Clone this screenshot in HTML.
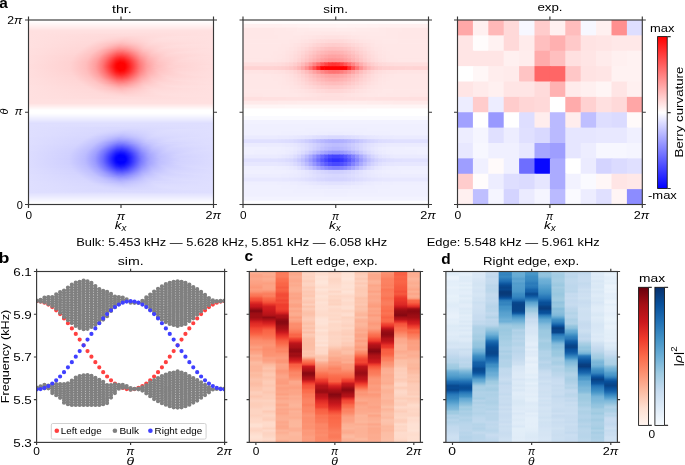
<!DOCTYPE html>
<html><head><meta charset="utf-8"><style>
html,body{margin:0;padding:0;background:#fff;overflow:hidden}
svg{display:block;will-change:transform}
text{font-family:"Liberation Sans",sans-serif;fill:#000}
</style></head><body>
<svg width="685" height="465" viewBox="0 0 685 465">
<defs>
<clipPath id="ca1"><rect x="28.50" y="20.00" width="185.00" height="184.50"/></clipPath>
<clipPath id="ca2"><rect x="243.00" y="20.00" width="185.50" height="184.50"/></clipPath>
<linearGradient id="g1" gradientUnits="userSpaceOnUse" x1="28.50" x2="213.50" y1="0" y2="0"><stop offset="0.0027" stop-color="#ffe0e0"/><stop offset="0.6676" stop-color="#ffe0e0"/><stop offset="0.9973" stop-color="#ffe0e0"/></linearGradient>
<linearGradient id="g2" gradientUnits="userSpaceOnUse" x1="28.50" x2="213.50" y1="0" y2="0"><stop offset="0.0027" stop-color="#ffe0e0"/><stop offset="0.6081" stop-color="#ffdfdf"/><stop offset="0.9973" stop-color="#ffe0e0"/></linearGradient>
<linearGradient id="g3" gradientUnits="userSpaceOnUse" x1="28.50" x2="213.50" y1="0" y2="0"><stop offset="0.0027" stop-color="#ffe0e0"/><stop offset="0.5811" stop-color="#ffdddd"/><stop offset="0.9973" stop-color="#ffe0e0"/></linearGradient>
<linearGradient id="g4" gradientUnits="userSpaceOnUse" x1="28.50" x2="213.50" y1="0" y2="0"><stop offset="0.0027" stop-color="#ffe0e0"/><stop offset="0.4568" stop-color="#ffdbdb"/><stop offset="0.9973" stop-color="#ffe0e0"/></linearGradient>
<linearGradient id="g5" gradientUnits="userSpaceOnUse" x1="28.50" x2="213.50" y1="0" y2="0"><stop offset="0.0027" stop-color="#ffe0e0"/><stop offset="0.4351" stop-color="#ffdbdb"/><stop offset="0.5703" stop-color="#ffdbdb"/><stop offset="0.9973" stop-color="#ffe0e0"/></linearGradient>
<linearGradient id="g6" gradientUnits="userSpaceOnUse" x1="28.50" x2="213.50" y1="0" y2="0"><stop offset="0.0027" stop-color="#ffe0e0"/><stop offset="0.4189" stop-color="#ffdada"/><stop offset="0.5432" stop-color="#ffd7d7"/><stop offset="0.8081" stop-color="#ffe0e0"/><stop offset="0.9973" stop-color="#ffe0e0"/></linearGradient>
<linearGradient id="g7" gradientUnits="userSpaceOnUse" x1="28.50" x2="213.50" y1="0" y2="0"><stop offset="0.0027" stop-color="#ffe0e0"/><stop offset="0.4027" stop-color="#ffdada"/><stop offset="0.5270" stop-color="#ffd4d4"/><stop offset="0.7486" stop-color="#ffdfdf"/><stop offset="0.9973" stop-color="#ffe0e0"/></linearGradient>
<linearGradient id="g8" gradientUnits="userSpaceOnUse" x1="28.50" x2="213.50" y1="0" y2="0"><stop offset="0.0027" stop-color="#ffe0e0"/><stop offset="0.3919" stop-color="#ffdada"/><stop offset="0.5216" stop-color="#ffd1d1"/><stop offset="0.7162" stop-color="#ffdfdf"/><stop offset="0.9973" stop-color="#ffe0e0"/></linearGradient>
<linearGradient id="g9" gradientUnits="userSpaceOnUse" x1="28.50" x2="213.50" y1="0" y2="0"><stop offset="0.0027" stop-color="#ffe0e0"/><stop offset="0.3757" stop-color="#ffdada"/><stop offset="0.5162" stop-color="#ffcece"/><stop offset="0.7000" stop-color="#ffdede"/><stop offset="0.9973" stop-color="#ffe0e0"/></linearGradient>
<linearGradient id="g10" gradientUnits="userSpaceOnUse" x1="28.50" x2="213.50" y1="0" y2="0"><stop offset="0.0027" stop-color="#ffe0e0"/><stop offset="0.3649" stop-color="#ffdada"/><stop offset="0.5108" stop-color="#ffc9c9"/><stop offset="0.6892" stop-color="#ffdddd"/><stop offset="0.9973" stop-color="#ffe0e0"/></linearGradient>
<linearGradient id="g11" gradientUnits="userSpaceOnUse" x1="28.50" x2="213.50" y1="0" y2="0"><stop offset="0.0027" stop-color="#ffe0e0"/><stop offset="0.3541" stop-color="#ffd9d9"/><stop offset="0.5054" stop-color="#ffc5c5"/><stop offset="0.6784" stop-color="#ffdcdc"/><stop offset="0.9973" stop-color="#ffe0e0"/></linearGradient>
<linearGradient id="g12" gradientUnits="userSpaceOnUse" x1="28.50" x2="213.50" y1="0" y2="0"><stop offset="0.0027" stop-color="#ffe0e0"/><stop offset="0.3432" stop-color="#ffd9d9"/><stop offset="0.5054" stop-color="#ffc0c0"/><stop offset="0.6676" stop-color="#ffdada"/><stop offset="0.9973" stop-color="#ffe0e0"/></linearGradient>
<linearGradient id="g13" gradientUnits="userSpaceOnUse" x1="28.50" x2="213.50" y1="0" y2="0"><stop offset="0.0027" stop-color="#ffe0e0"/><stop offset="0.3324" stop-color="#ffd9d9"/><stop offset="0.4405" stop-color="#ffc5c5"/><stop offset="0.5054" stop-color="#ffbaba"/><stop offset="0.6622" stop-color="#ffd8d8"/><stop offset="0.9865" stop-color="#ffe0e0"/><stop offset="0.9973" stop-color="#ffe0e0"/></linearGradient>
<linearGradient id="g14" gradientUnits="userSpaceOnUse" x1="28.50" x2="213.50" y1="0" y2="0"><stop offset="0.0027" stop-color="#ffe0e0"/><stop offset="0.3270" stop-color="#ffd8d8"/><stop offset="0.4243" stop-color="#ffc5c5"/><stop offset="0.4946" stop-color="#ffb3b3"/><stop offset="0.5541" stop-color="#ffbebe"/><stop offset="0.6514" stop-color="#ffd6d6"/><stop offset="0.8730" stop-color="#ffdfdf"/><stop offset="0.9973" stop-color="#ffe0e0"/></linearGradient>
<linearGradient id="g15" gradientUnits="userSpaceOnUse" x1="28.50" x2="213.50" y1="0" y2="0"><stop offset="0.0027" stop-color="#ffe0e0"/><stop offset="0.3162" stop-color="#ffd8d8"/><stop offset="0.4135" stop-color="#ffc5c5"/><stop offset="0.4946" stop-color="#ffacac"/><stop offset="0.5432" stop-color="#ffb5b5"/><stop offset="0.6405" stop-color="#ffd2d2"/><stop offset="0.8027" stop-color="#ffdede"/><stop offset="0.9973" stop-color="#ffe0e0"/></linearGradient>
<linearGradient id="g16" gradientUnits="userSpaceOnUse" x1="28.50" x2="213.50" y1="0" y2="0"><stop offset="0.0027" stop-color="#ffe0e0"/><stop offset="0.3054" stop-color="#ffd8d8"/><stop offset="0.3973" stop-color="#ffc6c6"/><stop offset="0.4892" stop-color="#ffa5a5"/><stop offset="0.5324" stop-color="#ffaaaa"/><stop offset="0.6351" stop-color="#ffcfcf"/><stop offset="0.7703" stop-color="#ffdcdc"/><stop offset="0.9973" stop-color="#ffe0e0"/></linearGradient>
<linearGradient id="g17" gradientUnits="userSpaceOnUse" x1="28.50" x2="213.50" y1="0" y2="0"><stop offset="0.0027" stop-color="#ffe0e0"/><stop offset="0.3000" stop-color="#ffd7d7"/><stop offset="0.3919" stop-color="#ffc4c4"/><stop offset="0.4892" stop-color="#ff9c9c"/><stop offset="0.5270" stop-color="#ffa1a1"/><stop offset="0.6297" stop-color="#ffcbcb"/><stop offset="0.7432" stop-color="#ffdbdb"/><stop offset="0.9973" stop-color="#ffe0e0"/></linearGradient>
<linearGradient id="g18" gradientUnits="userSpaceOnUse" x1="28.50" x2="213.50" y1="0" y2="0"><stop offset="0.0027" stop-color="#ffdfdf"/><stop offset="0.2892" stop-color="#ffd7d7"/><stop offset="0.3811" stop-color="#ffc5c5"/><stop offset="0.4892" stop-color="#ff9393"/><stop offset="0.5270" stop-color="#ff9898"/><stop offset="0.6243" stop-color="#ffc7c7"/><stop offset="0.7216" stop-color="#ffd8d8"/><stop offset="0.9973" stop-color="#ffdfdf"/></linearGradient>
<linearGradient id="g19" gradientUnits="userSpaceOnUse" x1="28.50" x2="213.50" y1="0" y2="0"><stop offset="0.0027" stop-color="#ffdfdf"/><stop offset="0.2838" stop-color="#ffd7d7"/><stop offset="0.3757" stop-color="#ffc3c3"/><stop offset="0.4514" stop-color="#ff9a9a"/><stop offset="0.4946" stop-color="#ff8888"/><stop offset="0.5324" stop-color="#ff9191"/><stop offset="0.6189" stop-color="#ffc1c1"/><stop offset="0.7054" stop-color="#ffd5d5"/><stop offset="0.9486" stop-color="#ffdfdf"/><stop offset="0.9973" stop-color="#ffdfdf"/></linearGradient>
<linearGradient id="g20" gradientUnits="userSpaceOnUse" x1="28.50" x2="213.50" y1="0" y2="0"><stop offset="0.0027" stop-color="#ffdfdf"/><stop offset="0.2784" stop-color="#ffd6d6"/><stop offset="0.3649" stop-color="#ffc4c4"/><stop offset="0.4297" stop-color="#ffa1a1"/><stop offset="0.4838" stop-color="#ff8080"/><stop offset="0.5162" stop-color="#ff8080"/><stop offset="0.6243" stop-color="#ffc0c0"/><stop offset="0.7054" stop-color="#ffd4d4"/><stop offset="0.9216" stop-color="#ffdede"/><stop offset="0.9973" stop-color="#ffdfdf"/></linearGradient>
<linearGradient id="g21" gradientUnits="userSpaceOnUse" x1="28.50" x2="213.50" y1="0" y2="0"><stop offset="0.0027" stop-color="#ffdfdf"/><stop offset="0.2676" stop-color="#ffd6d6"/><stop offset="0.3595" stop-color="#ffc3c3"/><stop offset="0.4189" stop-color="#ffa2a2"/><stop offset="0.4784" stop-color="#ff7878"/><stop offset="0.5108" stop-color="#ff7474"/><stop offset="0.5541" stop-color="#ff8d8d"/><stop offset="0.6189" stop-color="#ffbaba"/><stop offset="0.6946" stop-color="#ffd1d1"/><stop offset="0.8622" stop-color="#ffdddd"/><stop offset="0.9973" stop-color="#ffdfdf"/></linearGradient>
<linearGradient id="g22" gradientUnits="userSpaceOnUse" x1="28.50" x2="213.50" y1="0" y2="0"><stop offset="0.0027" stop-color="#ffdfdf"/><stop offset="0.2622" stop-color="#ffd6d6"/><stop offset="0.3486" stop-color="#ffc4c4"/><stop offset="0.4081" stop-color="#ffa4a4"/><stop offset="0.4784" stop-color="#ff6d6d"/><stop offset="0.5054" stop-color="#ff6767"/><stop offset="0.5378" stop-color="#ff7777"/><stop offset="0.6135" stop-color="#ffb2b2"/><stop offset="0.6784" stop-color="#ffcccc"/><stop offset="0.8081" stop-color="#ffdbdb"/><stop offset="0.9973" stop-color="#ffdfdf"/></linearGradient>
<linearGradient id="g23" gradientUnits="userSpaceOnUse" x1="28.50" x2="213.50" y1="0" y2="0"><stop offset="0.0027" stop-color="#ffdfdf"/><stop offset="0.2568" stop-color="#ffd5d5"/><stop offset="0.3432" stop-color="#ffc3c3"/><stop offset="0.3973" stop-color="#ffa7a7"/><stop offset="0.4784" stop-color="#ff6161"/><stop offset="0.5054" stop-color="#ff5b5b"/><stop offset="0.5378" stop-color="#ff6d6d"/><stop offset="0.6081" stop-color="#ffaaaa"/><stop offset="0.6676" stop-color="#ffc7c7"/><stop offset="0.7703" stop-color="#ffd8d8"/><stop offset="0.9973" stop-color="#ffdfdf"/></linearGradient>
<linearGradient id="g24" gradientUnits="userSpaceOnUse" x1="28.50" x2="213.50" y1="0" y2="0"><stop offset="0.0027" stop-color="#ffdfdf"/><stop offset="0.2514" stop-color="#ffd5d5"/><stop offset="0.3378" stop-color="#ffc2c2"/><stop offset="0.3919" stop-color="#ffa6a6"/><stop offset="0.4784" stop-color="#ff5656"/><stop offset="0.5054" stop-color="#ff5050"/><stop offset="0.5324" stop-color="#ff5e5e"/><stop offset="0.6081" stop-color="#ffa6a6"/><stop offset="0.6622" stop-color="#ffc2c2"/><stop offset="0.7541" stop-color="#ffd5d5"/><stop offset="0.9973" stop-color="#ffdfdf"/></linearGradient>
<linearGradient id="g25" gradientUnits="userSpaceOnUse" x1="28.50" x2="213.50" y1="0" y2="0"><stop offset="0.0027" stop-color="#ffdede"/><stop offset="0.2459" stop-color="#ffd4d4"/><stop offset="0.3324" stop-color="#ffc2c2"/><stop offset="0.3865" stop-color="#ffa5a5"/><stop offset="0.4405" stop-color="#ff7070"/><stop offset="0.4784" stop-color="#ff4b4b"/><stop offset="0.5054" stop-color="#ff4444"/><stop offset="0.5324" stop-color="#ff5353"/><stop offset="0.6081" stop-color="#ffa1a1"/><stop offset="0.6622" stop-color="#ffc0c0"/><stop offset="0.7486" stop-color="#ffd4d4"/><stop offset="0.9919" stop-color="#ffdede"/><stop offset="0.9973" stop-color="#ffdede"/></linearGradient>
<linearGradient id="g26" gradientUnits="userSpaceOnUse" x1="28.50" x2="213.50" y1="0" y2="0"><stop offset="0.0027" stop-color="#ffdede"/><stop offset="0.2405" stop-color="#ffd4d4"/><stop offset="0.3270" stop-color="#ffc2c2"/><stop offset="0.3811" stop-color="#ffa5a5"/><stop offset="0.4297" stop-color="#ff7575"/><stop offset="0.4784" stop-color="#ff4040"/><stop offset="0.5000" stop-color="#ff3737"/><stop offset="0.5270" stop-color="#ff4444"/><stop offset="0.6081" stop-color="#ff9c9c"/><stop offset="0.6622" stop-color="#ffbdbd"/><stop offset="0.7432" stop-color="#ffd2d2"/><stop offset="0.9541" stop-color="#ffdede"/><stop offset="0.9973" stop-color="#ffdede"/></linearGradient>
<linearGradient id="g27" gradientUnits="userSpaceOnUse" x1="28.50" x2="213.50" y1="0" y2="0"><stop offset="0.0027" stop-color="#ffdede"/><stop offset="0.2405" stop-color="#ffd3d3"/><stop offset="0.3270" stop-color="#ffc0c0"/><stop offset="0.3811" stop-color="#ffa1a1"/><stop offset="0.4297" stop-color="#ff6d6d"/><stop offset="0.4730" stop-color="#ff3939"/><stop offset="0.4946" stop-color="#ff2d2d"/><stop offset="0.5162" stop-color="#ff3131"/><stop offset="0.5486" stop-color="#ff5151"/><stop offset="0.6027" stop-color="#ff9292"/><stop offset="0.6514" stop-color="#ffb6b6"/><stop offset="0.7216" stop-color="#ffcdcd"/><stop offset="0.8730" stop-color="#ffdbdb"/><stop offset="0.9973" stop-color="#ffdede"/></linearGradient>
<linearGradient id="g28" gradientUnits="userSpaceOnUse" x1="28.50" x2="213.50" y1="0" y2="0"><stop offset="0.0027" stop-color="#ffdede"/><stop offset="0.2351" stop-color="#ffd3d3"/><stop offset="0.3216" stop-color="#ffc0c0"/><stop offset="0.3757" stop-color="#ffa1a1"/><stop offset="0.4189" stop-color="#ff7575"/><stop offset="0.4730" stop-color="#ff2f2f"/><stop offset="0.4946" stop-color="#ff2222"/><stop offset="0.5162" stop-color="#ff2727"/><stop offset="0.5486" stop-color="#ff4949"/><stop offset="0.6027" stop-color="#ff8e8e"/><stop offset="0.6514" stop-color="#ffb3b3"/><stop offset="0.7216" stop-color="#ffcccc"/><stop offset="0.8676" stop-color="#ffdbdb"/><stop offset="0.9973" stop-color="#ffdede"/></linearGradient>
<linearGradient id="g29" gradientUnits="userSpaceOnUse" x1="28.50" x2="213.50" y1="0" y2="0"><stop offset="0.0027" stop-color="#ffdede"/><stop offset="0.2351" stop-color="#ffd3d3"/><stop offset="0.3216" stop-color="#ffbebe"/><stop offset="0.3757" stop-color="#ff9e9e"/><stop offset="0.4189" stop-color="#ff6f6f"/><stop offset="0.4730" stop-color="#ff2626"/><stop offset="0.4946" stop-color="#ff1818"/><stop offset="0.5162" stop-color="#ff1d1d"/><stop offset="0.5432" stop-color="#ff3939"/><stop offset="0.6027" stop-color="#ff8989"/><stop offset="0.6459" stop-color="#ffaeae"/><stop offset="0.7108" stop-color="#ffc9c9"/><stop offset="0.8351" stop-color="#ffd9d9"/><stop offset="0.9973" stop-color="#ffdede"/></linearGradient>
<linearGradient id="g30" gradientUnits="userSpaceOnUse" x1="28.50" x2="213.50" y1="0" y2="0"><stop offset="0.0027" stop-color="#ffdede"/><stop offset="0.2297" stop-color="#ffd3d3"/><stop offset="0.3162" stop-color="#ffbfbf"/><stop offset="0.3703" stop-color="#ffa0a0"/><stop offset="0.4135" stop-color="#ff7171"/><stop offset="0.4730" stop-color="#ff1d1d"/><stop offset="0.4946" stop-color="#ff0f0f"/><stop offset="0.5162" stop-color="#ff1414"/><stop offset="0.5432" stop-color="#ff3232"/><stop offset="0.6027" stop-color="#ff8585"/><stop offset="0.6459" stop-color="#ffabab"/><stop offset="0.7054" stop-color="#ffc6c6"/><stop offset="0.8189" stop-color="#ffd7d7"/><stop offset="0.9973" stop-color="#ffdede"/></linearGradient>
<linearGradient id="g31" gradientUnits="userSpaceOnUse" x1="28.50" x2="213.50" y1="0" y2="0"><stop offset="0.0027" stop-color="#ffdede"/><stop offset="0.2297" stop-color="#ffd2d2"/><stop offset="0.3162" stop-color="#ffbdbd"/><stop offset="0.3703" stop-color="#ff9d9d"/><stop offset="0.4135" stop-color="#ff6d6d"/><stop offset="0.4730" stop-color="#ff1616"/><stop offset="0.4946" stop-color="#ff0707"/><stop offset="0.5162" stop-color="#ff0c0c"/><stop offset="0.5432" stop-color="#ff2b2b"/><stop offset="0.6027" stop-color="#ff8282"/><stop offset="0.6459" stop-color="#ffa9a9"/><stop offset="0.7054" stop-color="#ffc5c5"/><stop offset="0.8135" stop-color="#ffd7d7"/><stop offset="0.9973" stop-color="#ffdede"/></linearGradient>
<linearGradient id="g32" gradientUnits="userSpaceOnUse" x1="28.50" x2="213.50" y1="0" y2="0"><stop offset="0.0027" stop-color="#ffdede"/><stop offset="0.2243" stop-color="#ffd2d2"/><stop offset="0.3108" stop-color="#ffbebe"/><stop offset="0.3649" stop-color="#ffa0a0"/><stop offset="0.4027" stop-color="#ff7878"/><stop offset="0.4730" stop-color="#ff1010"/><stop offset="0.4946" stop-color="#ff0000"/><stop offset="0.5162" stop-color="#ff0606"/><stop offset="0.5432" stop-color="#ff2626"/><stop offset="0.5973" stop-color="#ff7878"/><stop offset="0.6405" stop-color="#ffa4a4"/><stop offset="0.6946" stop-color="#ffc0c0"/><stop offset="0.7919" stop-color="#ffd4d4"/><stop offset="0.9973" stop-color="#ffdede"/></linearGradient>
<linearGradient id="g33" gradientUnits="userSpaceOnUse" x1="28.50" x2="213.50" y1="0" y2="0"><stop offset="0.0027" stop-color="#ffdede"/><stop offset="0.2243" stop-color="#ffd2d2"/><stop offset="0.3108" stop-color="#ffbebe"/><stop offset="0.3649" stop-color="#ff9e9e"/><stop offset="0.4027" stop-color="#ff7676"/><stop offset="0.4730" stop-color="#ff0b0b"/><stop offset="0.4838" stop-color="#ff0000"/><stop offset="0.5162" stop-color="#ff0000"/><stop offset="0.5432" stop-color="#ff2121"/><stop offset="0.5973" stop-color="#ff7676"/><stop offset="0.6405" stop-color="#ffa2a2"/><stop offset="0.6946" stop-color="#ffc0c0"/><stop offset="0.7865" stop-color="#ffd3d3"/><stop offset="0.9973" stop-color="#ffdede"/></linearGradient>
<linearGradient id="g34" gradientUnits="userSpaceOnUse" x1="28.50" x2="213.50" y1="0" y2="0"><stop offset="0.0027" stop-color="#ffdddd"/><stop offset="0.2243" stop-color="#ffd2d2"/><stop offset="0.3108" stop-color="#ffbdbd"/><stop offset="0.3649" stop-color="#ff9d9d"/><stop offset="0.4027" stop-color="#ff7474"/><stop offset="0.4730" stop-color="#ff0707"/><stop offset="0.4838" stop-color="#ff0000"/><stop offset="0.5216" stop-color="#ff0101"/><stop offset="0.5541" stop-color="#ff3030"/><stop offset="0.6027" stop-color="#ff7b7b"/><stop offset="0.6459" stop-color="#ffa5a5"/><stop offset="0.7000" stop-color="#ffc1c1"/><stop offset="0.7973" stop-color="#ffd4d4"/><stop offset="0.9973" stop-color="#ffdddd"/></linearGradient>
<linearGradient id="g35" gradientUnits="userSpaceOnUse" x1="28.50" x2="213.50" y1="0" y2="0"><stop offset="0.0027" stop-color="#ffdddd"/><stop offset="0.2243" stop-color="#ffd2d2"/><stop offset="0.3108" stop-color="#ffbdbd"/><stop offset="0.3595" stop-color="#ffa1a1"/><stop offset="0.3973" stop-color="#ff7a7a"/><stop offset="0.4459" stop-color="#ff2e2e"/><stop offset="0.4730" stop-color="#ff0505"/><stop offset="0.4838" stop-color="#ff0000"/><stop offset="0.5216" stop-color="#ff0000"/><stop offset="0.5486" stop-color="#ff2525"/><stop offset="0.5973" stop-color="#ff7373"/><stop offset="0.6351" stop-color="#ff9c9c"/><stop offset="0.6838" stop-color="#ffbaba"/><stop offset="0.7649" stop-color="#ffd0d0"/><stop offset="0.9649" stop-color="#ffdddd"/><stop offset="0.9973" stop-color="#ffdddd"/></linearGradient>
<linearGradient id="g36" gradientUnits="userSpaceOnUse" x1="28.50" x2="213.50" y1="0" y2="0"><stop offset="0.0027" stop-color="#ffdddd"/><stop offset="0.2243" stop-color="#ffd2d2"/><stop offset="0.3108" stop-color="#ffbdbd"/><stop offset="0.3595" stop-color="#ffa0a0"/><stop offset="0.3973" stop-color="#ff7a7a"/><stop offset="0.4459" stop-color="#ff2d2d"/><stop offset="0.4730" stop-color="#ff0505"/><stop offset="0.4838" stop-color="#ff0000"/><stop offset="0.5216" stop-color="#ff0000"/><stop offset="0.5432" stop-color="#ff1c1c"/><stop offset="0.5973" stop-color="#ff7272"/><stop offset="0.6351" stop-color="#ff9c9c"/><stop offset="0.6838" stop-color="#ffbaba"/><stop offset="0.7649" stop-color="#ffd0d0"/><stop offset="0.9595" stop-color="#ffdddd"/><stop offset="0.9973" stop-color="#ffdddd"/></linearGradient>
<linearGradient id="g37" gradientUnits="userSpaceOnUse" x1="28.50" x2="213.50" y1="0" y2="0"><stop offset="0.0027" stop-color="#ffdddd"/><stop offset="0.2243" stop-color="#ffd2d2"/><stop offset="0.3108" stop-color="#ffbdbd"/><stop offset="0.3595" stop-color="#ffa1a1"/><stop offset="0.3973" stop-color="#ff7a7a"/><stop offset="0.4459" stop-color="#ff2e2e"/><stop offset="0.4730" stop-color="#ff0505"/><stop offset="0.4838" stop-color="#ff0000"/><stop offset="0.5216" stop-color="#ff0000"/><stop offset="0.5486" stop-color="#ff2525"/><stop offset="0.5973" stop-color="#ff7373"/><stop offset="0.6351" stop-color="#ff9c9c"/><stop offset="0.6838" stop-color="#ffbbbb"/><stop offset="0.7649" stop-color="#ffd0d0"/><stop offset="0.9649" stop-color="#ffdddd"/><stop offset="0.9973" stop-color="#ffdddd"/></linearGradient>
<linearGradient id="g38" gradientUnits="userSpaceOnUse" x1="28.50" x2="213.50" y1="0" y2="0"><stop offset="0.0027" stop-color="#ffdddd"/><stop offset="0.2243" stop-color="#ffd2d2"/><stop offset="0.3108" stop-color="#ffbdbd"/><stop offset="0.3649" stop-color="#ff9d9d"/><stop offset="0.4027" stop-color="#ff7474"/><stop offset="0.4730" stop-color="#ff0808"/><stop offset="0.4838" stop-color="#ff0000"/><stop offset="0.5216" stop-color="#ff0202"/><stop offset="0.5541" stop-color="#ff3030"/><stop offset="0.6027" stop-color="#ff7b7b"/><stop offset="0.6459" stop-color="#ffa6a6"/><stop offset="0.7054" stop-color="#ffc3c3"/><stop offset="0.8081" stop-color="#ffd5d5"/><stop offset="0.9973" stop-color="#ffdddd"/></linearGradient>
<linearGradient id="g39" gradientUnits="userSpaceOnUse" x1="28.50" x2="213.50" y1="0" y2="0"><stop offset="0.0027" stop-color="#ffdede"/><stop offset="0.2243" stop-color="#ffd2d2"/><stop offset="0.3108" stop-color="#ffbebe"/><stop offset="0.3649" stop-color="#ff9e9e"/><stop offset="0.4027" stop-color="#ff7676"/><stop offset="0.4730" stop-color="#ff0c0c"/><stop offset="0.4892" stop-color="#ff0000"/><stop offset="0.5162" stop-color="#ff0101"/><stop offset="0.5432" stop-color="#ff2222"/><stop offset="0.5973" stop-color="#ff7676"/><stop offset="0.6405" stop-color="#ffa3a3"/><stop offset="0.6946" stop-color="#ffc0c0"/><stop offset="0.7865" stop-color="#ffd3d3"/><stop offset="0.9973" stop-color="#ffdede"/></linearGradient>
<linearGradient id="g40" gradientUnits="userSpaceOnUse" x1="28.50" x2="213.50" y1="0" y2="0"><stop offset="0.0027" stop-color="#ffdede"/><stop offset="0.2243" stop-color="#ffd2d2"/><stop offset="0.3108" stop-color="#ffbfbf"/><stop offset="0.3649" stop-color="#ffa0a0"/><stop offset="0.4081" stop-color="#ff7272"/><stop offset="0.4730" stop-color="#ff1111"/><stop offset="0.4946" stop-color="#ff0101"/><stop offset="0.5162" stop-color="#ff0707"/><stop offset="0.5432" stop-color="#ff2727"/><stop offset="0.5973" stop-color="#ff7979"/><stop offset="0.6405" stop-color="#ffa4a4"/><stop offset="0.6946" stop-color="#ffc1c1"/><stop offset="0.7919" stop-color="#ffd4d4"/><stop offset="0.9973" stop-color="#ffdede"/></linearGradient>
<linearGradient id="g41" gradientUnits="userSpaceOnUse" x1="28.50" x2="213.50" y1="0" y2="0"><stop offset="0.0027" stop-color="#ffdede"/><stop offset="0.2297" stop-color="#ffd2d2"/><stop offset="0.3162" stop-color="#ffbebe"/><stop offset="0.3703" stop-color="#ff9e9e"/><stop offset="0.4135" stop-color="#ff6e6e"/><stop offset="0.4730" stop-color="#ff1717"/><stop offset="0.4946" stop-color="#ff0808"/><stop offset="0.5162" stop-color="#ff0e0e"/><stop offset="0.5432" stop-color="#ff2c2c"/><stop offset="0.6027" stop-color="#ff8282"/><stop offset="0.6459" stop-color="#ffaaaa"/><stop offset="0.7054" stop-color="#ffc5c5"/><stop offset="0.8135" stop-color="#ffd7d7"/><stop offset="0.9973" stop-color="#ffdede"/></linearGradient>
<linearGradient id="g42" gradientUnits="userSpaceOnUse" x1="28.50" x2="213.50" y1="0" y2="0"><stop offset="0.0027" stop-color="#ffdede"/><stop offset="0.2297" stop-color="#ffd3d3"/><stop offset="0.3162" stop-color="#ffbfbf"/><stop offset="0.3703" stop-color="#ffa0a0"/><stop offset="0.4135" stop-color="#ff7272"/><stop offset="0.4730" stop-color="#ff1f1f"/><stop offset="0.4946" stop-color="#ff1111"/><stop offset="0.5162" stop-color="#ff1616"/><stop offset="0.5432" stop-color="#ff3333"/><stop offset="0.6027" stop-color="#ff8686"/><stop offset="0.6459" stop-color="#ffacac"/><stop offset="0.7054" stop-color="#ffc6c6"/><stop offset="0.8189" stop-color="#ffd8d8"/><stop offset="0.9973" stop-color="#ffdede"/></linearGradient>
<linearGradient id="g43" gradientUnits="userSpaceOnUse" x1="28.50" x2="213.50" y1="0" y2="0"><stop offset="0.0027" stop-color="#ffdede"/><stop offset="0.2351" stop-color="#ffd3d3"/><stop offset="0.3216" stop-color="#ffbebe"/><stop offset="0.3757" stop-color="#ff9f9f"/><stop offset="0.4189" stop-color="#ff7070"/><stop offset="0.4730" stop-color="#ff2828"/><stop offset="0.4946" stop-color="#ff1a1a"/><stop offset="0.5162" stop-color="#ff1f1f"/><stop offset="0.5432" stop-color="#ff3b3b"/><stop offset="0.6027" stop-color="#ff8a8a"/><stop offset="0.6459" stop-color="#ffaeae"/><stop offset="0.7108" stop-color="#ffc9c9"/><stop offset="0.8351" stop-color="#ffd9d9"/><stop offset="0.9973" stop-color="#ffdede"/></linearGradient>
<linearGradient id="g44" gradientUnits="userSpaceOnUse" x1="28.50" x2="213.50" y1="0" y2="0"><stop offset="0.0027" stop-color="#ffdede"/><stop offset="0.2351" stop-color="#ffd3d3"/><stop offset="0.3216" stop-color="#ffc0c0"/><stop offset="0.3757" stop-color="#ffa2a2"/><stop offset="0.4189" stop-color="#ff7676"/><stop offset="0.4730" stop-color="#ff3131"/><stop offset="0.4946" stop-color="#ff2424"/><stop offset="0.5162" stop-color="#ff2929"/><stop offset="0.5486" stop-color="#ff4b4b"/><stop offset="0.6027" stop-color="#ff8e8e"/><stop offset="0.6514" stop-color="#ffb4b4"/><stop offset="0.7216" stop-color="#ffcccc"/><stop offset="0.8676" stop-color="#ffdbdb"/><stop offset="0.9973" stop-color="#ffdede"/></linearGradient>
<linearGradient id="g45" gradientUnits="userSpaceOnUse" x1="28.50" x2="213.50" y1="0" y2="0"><stop offset="0.0027" stop-color="#ffdede"/><stop offset="0.2405" stop-color="#ffd4d4"/><stop offset="0.3270" stop-color="#ffc0c0"/><stop offset="0.3811" stop-color="#ffa1a1"/><stop offset="0.4297" stop-color="#ff6f6f"/><stop offset="0.4730" stop-color="#ff3b3b"/><stop offset="0.5000" stop-color="#ff2e2e"/><stop offset="0.5270" stop-color="#ff3b3b"/><stop offset="0.6081" stop-color="#ff9898"/><stop offset="0.6568" stop-color="#ffb9b9"/><stop offset="0.7324" stop-color="#ffd0d0"/><stop offset="0.9054" stop-color="#ffdcdc"/><stop offset="0.9973" stop-color="#ffdede"/></linearGradient>
<linearGradient id="g46" gradientUnits="userSpaceOnUse" x1="28.50" x2="213.50" y1="0" y2="0"><stop offset="0.0027" stop-color="#ffdede"/><stop offset="0.2459" stop-color="#ffd4d4"/><stop offset="0.3324" stop-color="#ffc0c0"/><stop offset="0.3865" stop-color="#ffa1a1"/><stop offset="0.4351" stop-color="#ff7070"/><stop offset="0.4784" stop-color="#ff4242"/><stop offset="0.5054" stop-color="#ff3a3a"/><stop offset="0.5324" stop-color="#ff4b4b"/><stop offset="0.6081" stop-color="#ff9d9d"/><stop offset="0.6622" stop-color="#ffbebe"/><stop offset="0.7486" stop-color="#ffd3d3"/><stop offset="0.9757" stop-color="#ffdede"/><stop offset="0.9973" stop-color="#ffdede"/></linearGradient>
<linearGradient id="g47" gradientUnits="userSpaceOnUse" x1="28.50" x2="213.50" y1="0" y2="0"><stop offset="0.0027" stop-color="#ffdede"/><stop offset="0.2459" stop-color="#ffd5d5"/><stop offset="0.3324" stop-color="#ffc2c2"/><stop offset="0.3865" stop-color="#ffa6a6"/><stop offset="0.4405" stop-color="#ff7272"/><stop offset="0.4784" stop-color="#ff4d4d"/><stop offset="0.5054" stop-color="#ff4646"/><stop offset="0.5324" stop-color="#ff5555"/><stop offset="0.6081" stop-color="#ffa2a2"/><stop offset="0.6622" stop-color="#ffc0c0"/><stop offset="0.7486" stop-color="#ffd4d4"/><stop offset="0.9919" stop-color="#ffdede"/><stop offset="0.9973" stop-color="#ffdede"/></linearGradient>
<linearGradient id="g48" gradientUnits="userSpaceOnUse" x1="28.50" x2="213.50" y1="0" y2="0"><stop offset="0.0027" stop-color="#ffdfdf"/><stop offset="0.2514" stop-color="#ffd5d5"/><stop offset="0.3378" stop-color="#ffc3c3"/><stop offset="0.3919" stop-color="#ffa7a7"/><stop offset="0.4784" stop-color="#ff5858"/><stop offset="0.5054" stop-color="#ff5252"/><stop offset="0.5324" stop-color="#ff6060"/><stop offset="0.6081" stop-color="#ffa7a7"/><stop offset="0.6676" stop-color="#ffc5c5"/><stop offset="0.7649" stop-color="#ffd7d7"/><stop offset="0.9973" stop-color="#ffdfdf"/></linearGradient>
<linearGradient id="g49" gradientUnits="userSpaceOnUse" x1="28.50" x2="213.50" y1="0" y2="0"><stop offset="0.0027" stop-color="#ffdfdf"/><stop offset="0.2568" stop-color="#ffd5d5"/><stop offset="0.3432" stop-color="#ffc3c3"/><stop offset="0.3973" stop-color="#ffa8a8"/><stop offset="0.4784" stop-color="#ff6464"/><stop offset="0.5054" stop-color="#ff5e5e"/><stop offset="0.5378" stop-color="#ff6f6f"/><stop offset="0.6081" stop-color="#ffabab"/><stop offset="0.6676" stop-color="#ffc7c7"/><stop offset="0.7757" stop-color="#ffd8d8"/><stop offset="0.9973" stop-color="#ffdfdf"/></linearGradient>
<linearGradient id="g50" gradientUnits="userSpaceOnUse" x1="28.50" x2="213.50" y1="0" y2="0"><stop offset="0.0027" stop-color="#ffdfdf"/><stop offset="0.2622" stop-color="#ffd6d6"/><stop offset="0.3541" stop-color="#ffc2c2"/><stop offset="0.4135" stop-color="#ffa1a1"/><stop offset="0.4784" stop-color="#ff6f6f"/><stop offset="0.5054" stop-color="#ff6a6a"/><stop offset="0.5378" stop-color="#ff7979"/><stop offset="0.6135" stop-color="#ffb3b3"/><stop offset="0.6784" stop-color="#ffcccc"/><stop offset="0.8081" stop-color="#ffdbdb"/><stop offset="0.9973" stop-color="#ffdfdf"/></linearGradient>
<linearGradient id="g51" gradientUnits="userSpaceOnUse" x1="28.50" x2="213.50" y1="0" y2="0"><stop offset="0.0027" stop-color="#ffdfdf"/><stop offset="0.2730" stop-color="#ffd6d6"/><stop offset="0.3595" stop-color="#ffc3c3"/><stop offset="0.4189" stop-color="#ffa4a4"/><stop offset="0.4784" stop-color="#ff7a7a"/><stop offset="0.5108" stop-color="#ff7676"/><stop offset="0.5541" stop-color="#ff8f8f"/><stop offset="0.6189" stop-color="#ffbaba"/><stop offset="0.6946" stop-color="#ffd1d1"/><stop offset="0.8676" stop-color="#ffdddd"/><stop offset="0.9973" stop-color="#ffdfdf"/></linearGradient>
<linearGradient id="g52" gradientUnits="userSpaceOnUse" x1="28.50" x2="213.50" y1="0" y2="0"><stop offset="0.0027" stop-color="#ffdfdf"/><stop offset="0.2784" stop-color="#ffd6d6"/><stop offset="0.3649" stop-color="#ffc5c5"/><stop offset="0.4297" stop-color="#ffa3a3"/><stop offset="0.4838" stop-color="#ff8282"/><stop offset="0.5162" stop-color="#ff8282"/><stop offset="0.6243" stop-color="#ffc0c0"/><stop offset="0.7108" stop-color="#ffd5d5"/><stop offset="0.9486" stop-color="#ffdfdf"/><stop offset="0.9973" stop-color="#ffdfdf"/></linearGradient>
<linearGradient id="g53" gradientUnits="userSpaceOnUse" x1="28.50" x2="213.50" y1="0" y2="0"><stop offset="0.0027" stop-color="#ffdfdf"/><stop offset="0.2838" stop-color="#ffd7d7"/><stop offset="0.3757" stop-color="#ffc4c4"/><stop offset="0.4568" stop-color="#ff9999"/><stop offset="0.4946" stop-color="#ff8a8a"/><stop offset="0.5324" stop-color="#ff9393"/><stop offset="0.6189" stop-color="#ffc2c2"/><stop offset="0.7054" stop-color="#ffd6d6"/><stop offset="0.9595" stop-color="#ffdfdf"/><stop offset="0.9973" stop-color="#ffdfdf"/></linearGradient>
<linearGradient id="g54" gradientUnits="userSpaceOnUse" x1="28.50" x2="213.50" y1="0" y2="0"><stop offset="0.0027" stop-color="#ffdfdf"/><stop offset="0.2946" stop-color="#ffd7d7"/><stop offset="0.3865" stop-color="#ffc4c4"/><stop offset="0.4892" stop-color="#ff9595"/><stop offset="0.5270" stop-color="#ff9a9a"/><stop offset="0.6243" stop-color="#ffc7c7"/><stop offset="0.7216" stop-color="#ffd8d8"/><stop offset="0.9973" stop-color="#ffdfdf"/></linearGradient>
<linearGradient id="g55" gradientUnits="userSpaceOnUse" x1="28.50" x2="213.50" y1="0" y2="0"><stop offset="0.0027" stop-color="#ffe0e0"/><stop offset="0.3000" stop-color="#ffd7d7"/><stop offset="0.3919" stop-color="#ffc5c5"/><stop offset="0.4892" stop-color="#ff9e9e"/><stop offset="0.5270" stop-color="#ffa2a2"/><stop offset="0.6297" stop-color="#ffcccc"/><stop offset="0.7486" stop-color="#ffdbdb"/><stop offset="0.9973" stop-color="#ffe0e0"/></linearGradient>
<linearGradient id="g56" gradientUnits="userSpaceOnUse" x1="28.50" x2="213.50" y1="0" y2="0"><stop offset="0.0027" stop-color="#ffe0e0"/><stop offset="0.3108" stop-color="#ffd8d8"/><stop offset="0.4027" stop-color="#ffc5c5"/><stop offset="0.4892" stop-color="#ffa7a7"/><stop offset="0.5324" stop-color="#ffacac"/><stop offset="0.6351" stop-color="#ffd0d0"/><stop offset="0.7757" stop-color="#ffdddd"/><stop offset="0.9973" stop-color="#ffe0e0"/></linearGradient>
<linearGradient id="g57" gradientUnits="userSpaceOnUse" x1="28.50" x2="213.50" y1="0" y2="0"><stop offset="0.0027" stop-color="#ffe0e0"/><stop offset="0.3162" stop-color="#ffd8d8"/><stop offset="0.4135" stop-color="#ffc6c6"/><stop offset="0.4946" stop-color="#ffaeae"/><stop offset="0.5486" stop-color="#ffb8b8"/><stop offset="0.6459" stop-color="#ffd4d4"/><stop offset="0.8297" stop-color="#ffdede"/><stop offset="0.9973" stop-color="#ffe0e0"/></linearGradient>
<linearGradient id="g58" gradientUnits="userSpaceOnUse" x1="28.50" x2="213.50" y1="0" y2="0"><stop offset="0.0027" stop-color="#ffe0e0"/><stop offset="0.3270" stop-color="#ffd8d8"/><stop offset="0.4297" stop-color="#ffc4c4"/><stop offset="0.5000" stop-color="#ffb5b5"/><stop offset="0.5703" stop-color="#ffc4c4"/><stop offset="0.6730" stop-color="#ffd8d8"/><stop offset="0.9973" stop-color="#ffe0e0"/></linearGradient>
<linearGradient id="g59" gradientUnits="userSpaceOnUse" x1="28.50" x2="213.50" y1="0" y2="0"><stop offset="0.0027" stop-color="#ffe0e0"/><stop offset="0.3378" stop-color="#ffd9d9"/><stop offset="0.4459" stop-color="#ffc4c4"/><stop offset="0.5054" stop-color="#ffbbbb"/><stop offset="0.6622" stop-color="#ffd9d9"/><stop offset="0.9973" stop-color="#ffe0e0"/></linearGradient>
<linearGradient id="g60" gradientUnits="userSpaceOnUse" x1="28.50" x2="213.50" y1="0" y2="0"><stop offset="0.0027" stop-color="#ffe0e0"/><stop offset="0.3486" stop-color="#ffd9d9"/><stop offset="0.5054" stop-color="#ffc1c1"/><stop offset="0.6730" stop-color="#ffdbdb"/><stop offset="0.9973" stop-color="#ffe0e0"/></linearGradient>
<linearGradient id="g61" gradientUnits="userSpaceOnUse" x1="28.50" x2="213.50" y1="0" y2="0"><stop offset="0.0027" stop-color="#ffe0e0"/><stop offset="0.3595" stop-color="#ffd9d9"/><stop offset="0.5054" stop-color="#ffc6c6"/><stop offset="0.6838" stop-color="#ffdcdc"/><stop offset="0.9973" stop-color="#ffe0e0"/></linearGradient>
<linearGradient id="g62" gradientUnits="userSpaceOnUse" x1="28.50" x2="213.50" y1="0" y2="0"><stop offset="0.0027" stop-color="#ffe0e0"/><stop offset="0.3703" stop-color="#ffd9d9"/><stop offset="0.5108" stop-color="#ffcaca"/><stop offset="0.6892" stop-color="#ffdddd"/><stop offset="0.9973" stop-color="#ffe0e0"/></linearGradient>
<linearGradient id="g63" gradientUnits="userSpaceOnUse" x1="28.50" x2="213.50" y1="0" y2="0"><stop offset="0.0027" stop-color="#ffe0e0"/><stop offset="0.3811" stop-color="#ffdada"/><stop offset="0.5162" stop-color="#ffcece"/><stop offset="0.7054" stop-color="#ffdede"/><stop offset="0.9973" stop-color="#ffe0e0"/></linearGradient>
<linearGradient id="g64" gradientUnits="userSpaceOnUse" x1="28.50" x2="213.50" y1="0" y2="0"><stop offset="0.0027" stop-color="#ffe0e0"/><stop offset="0.3919" stop-color="#ffdada"/><stop offset="0.5216" stop-color="#ffd2d2"/><stop offset="0.7216" stop-color="#ffdfdf"/><stop offset="0.9973" stop-color="#ffe0e0"/></linearGradient>
<linearGradient id="g65" gradientUnits="userSpaceOnUse" x1="28.50" x2="213.50" y1="0" y2="0"><stop offset="0.0027" stop-color="#ffe0e0"/><stop offset="0.4081" stop-color="#ffdada"/><stop offset="0.5324" stop-color="#ffd5d5"/><stop offset="0.7595" stop-color="#ffdfdf"/><stop offset="0.9973" stop-color="#ffe0e0"/></linearGradient>
<linearGradient id="g66" gradientUnits="userSpaceOnUse" x1="28.50" x2="213.50" y1="0" y2="0"><stop offset="0.0027" stop-color="#ffe0e0"/><stop offset="0.4189" stop-color="#ffdbdb"/><stop offset="0.5432" stop-color="#ffd8d8"/><stop offset="0.8243" stop-color="#ffe0e0"/><stop offset="0.9973" stop-color="#ffe0e0"/></linearGradient>
<linearGradient id="g67" gradientUnits="userSpaceOnUse" x1="28.50" x2="213.50" y1="0" y2="0"><stop offset="0.0027" stop-color="#ffe0e0"/><stop offset="0.4405" stop-color="#ffdada"/><stop offset="0.5811" stop-color="#ffdcdc"/><stop offset="0.9973" stop-color="#ffe0e0"/></linearGradient>
<linearGradient id="g68" gradientUnits="userSpaceOnUse" x1="28.50" x2="213.50" y1="0" y2="0"><stop offset="0.0027" stop-color="#ffe0e0"/><stop offset="0.4622" stop-color="#ffdbdb"/><stop offset="0.9973" stop-color="#ffe0e0"/></linearGradient>
<linearGradient id="g69" gradientUnits="userSpaceOnUse" x1="28.50" x2="213.50" y1="0" y2="0"><stop offset="0.0027" stop-color="#ffe0e0"/><stop offset="0.5865" stop-color="#ffdede"/><stop offset="0.9973" stop-color="#ffe0e0"/></linearGradient>
<linearGradient id="g70" gradientUnits="userSpaceOnUse" x1="28.50" x2="213.50" y1="0" y2="0"><stop offset="0.0027" stop-color="#ffe0e0"/><stop offset="0.6135" stop-color="#ffdfdf"/><stop offset="0.9973" stop-color="#ffe0e0"/></linearGradient>
<linearGradient id="g71" gradientUnits="userSpaceOnUse" x1="28.50" x2="213.50" y1="0" y2="0"><stop offset="0.0027" stop-color="#ffe0e0"/><stop offset="0.6946" stop-color="#ffe0e0"/><stop offset="0.9973" stop-color="#ffe0e0"/></linearGradient>
<linearGradient id="g72" gradientUnits="userSpaceOnUse" x1="28.50" x2="213.50" y1="0" y2="0"><stop offset="0.0027" stop-color="#dfdfff"/><stop offset="0.6622" stop-color="#dedeff"/><stop offset="0.9973" stop-color="#dfdfff"/></linearGradient>
<linearGradient id="g73" gradientUnits="userSpaceOnUse" x1="28.50" x2="213.50" y1="0" y2="0"><stop offset="0.0027" stop-color="#dfdfff"/><stop offset="0.6081" stop-color="#ddddff"/><stop offset="0.9973" stop-color="#dfdfff"/></linearGradient>
<linearGradient id="g74" gradientUnits="userSpaceOnUse" x1="28.50" x2="213.50" y1="0" y2="0"><stop offset="0.0027" stop-color="#dfdfff"/><stop offset="0.5811" stop-color="#dcdcff"/><stop offset="0.9973" stop-color="#dfdfff"/></linearGradient>
<linearGradient id="g75" gradientUnits="userSpaceOnUse" x1="28.50" x2="213.50" y1="0" y2="0"><stop offset="0.0027" stop-color="#dfdfff"/><stop offset="0.4568" stop-color="#d9d9ff"/><stop offset="0.9973" stop-color="#dfdfff"/></linearGradient>
<linearGradient id="g76" gradientUnits="userSpaceOnUse" x1="28.50" x2="213.50" y1="0" y2="0"><stop offset="0.0027" stop-color="#dfdfff"/><stop offset="0.4351" stop-color="#d9d9ff"/><stop offset="0.5703" stop-color="#d9d9ff"/><stop offset="0.9973" stop-color="#dfdfff"/></linearGradient>
<linearGradient id="g77" gradientUnits="userSpaceOnUse" x1="28.50" x2="213.50" y1="0" y2="0"><stop offset="0.0027" stop-color="#dfdfff"/><stop offset="0.4135" stop-color="#d9d9ff"/><stop offset="0.5432" stop-color="#d6d6ff"/><stop offset="0.8135" stop-color="#dfdfff"/><stop offset="0.9973" stop-color="#dfdfff"/></linearGradient>
<linearGradient id="g78" gradientUnits="userSpaceOnUse" x1="28.50" x2="213.50" y1="0" y2="0"><stop offset="0.0027" stop-color="#dfdfff"/><stop offset="0.3973" stop-color="#d9d9ff"/><stop offset="0.5270" stop-color="#d3d3ff"/><stop offset="0.7541" stop-color="#dedeff"/><stop offset="0.9973" stop-color="#dfdfff"/></linearGradient>
<linearGradient id="g79" gradientUnits="userSpaceOnUse" x1="28.50" x2="213.50" y1="0" y2="0"><stop offset="0.0027" stop-color="#dfdfff"/><stop offset="0.3865" stop-color="#d9d9ff"/><stop offset="0.5216" stop-color="#cfcfff"/><stop offset="0.7270" stop-color="#ddddff"/><stop offset="0.9973" stop-color="#dfdfff"/></linearGradient>
<linearGradient id="g80" gradientUnits="userSpaceOnUse" x1="28.50" x2="213.50" y1="0" y2="0"><stop offset="0.0027" stop-color="#dfdfff"/><stop offset="0.3757" stop-color="#d8d8ff"/><stop offset="0.5162" stop-color="#ccccff"/><stop offset="0.7054" stop-color="#dcdcff"/><stop offset="0.9973" stop-color="#dfdfff"/></linearGradient>
<linearGradient id="g81" gradientUnits="userSpaceOnUse" x1="28.50" x2="213.50" y1="0" y2="0"><stop offset="0.0027" stop-color="#dfdfff"/><stop offset="0.3595" stop-color="#d8d8ff"/><stop offset="0.5108" stop-color="#c8c8ff"/><stop offset="0.6946" stop-color="#dbdbff"/><stop offset="0.9973" stop-color="#dfdfff"/></linearGradient>
<linearGradient id="g82" gradientUnits="userSpaceOnUse" x1="28.50" x2="213.50" y1="0" y2="0"><stop offset="0.0027" stop-color="#dfdfff"/><stop offset="0.3486" stop-color="#d8d8ff"/><stop offset="0.5054" stop-color="#c3c3ff"/><stop offset="0.6892" stop-color="#dadaff"/><stop offset="0.9973" stop-color="#dfdfff"/></linearGradient>
<linearGradient id="g83" gradientUnits="userSpaceOnUse" x1="28.50" x2="213.50" y1="0" y2="0"><stop offset="0.0027" stop-color="#dfdfff"/><stop offset="0.3378" stop-color="#d8d8ff"/><stop offset="0.5054" stop-color="#bebeff"/><stop offset="0.6784" stop-color="#d9d9ff"/><stop offset="0.9973" stop-color="#dfdfff"/></linearGradient>
<linearGradient id="g84" gradientUnits="userSpaceOnUse" x1="28.50" x2="213.50" y1="0" y2="0"><stop offset="0.0027" stop-color="#dfdfff"/><stop offset="0.3270" stop-color="#d7d7ff"/><stop offset="0.4351" stop-color="#c4c4ff"/><stop offset="0.5054" stop-color="#b8b8ff"/><stop offset="0.6676" stop-color="#d7d7ff"/><stop offset="0.9865" stop-color="#dfdfff"/><stop offset="0.9973" stop-color="#dfdfff"/></linearGradient>
<linearGradient id="g85" gradientUnits="userSpaceOnUse" x1="28.50" x2="213.50" y1="0" y2="0"><stop offset="0.0027" stop-color="#dedeff"/><stop offset="0.3216" stop-color="#d7d7ff"/><stop offset="0.4243" stop-color="#c3c3ff"/><stop offset="0.4946" stop-color="#b1b1ff"/><stop offset="0.5541" stop-color="#bcbcff"/><stop offset="0.6568" stop-color="#d4d4ff"/><stop offset="0.8838" stop-color="#dedeff"/><stop offset="0.9973" stop-color="#dedeff"/></linearGradient>
<linearGradient id="g86" gradientUnits="userSpaceOnUse" x1="28.50" x2="213.50" y1="0" y2="0"><stop offset="0.0027" stop-color="#dedeff"/><stop offset="0.3108" stop-color="#d6d6ff"/><stop offset="0.4081" stop-color="#c4c4ff"/><stop offset="0.4892" stop-color="#ababff"/><stop offset="0.5378" stop-color="#b1b1ff"/><stop offset="0.6459" stop-color="#d1d1ff"/><stop offset="0.8135" stop-color="#dcdcff"/><stop offset="0.9973" stop-color="#dedeff"/></linearGradient>
<linearGradient id="g87" gradientUnits="userSpaceOnUse" x1="28.50" x2="213.50" y1="0" y2="0"><stop offset="0.0027" stop-color="#dedeff"/><stop offset="0.3000" stop-color="#d6d6ff"/><stop offset="0.3973" stop-color="#c3c3ff"/><stop offset="0.4892" stop-color="#a3a3ff"/><stop offset="0.5324" stop-color="#a8a8ff"/><stop offset="0.6405" stop-color="#cdcdff"/><stop offset="0.7811" stop-color="#dbdbff"/><stop offset="0.9973" stop-color="#dedeff"/></linearGradient>
<linearGradient id="g88" gradientUnits="userSpaceOnUse" x1="28.50" x2="213.50" y1="0" y2="0"><stop offset="0.0027" stop-color="#dedeff"/><stop offset="0.2946" stop-color="#d5d5ff"/><stop offset="0.3865" stop-color="#c3c3ff"/><stop offset="0.4892" stop-color="#9a9aff"/><stop offset="0.5324" stop-color="#a0a0ff"/><stop offset="0.6351" stop-color="#c9c9ff"/><stop offset="0.7541" stop-color="#d9d9ff"/><stop offset="0.9973" stop-color="#dedeff"/></linearGradient>
<linearGradient id="g89" gradientUnits="userSpaceOnUse" x1="28.50" x2="213.50" y1="0" y2="0"><stop offset="0.0027" stop-color="#dedeff"/><stop offset="0.2838" stop-color="#d5d5ff"/><stop offset="0.3757" stop-color="#c3c3ff"/><stop offset="0.4838" stop-color="#9292ff"/><stop offset="0.5216" stop-color="#9393ff"/><stop offset="0.6351" stop-color="#c7c7ff"/><stop offset="0.7432" stop-color="#d8d8ff"/><stop offset="0.9973" stop-color="#dedeff"/></linearGradient>
<linearGradient id="g90" gradientUnits="userSpaceOnUse" x1="28.50" x2="213.50" y1="0" y2="0"><stop offset="0.0027" stop-color="#dedeff"/><stop offset="0.2784" stop-color="#d5d5ff"/><stop offset="0.3703" stop-color="#c2c2ff"/><stop offset="0.4514" stop-color="#9797ff"/><stop offset="0.4946" stop-color="#8686ff"/><stop offset="0.5324" stop-color="#8e8eff"/><stop offset="0.6243" stop-color="#c0c0ff"/><stop offset="0.7108" stop-color="#d3d3ff"/><stop offset="0.9486" stop-color="#ddddff"/><stop offset="0.9973" stop-color="#dedeff"/></linearGradient>
<linearGradient id="g91" gradientUnits="userSpaceOnUse" x1="28.50" x2="213.50" y1="0" y2="0"><stop offset="0.0027" stop-color="#dedeff"/><stop offset="0.2676" stop-color="#d5d5ff"/><stop offset="0.3595" stop-color="#c2c2ff"/><stop offset="0.4243" stop-color="#a1a1ff"/><stop offset="0.4838" stop-color="#7e7eff"/><stop offset="0.5162" stop-color="#7e7eff"/><stop offset="0.5811" stop-color="#a4a4ff"/><stop offset="0.6459" stop-color="#c4c4ff"/><stop offset="0.7486" stop-color="#d6d6ff"/><stop offset="0.9973" stop-color="#dedeff"/></linearGradient>
<linearGradient id="g92" gradientUnits="userSpaceOnUse" x1="28.50" x2="213.50" y1="0" y2="0"><stop offset="0.0027" stop-color="#dedeff"/><stop offset="0.2622" stop-color="#d4d4ff"/><stop offset="0.3541" stop-color="#c1c1ff"/><stop offset="0.4135" stop-color="#a2a2ff"/><stop offset="0.4784" stop-color="#7575ff"/><stop offset="0.5108" stop-color="#7171ff"/><stop offset="0.5541" stop-color="#8989ff"/><stop offset="0.6243" stop-color="#b8b8ff"/><stop offset="0.7000" stop-color="#cfcfff"/><stop offset="0.8676" stop-color="#dbdbff"/><stop offset="0.9973" stop-color="#dedeff"/></linearGradient>
<linearGradient id="g93" gradientUnits="userSpaceOnUse" x1="28.50" x2="213.50" y1="0" y2="0"><stop offset="0.0027" stop-color="#ddddff"/><stop offset="0.2568" stop-color="#d4d4ff"/><stop offset="0.3486" stop-color="#c0c0ff"/><stop offset="0.4081" stop-color="#9f9fff"/><stop offset="0.4784" stop-color="#6a6aff"/><stop offset="0.5054" stop-color="#6565ff"/><stop offset="0.5378" stop-color="#7474ff"/><stop offset="0.6189" stop-color="#b1b1ff"/><stop offset="0.6892" stop-color="#cbcbff"/><stop offset="0.8243" stop-color="#d9d9ff"/><stop offset="0.9973" stop-color="#ddddff"/></linearGradient>
<linearGradient id="g94" gradientUnits="userSpaceOnUse" x1="28.50" x2="213.50" y1="0" y2="0"><stop offset="0.0027" stop-color="#ddddff"/><stop offset="0.2514" stop-color="#d3d3ff"/><stop offset="0.3432" stop-color="#bfbfff"/><stop offset="0.4027" stop-color="#9d9dff"/><stop offset="0.4784" stop-color="#5e5eff"/><stop offset="0.5054" stop-color="#5959ff"/><stop offset="0.5378" stop-color="#6969ff"/><stop offset="0.6135" stop-color="#a9a9ff"/><stop offset="0.6784" stop-color="#c6c6ff"/><stop offset="0.7919" stop-color="#d7d7ff"/><stop offset="0.9973" stop-color="#ddddff"/></linearGradient>
<linearGradient id="g95" gradientUnits="userSpaceOnUse" x1="28.50" x2="213.50" y1="0" y2="0"><stop offset="0.0027" stop-color="#ddddff"/><stop offset="0.2459" stop-color="#d3d3ff"/><stop offset="0.3378" stop-color="#bebeff"/><stop offset="0.3919" stop-color="#a0a0ff"/><stop offset="0.4784" stop-color="#5353ff"/><stop offset="0.5054" stop-color="#4d4dff"/><stop offset="0.5378" stop-color="#5f5fff"/><stop offset="0.6135" stop-color="#a4a4ff"/><stop offset="0.6730" stop-color="#c2c2ff"/><stop offset="0.7703" stop-color="#d4d4ff"/><stop offset="0.9973" stop-color="#ddddff"/></linearGradient>
<linearGradient id="g96" gradientUnits="userSpaceOnUse" x1="28.50" x2="213.50" y1="0" y2="0"><stop offset="0.0027" stop-color="#ddddff"/><stop offset="0.2405" stop-color="#d2d2ff"/><stop offset="0.3324" stop-color="#bebeff"/><stop offset="0.3865" stop-color="#9f9fff"/><stop offset="0.4784" stop-color="#4848ff"/><stop offset="0.5054" stop-color="#4141ff"/><stop offset="0.5324" stop-color="#5050ff"/><stop offset="0.6135" stop-color="#9f9fff"/><stop offset="0.6676" stop-color="#bebeff"/><stop offset="0.7595" stop-color="#d2d2ff"/><stop offset="0.9973" stop-color="#ddddff"/></linearGradient>
<linearGradient id="g97" gradientUnits="userSpaceOnUse" x1="28.50" x2="213.50" y1="0" y2="0"><stop offset="0.0027" stop-color="#ddddff"/><stop offset="0.2351" stop-color="#d2d2ff"/><stop offset="0.3270" stop-color="#bdbdff"/><stop offset="0.3811" stop-color="#9f9fff"/><stop offset="0.4351" stop-color="#6969ff"/><stop offset="0.4784" stop-color="#3c3cff"/><stop offset="0.5054" stop-color="#3636ff"/><stop offset="0.5324" stop-color="#4545ff"/><stop offset="0.6135" stop-color="#9b9bff"/><stop offset="0.6676" stop-color="#bbbbff"/><stop offset="0.7541" stop-color="#d1d1ff"/><stop offset="0.9703" stop-color="#dcdcff"/><stop offset="0.9973" stop-color="#ddddff"/></linearGradient>
<linearGradient id="g98" gradientUnits="userSpaceOnUse" x1="28.50" x2="213.50" y1="0" y2="0"><stop offset="0.0027" stop-color="#ddddff"/><stop offset="0.2351" stop-color="#d1d1ff"/><stop offset="0.3216" stop-color="#bdbdff"/><stop offset="0.3757" stop-color="#9f9fff"/><stop offset="0.4243" stop-color="#6e6eff"/><stop offset="0.4730" stop-color="#3636ff"/><stop offset="0.5000" stop-color="#2a2aff"/><stop offset="0.5270" stop-color="#3636ff"/><stop offset="0.6135" stop-color="#9696ff"/><stop offset="0.6676" stop-color="#b9b9ff"/><stop offset="0.7486" stop-color="#cfcfff"/><stop offset="0.9432" stop-color="#dcdcff"/><stop offset="0.9973" stop-color="#ddddff"/></linearGradient>
<linearGradient id="g99" gradientUnits="userSpaceOnUse" x1="28.50" x2="213.50" y1="0" y2="0"><stop offset="0.0027" stop-color="#dcdcff"/><stop offset="0.2297" stop-color="#d1d1ff"/><stop offset="0.3162" stop-color="#bdbdff"/><stop offset="0.3703" stop-color="#9f9fff"/><stop offset="0.4189" stop-color="#6e6eff"/><stop offset="0.4730" stop-color="#2c2cff"/><stop offset="0.5000" stop-color="#1f1fff"/><stop offset="0.5270" stop-color="#2c2cff"/><stop offset="0.6135" stop-color="#9292ff"/><stop offset="0.6622" stop-color="#b4b4ff"/><stop offset="0.7378" stop-color="#ccccff"/><stop offset="0.9000" stop-color="#dadaff"/><stop offset="0.9973" stop-color="#dcdcff"/></linearGradient>
<linearGradient id="g100" gradientUnits="userSpaceOnUse" x1="28.50" x2="213.50" y1="0" y2="0"><stop offset="0.0027" stop-color="#dcdcff"/><stop offset="0.2243" stop-color="#d1d1ff"/><stop offset="0.3108" stop-color="#bebeff"/><stop offset="0.3649" stop-color="#a0a0ff"/><stop offset="0.4081" stop-color="#7676ff"/><stop offset="0.4730" stop-color="#2323ff"/><stop offset="0.4946" stop-color="#1616ff"/><stop offset="0.5162" stop-color="#1a1aff"/><stop offset="0.5486" stop-color="#3c3cff"/><stop offset="0.6081" stop-color="#8888ff"/><stop offset="0.6568" stop-color="#afafff"/><stop offset="0.7270" stop-color="#c9c9ff"/><stop offset="0.8676" stop-color="#d8d8ff"/><stop offset="0.9973" stop-color="#dcdcff"/></linearGradient>
<linearGradient id="g101" gradientUnits="userSpaceOnUse" x1="28.50" x2="213.50" y1="0" y2="0"><stop offset="0.0027" stop-color="#dcdcff"/><stop offset="0.2243" stop-color="#d0d0ff"/><stop offset="0.3108" stop-color="#bcbcff"/><stop offset="0.3649" stop-color="#9e9eff"/><stop offset="0.4081" stop-color="#7171ff"/><stop offset="0.4730" stop-color="#1a1aff"/><stop offset="0.4946" stop-color="#0d0dff"/><stop offset="0.5162" stop-color="#1111ff"/><stop offset="0.5432" stop-color="#2d2dff"/><stop offset="0.6081" stop-color="#8484ff"/><stop offset="0.6568" stop-color="#acacff"/><stop offset="0.7216" stop-color="#c6c6ff"/><stop offset="0.8459" stop-color="#d7d7ff"/><stop offset="0.9973" stop-color="#dcdcff"/></linearGradient>
<linearGradient id="g102" gradientUnits="userSpaceOnUse" x1="28.50" x2="213.50" y1="0" y2="0"><stop offset="0.0027" stop-color="#dcdcff"/><stop offset="0.2189" stop-color="#d1d1ff"/><stop offset="0.3054" stop-color="#bdbdff"/><stop offset="0.3595" stop-color="#9f9fff"/><stop offset="0.4027" stop-color="#7474ff"/><stop offset="0.4730" stop-color="#1313ff"/><stop offset="0.4946" stop-color="#0505ff"/><stop offset="0.5162" stop-color="#0a0aff"/><stop offset="0.5432" stop-color="#2727ff"/><stop offset="0.6027" stop-color="#7b7bff"/><stop offset="0.6459" stop-color="#a3a3ff"/><stop offset="0.7054" stop-color="#c1c1ff"/><stop offset="0.8081" stop-color="#d4d4ff"/><stop offset="0.9973" stop-color="#dcdcff"/></linearGradient>
<linearGradient id="g103" gradientUnits="userSpaceOnUse" x1="28.50" x2="213.50" y1="0" y2="0"><stop offset="0.0027" stop-color="#dcdcff"/><stop offset="0.2189" stop-color="#d0d0ff"/><stop offset="0.3054" stop-color="#bcbcff"/><stop offset="0.3595" stop-color="#9e9eff"/><stop offset="0.4027" stop-color="#7171ff"/><stop offset="0.4730" stop-color="#0d0dff"/><stop offset="0.4892" stop-color="#0000ff"/><stop offset="0.5162" stop-color="#0303ff"/><stop offset="0.5432" stop-color="#2121ff"/><stop offset="0.6027" stop-color="#7878ff"/><stop offset="0.6459" stop-color="#a2a2ff"/><stop offset="0.7054" stop-color="#c0c0ff"/><stop offset="0.8081" stop-color="#d3d3ff"/><stop offset="0.9973" stop-color="#dcdcff"/></linearGradient>
<linearGradient id="g104" gradientUnits="userSpaceOnUse" x1="28.50" x2="213.50" y1="0" y2="0"><stop offset="0.0027" stop-color="#dcdcff"/><stop offset="0.2189" stop-color="#d0d0ff"/><stop offset="0.3054" stop-color="#bbbbff"/><stop offset="0.3595" stop-color="#9c9cff"/><stop offset="0.4027" stop-color="#6e6eff"/><stop offset="0.4730" stop-color="#0808ff"/><stop offset="0.4892" stop-color="#0000ff"/><stop offset="0.5216" stop-color="#0202ff"/><stop offset="0.5541" stop-color="#2d2dff"/><stop offset="0.6027" stop-color="#7575ff"/><stop offset="0.6459" stop-color="#a0a0ff"/><stop offset="0.7000" stop-color="#bdbdff"/><stop offset="0.7919" stop-color="#d1d1ff"/><stop offset="0.9973" stop-color="#dcdcff"/></linearGradient>
<linearGradient id="g105" gradientUnits="userSpaceOnUse" x1="28.50" x2="213.50" y1="0" y2="0"><stop offset="0.0027" stop-color="#dcdcff"/><stop offset="0.2189" stop-color="#d0d0ff"/><stop offset="0.3054" stop-color="#bbbbff"/><stop offset="0.3595" stop-color="#9b9bff"/><stop offset="0.4027" stop-color="#6d6dff"/><stop offset="0.4730" stop-color="#0404ff"/><stop offset="0.4892" stop-color="#0000ff"/><stop offset="0.5216" stop-color="#0000ff"/><stop offset="0.5486" stop-color="#2222ff"/><stop offset="0.6027" stop-color="#7474ff"/><stop offset="0.6459" stop-color="#9f9fff"/><stop offset="0.7000" stop-color="#bdbdff"/><stop offset="0.7919" stop-color="#d1d1ff"/><stop offset="0.9973" stop-color="#dcdcff"/></linearGradient>
<linearGradient id="g106" gradientUnits="userSpaceOnUse" x1="28.50" x2="213.50" y1="0" y2="0"><stop offset="0.0027" stop-color="#dcdcff"/><stop offset="0.2189" stop-color="#cfcfff"/><stop offset="0.3054" stop-color="#babaff"/><stop offset="0.3595" stop-color="#9a9aff"/><stop offset="0.4027" stop-color="#6c6cff"/><stop offset="0.4730" stop-color="#0202ff"/><stop offset="0.5270" stop-color="#0202ff"/><stop offset="0.5703" stop-color="#4343ff"/><stop offset="0.6135" stop-color="#8080ff"/><stop offset="0.6568" stop-color="#a6a6ff"/><stop offset="0.7162" stop-color="#c2c2ff"/><stop offset="0.8243" stop-color="#d4d4ff"/><stop offset="0.9973" stop-color="#dcdcff"/></linearGradient>
<linearGradient id="g107" gradientUnits="userSpaceOnUse" x1="28.50" x2="213.50" y1="0" y2="0"><stop offset="0.0027" stop-color="#dcdcff"/><stop offset="0.2189" stop-color="#cfcfff"/><stop offset="0.3054" stop-color="#babaff"/><stop offset="0.3595" stop-color="#9a9aff"/><stop offset="0.4027" stop-color="#6b6bff"/><stop offset="0.4730" stop-color="#0202ff"/><stop offset="0.5270" stop-color="#0202ff"/><stop offset="0.5703" stop-color="#4343ff"/><stop offset="0.6135" stop-color="#8080ff"/><stop offset="0.6568" stop-color="#a6a6ff"/><stop offset="0.7162" stop-color="#c2c2ff"/><stop offset="0.8243" stop-color="#d4d4ff"/><stop offset="0.9973" stop-color="#dcdcff"/></linearGradient>
<linearGradient id="g108" gradientUnits="userSpaceOnUse" x1="28.50" x2="213.50" y1="0" y2="0"><stop offset="0.0027" stop-color="#dcdcff"/><stop offset="0.2189" stop-color="#d0d0ff"/><stop offset="0.3054" stop-color="#babaff"/><stop offset="0.3595" stop-color="#9a9aff"/><stop offset="0.4027" stop-color="#6c6cff"/><stop offset="0.4730" stop-color="#0303ff"/><stop offset="0.5270" stop-color="#0303ff"/><stop offset="0.5703" stop-color="#4343ff"/><stop offset="0.6135" stop-color="#8080ff"/><stop offset="0.6568" stop-color="#a7a7ff"/><stop offset="0.7162" stop-color="#c2c2ff"/><stop offset="0.8243" stop-color="#d4d4ff"/><stop offset="0.9973" stop-color="#dcdcff"/></linearGradient>
<linearGradient id="g109" gradientUnits="userSpaceOnUse" x1="28.50" x2="213.50" y1="0" y2="0"><stop offset="0.0027" stop-color="#dcdcff"/><stop offset="0.2189" stop-color="#d0d0ff"/><stop offset="0.3054" stop-color="#bbbbff"/><stop offset="0.3595" stop-color="#9b9bff"/><stop offset="0.4027" stop-color="#6d6dff"/><stop offset="0.4730" stop-color="#0606ff"/><stop offset="0.4838" stop-color="#0000ff"/><stop offset="0.5216" stop-color="#0000ff"/><stop offset="0.5541" stop-color="#2b2bff"/><stop offset="0.6027" stop-color="#7474ff"/><stop offset="0.6459" stop-color="#a0a0ff"/><stop offset="0.7000" stop-color="#bdbdff"/><stop offset="0.7919" stop-color="#d1d1ff"/><stop offset="0.9973" stop-color="#dcdcff"/></linearGradient>
<linearGradient id="g110" gradientUnits="userSpaceOnUse" x1="28.50" x2="213.50" y1="0" y2="0"><stop offset="0.0027" stop-color="#dcdcff"/><stop offset="0.2189" stop-color="#d0d0ff"/><stop offset="0.3054" stop-color="#bbbbff"/><stop offset="0.3595" stop-color="#9d9dff"/><stop offset="0.4027" stop-color="#6f6fff"/><stop offset="0.4730" stop-color="#0a0aff"/><stop offset="0.4838" stop-color="#0000ff"/><stop offset="0.5162" stop-color="#0000ff"/><stop offset="0.5432" stop-color="#1e1eff"/><stop offset="0.6027" stop-color="#7676ff"/><stop offset="0.6459" stop-color="#a1a1ff"/><stop offset="0.7054" stop-color="#bfbfff"/><stop offset="0.8081" stop-color="#d3d3ff"/><stop offset="0.9973" stop-color="#dcdcff"/></linearGradient>
<linearGradient id="g111" gradientUnits="userSpaceOnUse" x1="28.50" x2="213.50" y1="0" y2="0"><stop offset="0.0027" stop-color="#dcdcff"/><stop offset="0.2189" stop-color="#d0d0ff"/><stop offset="0.3054" stop-color="#bcbcff"/><stop offset="0.3595" stop-color="#9e9eff"/><stop offset="0.4027" stop-color="#7272ff"/><stop offset="0.4730" stop-color="#0f0fff"/><stop offset="0.4946" stop-color="#0101ff"/><stop offset="0.5162" stop-color="#0606ff"/><stop offset="0.5432" stop-color="#2323ff"/><stop offset="0.6027" stop-color="#7979ff"/><stop offset="0.6459" stop-color="#a2a2ff"/><stop offset="0.7054" stop-color="#c0c0ff"/><stop offset="0.8081" stop-color="#d3d3ff"/><stop offset="0.9973" stop-color="#dcdcff"/></linearGradient>
<linearGradient id="g112" gradientUnits="userSpaceOnUse" x1="28.50" x2="213.50" y1="0" y2="0"><stop offset="0.0027" stop-color="#dcdcff"/><stop offset="0.2243" stop-color="#d0d0ff"/><stop offset="0.3108" stop-color="#bbbbff"/><stop offset="0.3649" stop-color="#9c9cff"/><stop offset="0.4081" stop-color="#6f6fff"/><stop offset="0.4730" stop-color="#1616ff"/><stop offset="0.4946" stop-color="#0808ff"/><stop offset="0.5162" stop-color="#0d0dff"/><stop offset="0.5432" stop-color="#2929ff"/><stop offset="0.6027" stop-color="#7c7cff"/><stop offset="0.6459" stop-color="#a4a4ff"/><stop offset="0.7054" stop-color="#c1c1ff"/><stop offset="0.8081" stop-color="#d4d4ff"/><stop offset="0.9973" stop-color="#dcdcff"/></linearGradient>
<linearGradient id="g113" gradientUnits="userSpaceOnUse" x1="28.50" x2="213.50" y1="0" y2="0"><stop offset="0.0027" stop-color="#dcdcff"/><stop offset="0.2243" stop-color="#d1d1ff"/><stop offset="0.3108" stop-color="#bdbdff"/><stop offset="0.3649" stop-color="#9f9fff"/><stop offset="0.4081" stop-color="#7373ff"/><stop offset="0.4730" stop-color="#1d1dff"/><stop offset="0.4946" stop-color="#1010ff"/><stop offset="0.5162" stop-color="#1515ff"/><stop offset="0.5432" stop-color="#3030ff"/><stop offset="0.6081" stop-color="#8686ff"/><stop offset="0.6568" stop-color="#adadff"/><stop offset="0.7216" stop-color="#c7c7ff"/><stop offset="0.8514" stop-color="#d7d7ff"/><stop offset="0.9973" stop-color="#dcdcff"/></linearGradient>
<linearGradient id="g114" gradientUnits="userSpaceOnUse" x1="28.50" x2="213.50" y1="0" y2="0"><stop offset="0.0027" stop-color="#dcdcff"/><stop offset="0.2297" stop-color="#d1d1ff"/><stop offset="0.3162" stop-color="#bcbcff"/><stop offset="0.3703" stop-color="#9d9dff"/><stop offset="0.4135" stop-color="#7171ff"/><stop offset="0.4730" stop-color="#2626ff"/><stop offset="0.4946" stop-color="#1919ff"/><stop offset="0.5162" stop-color="#1e1eff"/><stop offset="0.5486" stop-color="#3f3fff"/><stop offset="0.6081" stop-color="#8a8aff"/><stop offset="0.6568" stop-color="#b0b0ff"/><stop offset="0.7270" stop-color="#c9c9ff"/><stop offset="0.8676" stop-color="#d9d9ff"/><stop offset="0.9973" stop-color="#dcdcff"/></linearGradient>
<linearGradient id="g115" gradientUnits="userSpaceOnUse" x1="28.50" x2="213.50" y1="0" y2="0"><stop offset="0.0027" stop-color="#dcdcff"/><stop offset="0.2297" stop-color="#d1d1ff"/><stop offset="0.3162" stop-color="#bebeff"/><stop offset="0.3703" stop-color="#a1a1ff"/><stop offset="0.4189" stop-color="#7171ff"/><stop offset="0.4730" stop-color="#3030ff"/><stop offset="0.5000" stop-color="#2323ff"/><stop offset="0.5270" stop-color="#3030ff"/><stop offset="0.6135" stop-color="#9393ff"/><stop offset="0.6622" stop-color="#b5b5ff"/><stop offset="0.7378" stop-color="#ccccff"/><stop offset="0.9054" stop-color="#dadaff"/><stop offset="0.9973" stop-color="#dcdcff"/></linearGradient>
<linearGradient id="g116" gradientUnits="userSpaceOnUse" x1="28.50" x2="213.50" y1="0" y2="0"><stop offset="0.0027" stop-color="#ddddff"/><stop offset="0.2351" stop-color="#d2d2ff"/><stop offset="0.3216" stop-color="#bebeff"/><stop offset="0.3757" stop-color="#a1a1ff"/><stop offset="0.4243" stop-color="#7171ff"/><stop offset="0.4730" stop-color="#3a3aff"/><stop offset="0.5000" stop-color="#2e2eff"/><stop offset="0.5270" stop-color="#3a3aff"/><stop offset="0.6135" stop-color="#9898ff"/><stop offset="0.6676" stop-color="#babaff"/><stop offset="0.7486" stop-color="#cfcfff"/><stop offset="0.9432" stop-color="#dcdcff"/><stop offset="0.9973" stop-color="#ddddff"/></linearGradient>
<linearGradient id="g117" gradientUnits="userSpaceOnUse" x1="28.50" x2="213.50" y1="0" y2="0"><stop offset="0.0027" stop-color="#ddddff"/><stop offset="0.2405" stop-color="#d2d2ff"/><stop offset="0.3270" stop-color="#bebeff"/><stop offset="0.3811" stop-color="#a1a1ff"/><stop offset="0.4351" stop-color="#6c6cff"/><stop offset="0.4784" stop-color="#4141ff"/><stop offset="0.5054" stop-color="#3a3aff"/><stop offset="0.5324" stop-color="#4949ff"/><stop offset="0.6135" stop-color="#9c9cff"/><stop offset="0.6676" stop-color="#bcbcff"/><stop offset="0.7541" stop-color="#d1d1ff"/><stop offset="0.9757" stop-color="#dcdcff"/><stop offset="0.9973" stop-color="#ddddff"/></linearGradient>
<linearGradient id="g118" gradientUnits="userSpaceOnUse" x1="28.50" x2="213.50" y1="0" y2="0"><stop offset="0.0027" stop-color="#ddddff"/><stop offset="0.2405" stop-color="#d3d3ff"/><stop offset="0.3324" stop-color="#bfbfff"/><stop offset="0.3865" stop-color="#a1a1ff"/><stop offset="0.4784" stop-color="#4c4cff"/><stop offset="0.5054" stop-color="#4646ff"/><stop offset="0.5324" stop-color="#5454ff"/><stop offset="0.6135" stop-color="#a1a1ff"/><stop offset="0.6730" stop-color="#c1c1ff"/><stop offset="0.7703" stop-color="#d4d4ff"/><stop offset="0.9973" stop-color="#ddddff"/></linearGradient>
<linearGradient id="g119" gradientUnits="userSpaceOnUse" x1="28.50" x2="213.50" y1="0" y2="0"><stop offset="0.0027" stop-color="#ddddff"/><stop offset="0.2459" stop-color="#d3d3ff"/><stop offset="0.3378" stop-color="#bfbfff"/><stop offset="0.3973" stop-color="#9e9eff"/><stop offset="0.4784" stop-color="#5858ff"/><stop offset="0.5054" stop-color="#5252ff"/><stop offset="0.5378" stop-color="#6363ff"/><stop offset="0.6135" stop-color="#a6a6ff"/><stop offset="0.6730" stop-color="#c3c3ff"/><stop offset="0.7757" stop-color="#d5d5ff"/><stop offset="0.9973" stop-color="#ddddff"/></linearGradient>
<linearGradient id="g120" gradientUnits="userSpaceOnUse" x1="28.50" x2="213.50" y1="0" y2="0"><stop offset="0.0027" stop-color="#ddddff"/><stop offset="0.2514" stop-color="#d4d4ff"/><stop offset="0.3432" stop-color="#c0c0ff"/><stop offset="0.4027" stop-color="#a0a0ff"/><stop offset="0.4784" stop-color="#6363ff"/><stop offset="0.5054" stop-color="#5e5eff"/><stop offset="0.5378" stop-color="#6d6dff"/><stop offset="0.6135" stop-color="#ababff"/><stop offset="0.6784" stop-color="#c7c7ff"/><stop offset="0.7919" stop-color="#d7d7ff"/><stop offset="0.9973" stop-color="#ddddff"/></linearGradient>
<linearGradient id="g121" gradientUnits="userSpaceOnUse" x1="28.50" x2="213.50" y1="0" y2="0"><stop offset="0.0027" stop-color="#ddddff"/><stop offset="0.2622" stop-color="#d3d3ff"/><stop offset="0.3486" stop-color="#c1c1ff"/><stop offset="0.4081" stop-color="#a2a2ff"/><stop offset="0.4784" stop-color="#6e6eff"/><stop offset="0.5108" stop-color="#6a6aff"/><stop offset="0.5486" stop-color="#8080ff"/><stop offset="0.6189" stop-color="#b3b3ff"/><stop offset="0.6892" stop-color="#ccccff"/><stop offset="0.8297" stop-color="#dadaff"/><stop offset="0.9973" stop-color="#ddddff"/></linearGradient>
<linearGradient id="g122" gradientUnits="userSpaceOnUse" x1="28.50" x2="213.50" y1="0" y2="0"><stop offset="0.0027" stop-color="#dedeff"/><stop offset="0.2676" stop-color="#d4d4ff"/><stop offset="0.3595" stop-color="#c0c0ff"/><stop offset="0.4243" stop-color="#9d9dff"/><stop offset="0.4784" stop-color="#7979ff"/><stop offset="0.5108" stop-color="#7676ff"/><stop offset="0.5541" stop-color="#8d8dff"/><stop offset="0.6243" stop-color="#b9b9ff"/><stop offset="0.7054" stop-color="#d0d0ff"/><stop offset="0.8946" stop-color="#dcdcff"/><stop offset="0.9973" stop-color="#dedeff"/></linearGradient>
<linearGradient id="g123" gradientUnits="userSpaceOnUse" x1="28.50" x2="213.50" y1="0" y2="0"><stop offset="0.0027" stop-color="#dedeff"/><stop offset="0.2730" stop-color="#d5d5ff"/><stop offset="0.3649" stop-color="#c1c1ff"/><stop offset="0.4351" stop-color="#9c9cff"/><stop offset="0.4838" stop-color="#8282ff"/><stop offset="0.5162" stop-color="#8282ff"/><stop offset="0.6297" stop-color="#bfbfff"/><stop offset="0.7162" stop-color="#d3d3ff"/><stop offset="0.9541" stop-color="#ddddff"/><stop offset="0.9973" stop-color="#dedeff"/></linearGradient>
<linearGradient id="g124" gradientUnits="userSpaceOnUse" x1="28.50" x2="213.50" y1="0" y2="0"><stop offset="0.0027" stop-color="#dedeff"/><stop offset="0.2784" stop-color="#d5d5ff"/><stop offset="0.3703" stop-color="#c3c3ff"/><stop offset="0.4568" stop-color="#9797ff"/><stop offset="0.5000" stop-color="#8a8aff"/><stop offset="0.5432" stop-color="#9797ff"/><stop offset="0.6297" stop-color="#c3c3ff"/><stop offset="0.7270" stop-color="#d6d6ff"/><stop offset="0.9973" stop-color="#dedeff"/></linearGradient>
<linearGradient id="g125" gradientUnits="userSpaceOnUse" x1="28.50" x2="213.50" y1="0" y2="0"><stop offset="0.0027" stop-color="#dedeff"/><stop offset="0.2892" stop-color="#d5d5ff"/><stop offset="0.3811" stop-color="#c3c3ff"/><stop offset="0.4892" stop-color="#9595ff"/><stop offset="0.5270" stop-color="#9999ff"/><stop offset="0.6297" stop-color="#c6c6ff"/><stop offset="0.7324" stop-color="#d7d7ff"/><stop offset="0.9973" stop-color="#dedeff"/></linearGradient>
<linearGradient id="g126" gradientUnits="userSpaceOnUse" x1="28.50" x2="213.50" y1="0" y2="0"><stop offset="0.0027" stop-color="#dedeff"/><stop offset="0.2946" stop-color="#d6d6ff"/><stop offset="0.3919" stop-color="#c3c3ff"/><stop offset="0.4892" stop-color="#9e9eff"/><stop offset="0.5324" stop-color="#a3a3ff"/><stop offset="0.6351" stop-color="#cbcbff"/><stop offset="0.7595" stop-color="#dadaff"/><stop offset="0.9973" stop-color="#dedeff"/></linearGradient>
<linearGradient id="g127" gradientUnits="userSpaceOnUse" x1="28.50" x2="213.50" y1="0" y2="0"><stop offset="0.0027" stop-color="#dedeff"/><stop offset="0.3054" stop-color="#d6d6ff"/><stop offset="0.4027" stop-color="#c3c3ff"/><stop offset="0.4892" stop-color="#a6a6ff"/><stop offset="0.5378" stop-color="#adadff"/><stop offset="0.6405" stop-color="#ceceff"/><stop offset="0.7865" stop-color="#dbdbff"/><stop offset="0.9973" stop-color="#dedeff"/></linearGradient>
<linearGradient id="g128" gradientUnits="userSpaceOnUse" x1="28.50" x2="213.50" y1="0" y2="0"><stop offset="0.0027" stop-color="#dedeff"/><stop offset="0.3108" stop-color="#d7d7ff"/><stop offset="0.4135" stop-color="#c3c3ff"/><stop offset="0.4946" stop-color="#adadff"/><stop offset="0.5486" stop-color="#b7b7ff"/><stop offset="0.6514" stop-color="#d2d2ff"/><stop offset="0.8405" stop-color="#ddddff"/><stop offset="0.9973" stop-color="#dedeff"/></linearGradient>
<linearGradient id="g129" gradientUnits="userSpaceOnUse" x1="28.50" x2="213.50" y1="0" y2="0"><stop offset="0.0027" stop-color="#dfdfff"/><stop offset="0.3216" stop-color="#d7d7ff"/><stop offset="0.4243" stop-color="#c4c4ff"/><stop offset="0.5000" stop-color="#b4b4ff"/><stop offset="0.5757" stop-color="#c4c4ff"/><stop offset="0.6838" stop-color="#d8d8ff"/><stop offset="0.9973" stop-color="#dfdfff"/></linearGradient>
<linearGradient id="g130" gradientUnits="userSpaceOnUse" x1="28.50" x2="213.50" y1="0" y2="0"><stop offset="0.0027" stop-color="#dfdfff"/><stop offset="0.3324" stop-color="#d7d7ff"/><stop offset="0.4514" stop-color="#c1c1ff"/><stop offset="0.5108" stop-color="#bbbbff"/><stop offset="0.6676" stop-color="#d7d7ff"/><stop offset="0.9973" stop-color="#dfdfff"/></linearGradient>
<linearGradient id="g131" gradientUnits="userSpaceOnUse" x1="28.50" x2="213.50" y1="0" y2="0"><stop offset="0.0027" stop-color="#dfdfff"/><stop offset="0.3432" stop-color="#d8d8ff"/><stop offset="0.5054" stop-color="#c0c0ff"/><stop offset="0.6784" stop-color="#d9d9ff"/><stop offset="0.9973" stop-color="#dfdfff"/></linearGradient>
<linearGradient id="g132" gradientUnits="userSpaceOnUse" x1="28.50" x2="213.50" y1="0" y2="0"><stop offset="0.0027" stop-color="#dfdfff"/><stop offset="0.3541" stop-color="#d8d8ff"/><stop offset="0.5054" stop-color="#c5c5ff"/><stop offset="0.6892" stop-color="#dbdbff"/><stop offset="0.9973" stop-color="#dfdfff"/></linearGradient>
<linearGradient id="g133" gradientUnits="userSpaceOnUse" x1="28.50" x2="213.50" y1="0" y2="0"><stop offset="0.0027" stop-color="#dfdfff"/><stop offset="0.3649" stop-color="#d8d8ff"/><stop offset="0.5108" stop-color="#c9c9ff"/><stop offset="0.7000" stop-color="#dcdcff"/><stop offset="0.9973" stop-color="#dfdfff"/></linearGradient>
<linearGradient id="g134" gradientUnits="userSpaceOnUse" x1="28.50" x2="213.50" y1="0" y2="0"><stop offset="0.0027" stop-color="#dfdfff"/><stop offset="0.3757" stop-color="#d9d9ff"/><stop offset="0.5162" stop-color="#cdcdff"/><stop offset="0.7162" stop-color="#ddddff"/><stop offset="0.9973" stop-color="#dfdfff"/></linearGradient>
<linearGradient id="g135" gradientUnits="userSpaceOnUse" x1="28.50" x2="213.50" y1="0" y2="0"><stop offset="0.0027" stop-color="#dfdfff"/><stop offset="0.3919" stop-color="#d9d9ff"/><stop offset="0.5216" stop-color="#d1d1ff"/><stop offset="0.7378" stop-color="#dedeff"/><stop offset="0.9973" stop-color="#dfdfff"/></linearGradient>
<linearGradient id="g136" gradientUnits="userSpaceOnUse" x1="28.50" x2="213.50" y1="0" y2="0"><stop offset="0.0027" stop-color="#dfdfff"/><stop offset="0.4081" stop-color="#d9d9ff"/><stop offset="0.5324" stop-color="#d4d4ff"/><stop offset="0.7703" stop-color="#dedeff"/><stop offset="0.9973" stop-color="#dfdfff"/></linearGradient>
<linearGradient id="g137" gradientUnits="userSpaceOnUse" x1="28.50" x2="213.50" y1="0" y2="0"><stop offset="0.0027" stop-color="#dfdfff"/><stop offset="0.4189" stop-color="#d9d9ff"/><stop offset="0.5486" stop-color="#d7d7ff"/><stop offset="0.8514" stop-color="#dfdfff"/><stop offset="0.9973" stop-color="#dfdfff"/></linearGradient>
<linearGradient id="g138" gradientUnits="userSpaceOnUse" x1="28.50" x2="213.50" y1="0" y2="0"><stop offset="0.0027" stop-color="#dfdfff"/><stop offset="0.4405" stop-color="#d9d9ff"/><stop offset="0.5973" stop-color="#dbdbff"/><stop offset="0.9973" stop-color="#dfdfff"/></linearGradient>
<linearGradient id="g139" gradientUnits="userSpaceOnUse" x1="28.50" x2="213.50" y1="0" y2="0"><stop offset="0.0027" stop-color="#dfdfff"/><stop offset="0.4730" stop-color="#d9d9ff"/><stop offset="0.9973" stop-color="#dfdfff"/></linearGradient>
<linearGradient id="g140" gradientUnits="userSpaceOnUse" x1="28.50" x2="213.50" y1="0" y2="0"><stop offset="0.0027" stop-color="#dfdfff"/><stop offset="0.5919" stop-color="#dcdcff"/><stop offset="0.9973" stop-color="#dfdfff"/></linearGradient>
<linearGradient id="g141" gradientUnits="userSpaceOnUse" x1="28.50" x2="213.50" y1="0" y2="0"><stop offset="0.0027" stop-color="#e2e2ff"/><stop offset="0.6243" stop-color="#e1e1ff"/><stop offset="0.9973" stop-color="#e2e2ff"/></linearGradient>
<linearGradient id="g142" gradientUnits="userSpaceOnUse" x1="28.50" x2="213.50" y1="0" y2="0"><stop offset="0.0027" stop-color="#e5e5ff"/><stop offset="0.7270" stop-color="#e5e5ff"/><stop offset="0.9973" stop-color="#e5e5ff"/></linearGradient>
<linearGradient id="cba" x1="0" x2="0" y1="0" y2="1"><stop offset="0" stop-color="#ff0000"/><stop offset="0.5" stop-color="#ffffff"/><stop offset="1" stop-color="#0000ff"/></linearGradient>
<linearGradient id="g143" x1="0" x2="0" y1="0" y2="1"><stop offset="0.0063" stop-color="#fcb297"/><stop offset="0.0187" stop-color="#fca487"/><stop offset="0.0312" stop-color="#fca386"/><stop offset="0.0437" stop-color="#fca98d"/><stop offset="0.0563" stop-color="#fca385"/><stop offset="0.0688" stop-color="#fca184"/><stop offset="0.0813" stop-color="#fc9c7d"/><stop offset="0.0938" stop-color="#fc9778"/><stop offset="0.1062" stop-color="#fc9e7f"/><stop offset="0.1187" stop-color="#fc9475"/><stop offset="0.1313" stop-color="#fb7d5d"/><stop offset="0.1437" stop-color="#fb7454"/><stop offset="0.1562" stop-color="#f6563d"/><stop offset="0.1688" stop-color="#f34b36"/><stop offset="0.1812" stop-color="#e22f27"/><stop offset="0.1938" stop-color="#cf1c1f"/><stop offset="0.2062" stop-color="#c4161c"/><stop offset="0.2188" stop-color="#a20e15"/><stop offset="0.2313" stop-color="#800610"/><stop offset="0.2437" stop-color="#9b0d14"/><stop offset="0.2562" stop-color="#a00e14"/><stop offset="0.2687" stop-color="#9f0e14"/><stop offset="0.2812" stop-color="#b31218"/><stop offset="0.2938" stop-color="#d21f20"/><stop offset="0.3063" stop-color="#e02d26"/><stop offset="0.3187" stop-color="#e73329"/><stop offset="0.3312" stop-color="#f24533"/><stop offset="0.3438" stop-color="#f45039"/><stop offset="0.3563" stop-color="#f7593f"/><stop offset="0.3688" stop-color="#fa6647"/><stop offset="0.3812" stop-color="#fb7656"/><stop offset="0.3937" stop-color="#fc8262"/><stop offset="0.4062" stop-color="#fc8e6e"/><stop offset="0.4188" stop-color="#fc8f6f"/><stop offset="0.4313" stop-color="#fc9677"/><stop offset="0.4437" stop-color="#fca081"/><stop offset="0.4562" stop-color="#fc9777"/><stop offset="0.4688" stop-color="#fca183"/><stop offset="0.4813" stop-color="#fca689"/><stop offset="0.4938" stop-color="#fcb398"/><stop offset="0.5062" stop-color="#fcaa8d"/><stop offset="0.5188" stop-color="#fcae92"/><stop offset="0.5312" stop-color="#fcbba1"/><stop offset="0.5437" stop-color="#fcb99f"/><stop offset="0.5563" stop-color="#fcb499"/><stop offset="0.5687" stop-color="#fcb69b"/><stop offset="0.5813" stop-color="#fcb499"/><stop offset="0.5938" stop-color="#fcbea4"/><stop offset="0.6062" stop-color="#fcb99e"/><stop offset="0.6188" stop-color="#fcbda3"/><stop offset="0.6312" stop-color="#fcc3ac"/><stop offset="0.6438" stop-color="#fcc1a8"/><stop offset="0.6562" stop-color="#fcbda4"/><stop offset="0.6687" stop-color="#fcbfa7"/><stop offset="0.6813" stop-color="#fdc6af"/><stop offset="0.6937" stop-color="#fdc6af"/><stop offset="0.7063" stop-color="#fdcfbc"/><stop offset="0.7188" stop-color="#fdcdb9"/><stop offset="0.7312" stop-color="#fdc6b0"/><stop offset="0.7438" stop-color="#fdcdb9"/><stop offset="0.7562" stop-color="#fdd2c0"/><stop offset="0.7688" stop-color="#fdceba"/><stop offset="0.7812" stop-color="#fdcdb8"/><stop offset="0.7937" stop-color="#fdcebb"/><stop offset="0.8063" stop-color="#fdd4c2"/><stop offset="0.8187" stop-color="#fdd4c2"/><stop offset="0.8313" stop-color="#fdd4c2"/><stop offset="0.8438" stop-color="#fdd1be"/><stop offset="0.8562" stop-color="#fdd6c4"/><stop offset="0.8688" stop-color="#fed8c8"/><stop offset="0.8812" stop-color="#fed8c7"/><stop offset="0.8938" stop-color="#fee0d1"/><stop offset="0.9062" stop-color="#fee0d2"/><stop offset="0.9187" stop-color="#fed7c7"/><stop offset="0.9313" stop-color="#fdd4c2"/><stop offset="0.9437" stop-color="#fedbcb"/><stop offset="0.9563" stop-color="#fedfd0"/><stop offset="0.9688" stop-color="#fee2d4"/><stop offset="0.9812" stop-color="#fedfd0"/><stop offset="0.9938" stop-color="#fed9c8"/></linearGradient>
<linearGradient id="g144" x1="0" x2="0" y1="0" y2="1"><stop offset="0.0063" stop-color="#fcab8f"/><stop offset="0.0187" stop-color="#fcad91"/><stop offset="0.0312" stop-color="#fca689"/><stop offset="0.0437" stop-color="#fcae92"/><stop offset="0.0563" stop-color="#fca88b"/><stop offset="0.0688" stop-color="#fc9f80"/><stop offset="0.0813" stop-color="#fca385"/><stop offset="0.0938" stop-color="#fca385"/><stop offset="0.1062" stop-color="#fca183"/><stop offset="0.1187" stop-color="#fc8f6f"/><stop offset="0.1313" stop-color="#fb7c5c"/><stop offset="0.1437" stop-color="#fc8161"/><stop offset="0.1562" stop-color="#fb6b4b"/><stop offset="0.1688" stop-color="#f96144"/><stop offset="0.1812" stop-color="#f45039"/><stop offset="0.1938" stop-color="#e73329"/><stop offset="0.2062" stop-color="#d21f20"/><stop offset="0.2188" stop-color="#cf1c1f"/><stop offset="0.2313" stop-color="#c7171c"/><stop offset="0.2437" stop-color="#be151a"/><stop offset="0.2562" stop-color="#b41318"/><stop offset="0.2687" stop-color="#910a12"/><stop offset="0.2812" stop-color="#aa1016"/><stop offset="0.2938" stop-color="#c7171c"/><stop offset="0.3063" stop-color="#d82422"/><stop offset="0.3187" stop-color="#e9362a"/><stop offset="0.3312" stop-color="#f44d38"/><stop offset="0.3438" stop-color="#f96345"/><stop offset="0.3563" stop-color="#fa6748"/><stop offset="0.3688" stop-color="#fb6d4d"/><stop offset="0.3812" stop-color="#fb7454"/><stop offset="0.3937" stop-color="#fb7d5d"/><stop offset="0.4062" stop-color="#fc8b6b"/><stop offset="0.4188" stop-color="#fc8f6f"/><stop offset="0.4313" stop-color="#fc9676"/><stop offset="0.4437" stop-color="#fc9171"/><stop offset="0.4562" stop-color="#fc8e6e"/><stop offset="0.4688" stop-color="#fc9171"/><stop offset="0.4813" stop-color="#fc9373"/><stop offset="0.4938" stop-color="#fc9474"/><stop offset="0.5062" stop-color="#fca184"/><stop offset="0.5188" stop-color="#fc9e80"/><stop offset="0.5312" stop-color="#fca78b"/><stop offset="0.5437" stop-color="#fcb89d"/><stop offset="0.5563" stop-color="#fcbfa6"/><stop offset="0.5687" stop-color="#fdc5ae"/><stop offset="0.5813" stop-color="#fcbda4"/><stop offset="0.5938" stop-color="#fdc6af"/><stop offset="0.6062" stop-color="#fdc9b3"/><stop offset="0.6188" stop-color="#fcc2aa"/><stop offset="0.6312" stop-color="#fdc7b0"/><stop offset="0.6438" stop-color="#fdccb7"/><stop offset="0.6562" stop-color="#fdcbb6"/><stop offset="0.6687" stop-color="#fdc6b0"/><stop offset="0.6813" stop-color="#fdccb8"/><stop offset="0.6937" stop-color="#fdccb7"/><stop offset="0.7063" stop-color="#fdc6b0"/><stop offset="0.7188" stop-color="#fdcbb6"/><stop offset="0.7312" stop-color="#fdcdb9"/><stop offset="0.7438" stop-color="#fdccb7"/><stop offset="0.7562" stop-color="#fdd3c1"/><stop offset="0.7688" stop-color="#fdcfbb"/><stop offset="0.7812" stop-color="#fdcfbc"/><stop offset="0.7937" stop-color="#fdd3c1"/><stop offset="0.8063" stop-color="#fdd5c4"/><stop offset="0.8187" stop-color="#fdcab5"/><stop offset="0.8313" stop-color="#fdd1be"/><stop offset="0.8438" stop-color="#fdd6c4"/><stop offset="0.8562" stop-color="#fdd0bd"/><stop offset="0.8688" stop-color="#fdceba"/><stop offset="0.8812" stop-color="#fedaca"/><stop offset="0.8938" stop-color="#fedbcb"/><stop offset="0.9062" stop-color="#fed9c9"/><stop offset="0.9187" stop-color="#fdd2bf"/><stop offset="0.9313" stop-color="#fedacb"/><stop offset="0.9437" stop-color="#fdd3c1"/><stop offset="0.9563" stop-color="#fdd4c2"/><stop offset="0.9688" stop-color="#fdd7c6"/><stop offset="0.9812" stop-color="#fedccd"/><stop offset="0.9938" stop-color="#fdd1bf"/></linearGradient>
<linearGradient id="g145" x1="0" x2="0" y1="0" y2="1"><stop offset="0.0063" stop-color="#fb7b5b"/><stop offset="0.0187" stop-color="#fb7b5b"/><stop offset="0.0312" stop-color="#fb7b5b"/><stop offset="0.0437" stop-color="#fb6f4f"/><stop offset="0.0563" stop-color="#fb6e4e"/><stop offset="0.0688" stop-color="#fa6647"/><stop offset="0.0813" stop-color="#fa6547"/><stop offset="0.0938" stop-color="#f75c41"/><stop offset="0.1062" stop-color="#f96446"/><stop offset="0.1187" stop-color="#f75c41"/><stop offset="0.1313" stop-color="#f34c37"/><stop offset="0.1437" stop-color="#f34b36"/><stop offset="0.1562" stop-color="#f5523b"/><stop offset="0.1688" stop-color="#f14532"/><stop offset="0.1812" stop-color="#f34c37"/><stop offset="0.1938" stop-color="#ef3d2d"/><stop offset="0.2062" stop-color="#f03d2d"/><stop offset="0.2188" stop-color="#f0402f"/><stop offset="0.2313" stop-color="#e9352a"/><stop offset="0.2437" stop-color="#d62221"/><stop offset="0.2562" stop-color="#b11218"/><stop offset="0.2687" stop-color="#aa1016"/><stop offset="0.2812" stop-color="#930b13"/><stop offset="0.2938" stop-color="#880811"/><stop offset="0.3063" stop-color="#8c0912"/><stop offset="0.3187" stop-color="#9e0d14"/><stop offset="0.3312" stop-color="#a70f15"/><stop offset="0.3438" stop-color="#b61319"/><stop offset="0.3563" stop-color="#cb181d"/><stop offset="0.3688" stop-color="#dd2924"/><stop offset="0.3812" stop-color="#ec382b"/><stop offset="0.3937" stop-color="#f34a35"/><stop offset="0.4062" stop-color="#f85e42"/><stop offset="0.4188" stop-color="#fa6748"/><stop offset="0.4313" stop-color="#fb7353"/><stop offset="0.4437" stop-color="#fb7e5e"/><stop offset="0.4562" stop-color="#fc8767"/><stop offset="0.4688" stop-color="#fc8565"/><stop offset="0.4813" stop-color="#fc9272"/><stop offset="0.4938" stop-color="#fc9677"/><stop offset="0.5062" stop-color="#fc9d7f"/><stop offset="0.5188" stop-color="#fc9576"/><stop offset="0.5312" stop-color="#fc9576"/><stop offset="0.5437" stop-color="#fca487"/><stop offset="0.5563" stop-color="#fca284"/><stop offset="0.5687" stop-color="#fca183"/><stop offset="0.5813" stop-color="#fc9677"/><stop offset="0.5938" stop-color="#fc9a7c"/><stop offset="0.6062" stop-color="#fca285"/><stop offset="0.6188" stop-color="#fca588"/><stop offset="0.6312" stop-color="#fc9e80"/><stop offset="0.6438" stop-color="#fc9c7e"/><stop offset="0.6562" stop-color="#fc9b7d"/><stop offset="0.6687" stop-color="#fca688"/><stop offset="0.6813" stop-color="#fc9d7f"/><stop offset="0.6937" stop-color="#fca183"/><stop offset="0.7063" stop-color="#fca588"/><stop offset="0.7188" stop-color="#fc9e7f"/><stop offset="0.7312" stop-color="#fcab8e"/><stop offset="0.7438" stop-color="#fca386"/><stop offset="0.7562" stop-color="#fcae92"/><stop offset="0.7688" stop-color="#fcad91"/><stop offset="0.7812" stop-color="#fca284"/><stop offset="0.7937" stop-color="#fcae92"/><stop offset="0.8063" stop-color="#fca588"/><stop offset="0.8187" stop-color="#fca88c"/><stop offset="0.8313" stop-color="#fca588"/><stop offset="0.8438" stop-color="#fcad91"/><stop offset="0.8562" stop-color="#fcae92"/><stop offset="0.8688" stop-color="#fcaf94"/><stop offset="0.8812" stop-color="#fca689"/><stop offset="0.8938" stop-color="#fcab8f"/><stop offset="0.9062" stop-color="#fca689"/><stop offset="0.9187" stop-color="#fca88b"/><stop offset="0.9313" stop-color="#fcb49a"/><stop offset="0.9437" stop-color="#fcae92"/><stop offset="0.9563" stop-color="#fcb69b"/><stop offset="0.9688" stop-color="#fcb89d"/><stop offset="0.9812" stop-color="#fcb89d"/><stop offset="0.9938" stop-color="#fcab8f"/></linearGradient>
<linearGradient id="g146" x1="0" x2="0" y1="0" y2="1"><stop offset="0.0063" stop-color="#fca98c"/><stop offset="0.0187" stop-color="#fca88b"/><stop offset="0.0312" stop-color="#fcaf94"/><stop offset="0.0437" stop-color="#fcaa8e"/><stop offset="0.0563" stop-color="#fca78a"/><stop offset="0.0688" stop-color="#fcad91"/><stop offset="0.0813" stop-color="#fcaa8d"/><stop offset="0.0938" stop-color="#fcaf93"/><stop offset="0.1062" stop-color="#fcb195"/><stop offset="0.1187" stop-color="#fcad91"/><stop offset="0.1313" stop-color="#fca385"/><stop offset="0.1437" stop-color="#fca78b"/><stop offset="0.1562" stop-color="#fca183"/><stop offset="0.1688" stop-color="#fca88c"/><stop offset="0.1812" stop-color="#fcab8e"/><stop offset="0.1938" stop-color="#fca284"/><stop offset="0.2062" stop-color="#fca183"/><stop offset="0.2188" stop-color="#fcae92"/><stop offset="0.2313" stop-color="#fca385"/><stop offset="0.2437" stop-color="#fcac8f"/><stop offset="0.2562" stop-color="#fcab8e"/><stop offset="0.2687" stop-color="#fc9d7e"/><stop offset="0.2812" stop-color="#fca588"/><stop offset="0.2938" stop-color="#fc9d7e"/><stop offset="0.3063" stop-color="#fc8b6b"/><stop offset="0.3187" stop-color="#fc8e6e"/><stop offset="0.3312" stop-color="#fc8a6a"/><stop offset="0.3438" stop-color="#fc8161"/><stop offset="0.3563" stop-color="#fb7757"/><stop offset="0.3688" stop-color="#fa6547"/><stop offset="0.3812" stop-color="#fa6647"/><stop offset="0.3937" stop-color="#f14331"/><stop offset="0.4062" stop-color="#e32f27"/><stop offset="0.4188" stop-color="#c0151b"/><stop offset="0.4313" stop-color="#b11218"/><stop offset="0.4437" stop-color="#ab1016"/><stop offset="0.4562" stop-color="#960b13"/><stop offset="0.4688" stop-color="#910a12"/><stop offset="0.4813" stop-color="#a30f15"/><stop offset="0.4938" stop-color="#9e0d14"/><stop offset="0.5062" stop-color="#ba1419"/><stop offset="0.5188" stop-color="#cc191d"/><stop offset="0.5312" stop-color="#e12e26"/><stop offset="0.5437" stop-color="#f85d42"/><stop offset="0.5563" stop-color="#f96346"/><stop offset="0.5687" stop-color="#fb7050"/><stop offset="0.5813" stop-color="#fb7c5c"/><stop offset="0.5938" stop-color="#fc8969"/><stop offset="0.6062" stop-color="#fc8565"/><stop offset="0.6188" stop-color="#fc8d6d"/><stop offset="0.6312" stop-color="#fc9677"/><stop offset="0.6438" stop-color="#fca88b"/><stop offset="0.6562" stop-color="#fca78b"/><stop offset="0.6687" stop-color="#fca284"/><stop offset="0.6813" stop-color="#fc9d7f"/><stop offset="0.6937" stop-color="#fca688"/><stop offset="0.7063" stop-color="#fca487"/><stop offset="0.7188" stop-color="#fca689"/><stop offset="0.7312" stop-color="#fcae92"/><stop offset="0.7438" stop-color="#fcaa8e"/><stop offset="0.7562" stop-color="#fcaf94"/><stop offset="0.7688" stop-color="#fcb196"/><stop offset="0.7812" stop-color="#fcb59a"/><stop offset="0.7937" stop-color="#fcb398"/><stop offset="0.8063" stop-color="#fca98c"/><stop offset="0.8187" stop-color="#fcb297"/><stop offset="0.8313" stop-color="#fcaf94"/><stop offset="0.8438" stop-color="#fcb094"/><stop offset="0.8562" stop-color="#fcac8f"/><stop offset="0.8688" stop-color="#fcb59a"/><stop offset="0.8812" stop-color="#fcb79c"/><stop offset="0.8938" stop-color="#fcb79c"/><stop offset="0.9062" stop-color="#fcb89d"/><stop offset="0.9187" stop-color="#fcaf94"/><stop offset="0.9313" stop-color="#fcaf93"/><stop offset="0.9437" stop-color="#fcb99f"/><stop offset="0.9563" stop-color="#fcb99f"/><stop offset="0.9688" stop-color="#fcb69b"/><stop offset="0.9812" stop-color="#fcb69b"/><stop offset="0.9938" stop-color="#fcb69b"/></linearGradient>
<linearGradient id="g147" x1="0" x2="0" y1="0" y2="1"><stop offset="0.0063" stop-color="#fdd3c1"/><stop offset="0.0187" stop-color="#fdd6c5"/><stop offset="0.0312" stop-color="#fdd2c0"/><stop offset="0.0437" stop-color="#fdd5c3"/><stop offset="0.0563" stop-color="#fdcdb9"/><stop offset="0.0688" stop-color="#fdd4c2"/><stop offset="0.0813" stop-color="#fdd3c1"/><stop offset="0.0938" stop-color="#fdcbb6"/><stop offset="0.1062" stop-color="#fdcfbc"/><stop offset="0.1187" stop-color="#fdc7b1"/><stop offset="0.1313" stop-color="#fdcbb7"/><stop offset="0.1437" stop-color="#fdc6af"/><stop offset="0.1562" stop-color="#fdd0bc"/><stop offset="0.1688" stop-color="#fdcab5"/><stop offset="0.1812" stop-color="#fdc5af"/><stop offset="0.1938" stop-color="#fdcfbc"/><stop offset="0.2062" stop-color="#fcc2aa"/><stop offset="0.2188" stop-color="#fdcdb9"/><stop offset="0.2313" stop-color="#fcc4ad"/><stop offset="0.2437" stop-color="#fcc0a8"/><stop offset="0.2562" stop-color="#fcc2ab"/><stop offset="0.2687" stop-color="#fdc9b4"/><stop offset="0.2812" stop-color="#fdccb8"/><stop offset="0.2938" stop-color="#fdc6af"/><stop offset="0.3063" stop-color="#fcc0a7"/><stop offset="0.3187" stop-color="#fdc9b3"/><stop offset="0.3312" stop-color="#fcbfa7"/><stop offset="0.3438" stop-color="#fdcab5"/><stop offset="0.3563" stop-color="#fcbea6"/><stop offset="0.3688" stop-color="#fdcbb6"/><stop offset="0.3812" stop-color="#fdc7b0"/><stop offset="0.3937" stop-color="#fcbea5"/><stop offset="0.4062" stop-color="#fcbfa6"/><stop offset="0.4188" stop-color="#fcbda4"/><stop offset="0.4313" stop-color="#fcbea4"/><stop offset="0.4437" stop-color="#fcbfa6"/><stop offset="0.4562" stop-color="#fcbfa7"/><stop offset="0.4688" stop-color="#fdc6b0"/><stop offset="0.4813" stop-color="#fcc2ab"/><stop offset="0.4938" stop-color="#fdc6b0"/><stop offset="0.5062" stop-color="#fcaa8e"/><stop offset="0.5188" stop-color="#fc8161"/><stop offset="0.5312" stop-color="#fb6a4a"/><stop offset="0.5437" stop-color="#f44e38"/><stop offset="0.5563" stop-color="#c9181d"/><stop offset="0.5687" stop-color="#b51318"/><stop offset="0.5813" stop-color="#a60f15"/><stop offset="0.5938" stop-color="#890811"/><stop offset="0.6062" stop-color="#910a12"/><stop offset="0.6188" stop-color="#a81016"/><stop offset="0.6312" stop-color="#b71319"/><stop offset="0.6438" stop-color="#d92623"/><stop offset="0.6562" stop-color="#f14231"/><stop offset="0.6687" stop-color="#f6563d"/><stop offset="0.6813" stop-color="#f7593f"/><stop offset="0.6937" stop-color="#fb6b4b"/><stop offset="0.7063" stop-color="#fb6d4d"/><stop offset="0.7188" stop-color="#fb7959"/><stop offset="0.7312" stop-color="#fb7959"/><stop offset="0.7438" stop-color="#fc8060"/><stop offset="0.7562" stop-color="#fc8464"/><stop offset="0.7688" stop-color="#fc8464"/><stop offset="0.7812" stop-color="#fb7d5d"/><stop offset="0.7937" stop-color="#fc8666"/><stop offset="0.8063" stop-color="#fc8868"/><stop offset="0.8187" stop-color="#fc8666"/><stop offset="0.8313" stop-color="#fc8e6e"/><stop offset="0.8438" stop-color="#fc9475"/><stop offset="0.8562" stop-color="#fc8e6e"/><stop offset="0.8688" stop-color="#fc9070"/><stop offset="0.8812" stop-color="#fc8f6f"/><stop offset="0.8938" stop-color="#fc9474"/><stop offset="0.9062" stop-color="#fc9171"/><stop offset="0.9187" stop-color="#fc9272"/><stop offset="0.9313" stop-color="#fc9b7c"/><stop offset="0.9437" stop-color="#fc9879"/><stop offset="0.9563" stop-color="#fc9a7b"/><stop offset="0.9688" stop-color="#fc9f81"/><stop offset="0.9812" stop-color="#fc9d7f"/><stop offset="0.9938" stop-color="#fc9c7e"/></linearGradient>
<linearGradient id="g148" x1="0" x2="0" y1="0" y2="1"><stop offset="0.0063" stop-color="#feded0"/><stop offset="0.0187" stop-color="#fedecf"/><stop offset="0.0312" stop-color="#fee4d8"/><stop offset="0.0437" stop-color="#fee1d3"/><stop offset="0.0563" stop-color="#fee6da"/><stop offset="0.0688" stop-color="#fee6da"/><stop offset="0.0813" stop-color="#fee2d5"/><stop offset="0.0938" stop-color="#fedecf"/><stop offset="0.1062" stop-color="#fee5d9"/><stop offset="0.1187" stop-color="#fedfd1"/><stop offset="0.1313" stop-color="#feddce"/><stop offset="0.1437" stop-color="#fee3d6"/><stop offset="0.1562" stop-color="#fee0d1"/><stop offset="0.1688" stop-color="#feddce"/><stop offset="0.1812" stop-color="#fee2d5"/><stop offset="0.1938" stop-color="#fedfd1"/><stop offset="0.2062" stop-color="#feded0"/><stop offset="0.2188" stop-color="#fee0d2"/><stop offset="0.2313" stop-color="#fedccd"/><stop offset="0.2437" stop-color="#fedbcc"/><stop offset="0.2562" stop-color="#fedaca"/><stop offset="0.2687" stop-color="#fee0d2"/><stop offset="0.2812" stop-color="#fee3d7"/><stop offset="0.2938" stop-color="#fee2d6"/><stop offset="0.3063" stop-color="#fee3d6"/><stop offset="0.3187" stop-color="#fedfd1"/><stop offset="0.3312" stop-color="#fedccd"/><stop offset="0.3438" stop-color="#fee4d7"/><stop offset="0.3563" stop-color="#feddce"/><stop offset="0.3688" stop-color="#fedccd"/><stop offset="0.3812" stop-color="#fee1d3"/><stop offset="0.3937" stop-color="#fedfd1"/><stop offset="0.4062" stop-color="#fee2d5"/><stop offset="0.4188" stop-color="#fedccc"/><stop offset="0.4313" stop-color="#fee3d7"/><stop offset="0.4437" stop-color="#fed8c7"/><stop offset="0.4562" stop-color="#fedaca"/><stop offset="0.4688" stop-color="#fed8c8"/><stop offset="0.4813" stop-color="#fed8c7"/><stop offset="0.4938" stop-color="#fdc9b3"/><stop offset="0.5062" stop-color="#fcc2ab"/><stop offset="0.5188" stop-color="#fdc8b3"/><stop offset="0.5312" stop-color="#fcb297"/><stop offset="0.5437" stop-color="#fca487"/><stop offset="0.5563" stop-color="#fc9a7b"/><stop offset="0.5687" stop-color="#fc8f6f"/><stop offset="0.5813" stop-color="#fc8868"/><stop offset="0.5938" stop-color="#fb7757"/><stop offset="0.6062" stop-color="#fb6b4b"/><stop offset="0.6188" stop-color="#f96144"/><stop offset="0.6312" stop-color="#f14432"/><stop offset="0.6438" stop-color="#e83429"/><stop offset="0.6562" stop-color="#d21f20"/><stop offset="0.6687" stop-color="#b51318"/><stop offset="0.6813" stop-color="#b11218"/><stop offset="0.6937" stop-color="#9f0d14"/><stop offset="0.7063" stop-color="#990c13"/><stop offset="0.7188" stop-color="#b71319"/><stop offset="0.7312" stop-color="#bd151a"/><stop offset="0.7438" stop-color="#cd1a1e"/><stop offset="0.7562" stop-color="#dd2a25"/><stop offset="0.7688" stop-color="#e73329"/><stop offset="0.7812" stop-color="#f03e2e"/><stop offset="0.7937" stop-color="#f14230"/><stop offset="0.8063" stop-color="#f85c41"/><stop offset="0.8187" stop-color="#f96345"/><stop offset="0.8313" stop-color="#fa6748"/><stop offset="0.8438" stop-color="#fb7656"/><stop offset="0.8562" stop-color="#fb7454"/><stop offset="0.8688" stop-color="#fb7b5b"/><stop offset="0.8812" stop-color="#fb7a5a"/><stop offset="0.8938" stop-color="#fc8666"/><stop offset="0.9062" stop-color="#fc8666"/><stop offset="0.9187" stop-color="#fc8464"/><stop offset="0.9313" stop-color="#fc8a6a"/><stop offset="0.9437" stop-color="#fc8767"/><stop offset="0.9563" stop-color="#fc8e6e"/><stop offset="0.9688" stop-color="#fc8969"/><stop offset="0.9812" stop-color="#fc8969"/><stop offset="0.9938" stop-color="#fc8b6b"/></linearGradient>
<linearGradient id="g149" x1="0" x2="0" y1="0" y2="1"><stop offset="0.0063" stop-color="#fdd4c3"/><stop offset="0.0187" stop-color="#fedbcb"/><stop offset="0.0312" stop-color="#fedbcc"/><stop offset="0.0437" stop-color="#fdd6c4"/><stop offset="0.0563" stop-color="#fdd7c6"/><stop offset="0.0688" stop-color="#fed9c9"/><stop offset="0.0813" stop-color="#fedccd"/><stop offset="0.0938" stop-color="#feddce"/><stop offset="0.1062" stop-color="#fee0d2"/><stop offset="0.1187" stop-color="#fdd5c4"/><stop offset="0.1313" stop-color="#fedfd1"/><stop offset="0.1437" stop-color="#fdd6c4"/><stop offset="0.1562" stop-color="#fed9c8"/><stop offset="0.1688" stop-color="#fdd2c0"/><stop offset="0.1812" stop-color="#fdd5c3"/><stop offset="0.1938" stop-color="#fdd2bf"/><stop offset="0.2062" stop-color="#fedecf"/><stop offset="0.2188" stop-color="#fed8c8"/><stop offset="0.2313" stop-color="#fed7c6"/><stop offset="0.2437" stop-color="#fedbcb"/><stop offset="0.2562" stop-color="#fed8c7"/><stop offset="0.2687" stop-color="#fedaca"/><stop offset="0.2812" stop-color="#fed7c6"/><stop offset="0.2938" stop-color="#fedfd0"/><stop offset="0.3063" stop-color="#fed8c7"/><stop offset="0.3187" stop-color="#fed8c7"/><stop offset="0.3312" stop-color="#fedac9"/><stop offset="0.3438" stop-color="#fed8c7"/><stop offset="0.3563" stop-color="#fdd2c0"/><stop offset="0.3688" stop-color="#fdd3c1"/><stop offset="0.3812" stop-color="#fdd6c5"/><stop offset="0.3937" stop-color="#fdd4c2"/><stop offset="0.4062" stop-color="#fdd6c4"/><stop offset="0.4188" stop-color="#fdd4c2"/><stop offset="0.4313" stop-color="#fdd2c0"/><stop offset="0.4437" stop-color="#fdcab4"/><stop offset="0.4562" stop-color="#fcc0a8"/><stop offset="0.4688" stop-color="#fcb79d"/><stop offset="0.4813" stop-color="#fcb398"/><stop offset="0.4938" stop-color="#fcb498"/><stop offset="0.5062" stop-color="#fca689"/><stop offset="0.5188" stop-color="#fca78b"/><stop offset="0.5312" stop-color="#fc9a7c"/><stop offset="0.5437" stop-color="#fc9a7c"/><stop offset="0.5563" stop-color="#fc8e6e"/><stop offset="0.5687" stop-color="#fc8262"/><stop offset="0.5813" stop-color="#fc8666"/><stop offset="0.5938" stop-color="#fc8060"/><stop offset="0.6062" stop-color="#fb7151"/><stop offset="0.6188" stop-color="#fb6b4b"/><stop offset="0.6312" stop-color="#fa6547"/><stop offset="0.6438" stop-color="#f96345"/><stop offset="0.6562" stop-color="#f03f2e"/><stop offset="0.6687" stop-color="#d72422"/><stop offset="0.6813" stop-color="#c4161c"/><stop offset="0.6937" stop-color="#aa1016"/><stop offset="0.7063" stop-color="#9c0d14"/><stop offset="0.7188" stop-color="#860711"/><stop offset="0.7312" stop-color="#8f0a12"/><stop offset="0.7438" stop-color="#a30f15"/><stop offset="0.7562" stop-color="#b61319"/><stop offset="0.7688" stop-color="#c0151b"/><stop offset="0.7812" stop-color="#ce1b1e"/><stop offset="0.7937" stop-color="#d92623"/><stop offset="0.8063" stop-color="#e53228"/><stop offset="0.8187" stop-color="#f24834"/><stop offset="0.8313" stop-color="#f7593f"/><stop offset="0.8438" stop-color="#fb6849"/><stop offset="0.8562" stop-color="#fa6547"/><stop offset="0.8688" stop-color="#fb6a4a"/><stop offset="0.8812" stop-color="#fb6b4b"/><stop offset="0.8938" stop-color="#fb6e4e"/><stop offset="0.9062" stop-color="#fb7050"/><stop offset="0.9187" stop-color="#fb7555"/><stop offset="0.9313" stop-color="#fb7b5b"/><stop offset="0.9437" stop-color="#fc7f5f"/><stop offset="0.9563" stop-color="#fb7a5a"/><stop offset="0.9688" stop-color="#fb7959"/><stop offset="0.9812" stop-color="#fc8060"/><stop offset="0.9938" stop-color="#fc8969"/></linearGradient>
<linearGradient id="g150" x1="0" x2="0" y1="0" y2="1"><stop offset="0.0063" stop-color="#fee1d4"/><stop offset="0.0187" stop-color="#fee4d7"/><stop offset="0.0312" stop-color="#fee3d7"/><stop offset="0.0437" stop-color="#fee6db"/><stop offset="0.0563" stop-color="#fee2d5"/><stop offset="0.0688" stop-color="#fee0d1"/><stop offset="0.0813" stop-color="#fee2d5"/><stop offset="0.0938" stop-color="#fee2d5"/><stop offset="0.1062" stop-color="#fedfd0"/><stop offset="0.1187" stop-color="#fee4d8"/><stop offset="0.1313" stop-color="#fedfd1"/><stop offset="0.1437" stop-color="#fed8c8"/><stop offset="0.1562" stop-color="#fedbcc"/><stop offset="0.1688" stop-color="#fedfd0"/><stop offset="0.1812" stop-color="#fedaca"/><stop offset="0.1938" stop-color="#fedaca"/><stop offset="0.2062" stop-color="#fedfd1"/><stop offset="0.2188" stop-color="#fedfd0"/><stop offset="0.2313" stop-color="#fdd4c2"/><stop offset="0.2437" stop-color="#fedccd"/><stop offset="0.2562" stop-color="#feded0"/><stop offset="0.2687" stop-color="#fdd3c0"/><stop offset="0.2812" stop-color="#fdd6c5"/><stop offset="0.2938" stop-color="#fed8c7"/><stop offset="0.3063" stop-color="#fdd5c4"/><stop offset="0.3187" stop-color="#fdd1be"/><stop offset="0.3312" stop-color="#fed9c8"/><stop offset="0.3438" stop-color="#fdd1be"/><stop offset="0.3563" stop-color="#fdcfbc"/><stop offset="0.3688" stop-color="#fdcdb9"/><stop offset="0.3812" stop-color="#fdd4c2"/><stop offset="0.3937" stop-color="#fdcfbb"/><stop offset="0.4062" stop-color="#fdd2c0"/><stop offset="0.4188" stop-color="#fdcab5"/><stop offset="0.4313" stop-color="#fdccb8"/><stop offset="0.4437" stop-color="#fcc0a8"/><stop offset="0.4562" stop-color="#fcbba2"/><stop offset="0.4688" stop-color="#fcc0a8"/><stop offset="0.4813" stop-color="#fcbea5"/><stop offset="0.4938" stop-color="#fcaf93"/><stop offset="0.5062" stop-color="#fcae93"/><stop offset="0.5188" stop-color="#fca78a"/><stop offset="0.5312" stop-color="#fcae92"/><stop offset="0.5437" stop-color="#fc9a7c"/><stop offset="0.5563" stop-color="#fc997a"/><stop offset="0.5687" stop-color="#fc9677"/><stop offset="0.5813" stop-color="#fc8c6c"/><stop offset="0.5938" stop-color="#fb7e5e"/><stop offset="0.6062" stop-color="#fb7454"/><stop offset="0.6188" stop-color="#fb694a"/><stop offset="0.6312" stop-color="#f34935"/><stop offset="0.6438" stop-color="#ea362a"/><stop offset="0.6562" stop-color="#c5171c"/><stop offset="0.6687" stop-color="#b71319"/><stop offset="0.6813" stop-color="#9d0d14"/><stop offset="0.6937" stop-color="#890811"/><stop offset="0.7063" stop-color="#9b0c14"/><stop offset="0.7188" stop-color="#ad1117"/><stop offset="0.7312" stop-color="#b71319"/><stop offset="0.7438" stop-color="#e02c26"/><stop offset="0.7562" stop-color="#f34a36"/><stop offset="0.7688" stop-color="#f5523b"/><stop offset="0.7812" stop-color="#fb6b4b"/><stop offset="0.7937" stop-color="#fb7151"/><stop offset="0.8063" stop-color="#fc8363"/><stop offset="0.8187" stop-color="#fc8464"/><stop offset="0.8313" stop-color="#fc8d6d"/><stop offset="0.8438" stop-color="#fc9b7d"/><stop offset="0.8562" stop-color="#fca385"/><stop offset="0.8688" stop-color="#fca285"/><stop offset="0.8812" stop-color="#fca588"/><stop offset="0.8938" stop-color="#fcb094"/><stop offset="0.9062" stop-color="#fcb195"/><stop offset="0.9187" stop-color="#fcb59a"/><stop offset="0.9313" stop-color="#fcad91"/><stop offset="0.9437" stop-color="#fcaa8e"/><stop offset="0.9563" stop-color="#fcb79c"/><stop offset="0.9688" stop-color="#fcbba2"/><stop offset="0.9812" stop-color="#fcb297"/><stop offset="0.9938" stop-color="#fcb297"/></linearGradient>
<linearGradient id="g151" x1="0" x2="0" y1="0" y2="1"><stop offset="0.0063" stop-color="#fdc8b3"/><stop offset="0.0187" stop-color="#fdcdb8"/><stop offset="0.0312" stop-color="#fdd0bd"/><stop offset="0.0437" stop-color="#fdc8b2"/><stop offset="0.0563" stop-color="#fdd2bf"/><stop offset="0.0688" stop-color="#fdc8b3"/><stop offset="0.0813" stop-color="#fdd0bd"/><stop offset="0.0938" stop-color="#fdcbb6"/><stop offset="0.1062" stop-color="#fdc9b3"/><stop offset="0.1187" stop-color="#fdcab4"/><stop offset="0.1313" stop-color="#fdccb7"/><stop offset="0.1437" stop-color="#fdcab5"/><stop offset="0.1562" stop-color="#fcc1a8"/><stop offset="0.1688" stop-color="#fdc5ae"/><stop offset="0.1812" stop-color="#fcc3ab"/><stop offset="0.1938" stop-color="#fdc7b1"/><stop offset="0.2062" stop-color="#fcbfa6"/><stop offset="0.2188" stop-color="#fcc4ad"/><stop offset="0.2313" stop-color="#fcbfa6"/><stop offset="0.2437" stop-color="#fcb89d"/><stop offset="0.2562" stop-color="#fcb499"/><stop offset="0.2687" stop-color="#fcc1a9"/><stop offset="0.2812" stop-color="#fcb398"/><stop offset="0.2938" stop-color="#fcb095"/><stop offset="0.3063" stop-color="#fcb79c"/><stop offset="0.3187" stop-color="#fcb499"/><stop offset="0.3312" stop-color="#fcae93"/><stop offset="0.3438" stop-color="#fca78a"/><stop offset="0.3563" stop-color="#fcad91"/><stop offset="0.3688" stop-color="#fca386"/><stop offset="0.3812" stop-color="#fca386"/><stop offset="0.3937" stop-color="#fcab8f"/><stop offset="0.4062" stop-color="#fc9c7e"/><stop offset="0.4188" stop-color="#fca98c"/><stop offset="0.4313" stop-color="#fca587"/><stop offset="0.4437" stop-color="#fc9a7b"/><stop offset="0.4562" stop-color="#fca284"/><stop offset="0.4688" stop-color="#fc8f6f"/><stop offset="0.4813" stop-color="#fc8161"/><stop offset="0.4938" stop-color="#fb6a4a"/><stop offset="0.5062" stop-color="#f5523b"/><stop offset="0.5188" stop-color="#f14331"/><stop offset="0.5312" stop-color="#f24633"/><stop offset="0.5437" stop-color="#e22e27"/><stop offset="0.5563" stop-color="#bb141a"/><stop offset="0.5687" stop-color="#b11217"/><stop offset="0.5813" stop-color="#a40f15"/><stop offset="0.5938" stop-color="#9a0c14"/><stop offset="0.6062" stop-color="#a30e15"/><stop offset="0.6188" stop-color="#b61319"/><stop offset="0.6312" stop-color="#be151a"/><stop offset="0.6438" stop-color="#d32020"/><stop offset="0.6562" stop-color="#ed392b"/><stop offset="0.6687" stop-color="#f5533b"/><stop offset="0.6813" stop-color="#fb6e4e"/><stop offset="0.6937" stop-color="#fc8868"/><stop offset="0.7063" stop-color="#fc9879"/><stop offset="0.7188" stop-color="#fc9475"/><stop offset="0.7312" stop-color="#fc9c7d"/><stop offset="0.7438" stop-color="#fca486"/><stop offset="0.7562" stop-color="#fca98c"/><stop offset="0.7688" stop-color="#fc9c7d"/><stop offset="0.7812" stop-color="#fca386"/><stop offset="0.7937" stop-color="#fca98c"/><stop offset="0.8063" stop-color="#fca78a"/><stop offset="0.8187" stop-color="#fca98d"/><stop offset="0.8313" stop-color="#fcac8f"/><stop offset="0.8438" stop-color="#fcb59a"/><stop offset="0.8562" stop-color="#fcb296"/><stop offset="0.8688" stop-color="#fcb397"/><stop offset="0.8812" stop-color="#fcb79c"/><stop offset="0.8938" stop-color="#fcac90"/><stop offset="0.9062" stop-color="#fcb499"/><stop offset="0.9187" stop-color="#fcb196"/><stop offset="0.9313" stop-color="#fcb195"/><stop offset="0.9437" stop-color="#fcb196"/><stop offset="0.9563" stop-color="#fcb297"/><stop offset="0.9688" stop-color="#fcb297"/><stop offset="0.9812" stop-color="#fcbba1"/><stop offset="0.9938" stop-color="#fcb094"/></linearGradient>
<linearGradient id="g152" x1="0" x2="0" y1="0" y2="1"><stop offset="0.0063" stop-color="#fcb69b"/><stop offset="0.0187" stop-color="#fca98c"/><stop offset="0.0312" stop-color="#fca98c"/><stop offset="0.0437" stop-color="#fca88b"/><stop offset="0.0563" stop-color="#fcb499"/><stop offset="0.0688" stop-color="#fcb297"/><stop offset="0.0813" stop-color="#fca688"/><stop offset="0.0938" stop-color="#fcaa8e"/><stop offset="0.1062" stop-color="#fcab8e"/><stop offset="0.1187" stop-color="#fca082"/><stop offset="0.1313" stop-color="#fcae92"/><stop offset="0.1437" stop-color="#fca588"/><stop offset="0.1562" stop-color="#fca689"/><stop offset="0.1688" stop-color="#fcaa8e"/><stop offset="0.1812" stop-color="#fca588"/><stop offset="0.1938" stop-color="#fc9f81"/><stop offset="0.2062" stop-color="#fc9c7d"/><stop offset="0.2188" stop-color="#fca98c"/><stop offset="0.2313" stop-color="#fca082"/><stop offset="0.2437" stop-color="#fca689"/><stop offset="0.2562" stop-color="#fc9a7b"/><stop offset="0.2687" stop-color="#fca588"/><stop offset="0.2812" stop-color="#fca588"/><stop offset="0.2938" stop-color="#fc9f81"/><stop offset="0.3063" stop-color="#fc9879"/><stop offset="0.3187" stop-color="#fc9f80"/><stop offset="0.3312" stop-color="#fca183"/><stop offset="0.3438" stop-color="#fc9374"/><stop offset="0.3563" stop-color="#fc8363"/><stop offset="0.3688" stop-color="#fb7252"/><stop offset="0.3812" stop-color="#fa6748"/><stop offset="0.3937" stop-color="#f44e38"/><stop offset="0.4062" stop-color="#ef3b2c"/><stop offset="0.4188" stop-color="#cc191d"/><stop offset="0.4313" stop-color="#b11218"/><stop offset="0.4437" stop-color="#a71016"/><stop offset="0.4562" stop-color="#8e0912"/><stop offset="0.4688" stop-color="#830711"/><stop offset="0.4813" stop-color="#9c0d14"/><stop offset="0.4938" stop-color="#b11217"/><stop offset="0.5062" stop-color="#b41318"/><stop offset="0.5188" stop-color="#c6171c"/><stop offset="0.5312" stop-color="#cd1a1e"/><stop offset="0.5437" stop-color="#ed392b"/><stop offset="0.5563" stop-color="#f6553c"/><stop offset="0.5687" stop-color="#fa6647"/><stop offset="0.5813" stop-color="#fb7656"/><stop offset="0.5938" stop-color="#fb7a5a"/><stop offset="0.6062" stop-color="#fc8161"/><stop offset="0.6188" stop-color="#fc8f6f"/><stop offset="0.6312" stop-color="#fc9778"/><stop offset="0.6438" stop-color="#fc9777"/><stop offset="0.6562" stop-color="#fc9676"/><stop offset="0.6687" stop-color="#fc9e80"/><stop offset="0.6813" stop-color="#fc9b7d"/><stop offset="0.6937" stop-color="#fc997a"/><stop offset="0.7063" stop-color="#fca386"/><stop offset="0.7188" stop-color="#fc9879"/><stop offset="0.7312" stop-color="#fc9c7d"/><stop offset="0.7438" stop-color="#fca385"/><stop offset="0.7562" stop-color="#fca587"/><stop offset="0.7688" stop-color="#fca588"/><stop offset="0.7812" stop-color="#fca78a"/><stop offset="0.7937" stop-color="#fca184"/><stop offset="0.8063" stop-color="#fca78a"/><stop offset="0.8187" stop-color="#fca78b"/><stop offset="0.8313" stop-color="#fcaf93"/><stop offset="0.8438" stop-color="#fca385"/><stop offset="0.8562" stop-color="#fcad91"/><stop offset="0.8688" stop-color="#fcae92"/><stop offset="0.8812" stop-color="#fcb398"/><stop offset="0.8938" stop-color="#fca588"/><stop offset="0.9062" stop-color="#fcae93"/><stop offset="0.9187" stop-color="#fca88b"/><stop offset="0.9313" stop-color="#fca98c"/><stop offset="0.9437" stop-color="#fca98c"/><stop offset="0.9563" stop-color="#fcac90"/><stop offset="0.9688" stop-color="#fcab8f"/><stop offset="0.9812" stop-color="#fcac90"/><stop offset="0.9938" stop-color="#fcaf94"/></linearGradient>
<linearGradient id="g153" x1="0" x2="0" y1="0" y2="1"><stop offset="0.0063" stop-color="#fc9575"/><stop offset="0.0187" stop-color="#fc8c6c"/><stop offset="0.0312" stop-color="#fc8969"/><stop offset="0.0437" stop-color="#fc8060"/><stop offset="0.0563" stop-color="#fc8262"/><stop offset="0.0688" stop-color="#fc8161"/><stop offset="0.0813" stop-color="#fb7e5e"/><stop offset="0.0938" stop-color="#fc8262"/><stop offset="0.1062" stop-color="#fb7656"/><stop offset="0.1187" stop-color="#fb7a5a"/><stop offset="0.1313" stop-color="#fb7d5d"/><stop offset="0.1437" stop-color="#fb7b5b"/><stop offset="0.1562" stop-color="#fb7252"/><stop offset="0.1688" stop-color="#fb7858"/><stop offset="0.1812" stop-color="#fb7d5d"/><stop offset="0.1938" stop-color="#fb7c5c"/><stop offset="0.2062" stop-color="#fb7252"/><stop offset="0.2188" stop-color="#fb7353"/><stop offset="0.2313" stop-color="#fb6b4b"/><stop offset="0.2437" stop-color="#fb7454"/><stop offset="0.2562" stop-color="#fb6d4d"/><stop offset="0.2687" stop-color="#f96346"/><stop offset="0.2812" stop-color="#fb6b4b"/><stop offset="0.2938" stop-color="#fa6748"/><stop offset="0.3063" stop-color="#f24734"/><stop offset="0.3187" stop-color="#e93529"/><stop offset="0.3312" stop-color="#c9181d"/><stop offset="0.3438" stop-color="#a60f15"/><stop offset="0.3563" stop-color="#950b13"/><stop offset="0.3688" stop-color="#8f0a12"/><stop offset="0.3812" stop-color="#9d0d14"/><stop offset="0.3937" stop-color="#b31218"/><stop offset="0.4062" stop-color="#ba1419"/><stop offset="0.4188" stop-color="#cf1c1f"/><stop offset="0.4313" stop-color="#e63228"/><stop offset="0.4437" stop-color="#ec382b"/><stop offset="0.4562" stop-color="#f75b40"/><stop offset="0.4688" stop-color="#f96144"/><stop offset="0.4813" stop-color="#f96144"/><stop offset="0.4938" stop-color="#fb6c4c"/><stop offset="0.5062" stop-color="#fb7d5d"/><stop offset="0.5188" stop-color="#fc8060"/><stop offset="0.5312" stop-color="#fc9070"/><stop offset="0.5437" stop-color="#fc9475"/><stop offset="0.5563" stop-color="#fc9d7e"/><stop offset="0.5687" stop-color="#fcad91"/><stop offset="0.5813" stop-color="#fcae93"/><stop offset="0.5938" stop-color="#fcb196"/><stop offset="0.6062" stop-color="#fcab8f"/><stop offset="0.6188" stop-color="#fcae92"/><stop offset="0.6312" stop-color="#fcb094"/><stop offset="0.6438" stop-color="#fcaf93"/><stop offset="0.6562" stop-color="#fcac90"/><stop offset="0.6687" stop-color="#fcb99e"/><stop offset="0.6813" stop-color="#fcbaa0"/><stop offset="0.6937" stop-color="#fcb296"/><stop offset="0.7063" stop-color="#fcb296"/><stop offset="0.7188" stop-color="#fcb69c"/><stop offset="0.7312" stop-color="#fcb79d"/><stop offset="0.7438" stop-color="#fcb99f"/><stop offset="0.7562" stop-color="#fcb297"/><stop offset="0.7688" stop-color="#fcb499"/><stop offset="0.7812" stop-color="#fcb89d"/><stop offset="0.7937" stop-color="#fcc1a8"/><stop offset="0.8063" stop-color="#fcb499"/><stop offset="0.8187" stop-color="#fcbba1"/><stop offset="0.8313" stop-color="#fcc0a7"/><stop offset="0.8438" stop-color="#fcbea6"/><stop offset="0.8562" stop-color="#fcb99f"/><stop offset="0.8688" stop-color="#fcc4ad"/><stop offset="0.8812" stop-color="#fcc2ab"/><stop offset="0.8938" stop-color="#fcc0a8"/><stop offset="0.9062" stop-color="#fcb89d"/><stop offset="0.9187" stop-color="#fcbaa0"/><stop offset="0.9313" stop-color="#fcb79d"/><stop offset="0.9437" stop-color="#fcbea5"/><stop offset="0.9563" stop-color="#fcbea6"/><stop offset="0.9688" stop-color="#fcbfa6"/><stop offset="0.9812" stop-color="#fcc0a8"/><stop offset="0.9938" stop-color="#fcc0a8"/></linearGradient>
<linearGradient id="g154" x1="0" x2="0" y1="0" y2="1"><stop offset="0.0063" stop-color="#f96345"/><stop offset="0.0187" stop-color="#f85e43"/><stop offset="0.0312" stop-color="#fa6748"/><stop offset="0.0437" stop-color="#f96144"/><stop offset="0.0563" stop-color="#fa6547"/><stop offset="0.0688" stop-color="#f96346"/><stop offset="0.0813" stop-color="#f85e42"/><stop offset="0.0938" stop-color="#f75a40"/><stop offset="0.1062" stop-color="#f7593f"/><stop offset="0.1187" stop-color="#f44f39"/><stop offset="0.1313" stop-color="#f75a3f"/><stop offset="0.1437" stop-color="#f24734"/><stop offset="0.1562" stop-color="#ec382b"/><stop offset="0.1688" stop-color="#e93529"/><stop offset="0.1812" stop-color="#e22e27"/><stop offset="0.1938" stop-color="#dc2824"/><stop offset="0.2062" stop-color="#cc191e"/><stop offset="0.2188" stop-color="#aa1016"/><stop offset="0.2313" stop-color="#940b13"/><stop offset="0.2437" stop-color="#8f0a12"/><stop offset="0.2562" stop-color="#840711"/><stop offset="0.2687" stop-color="#a50f15"/><stop offset="0.2812" stop-color="#bb141a"/><stop offset="0.2938" stop-color="#e22e27"/><stop offset="0.3063" stop-color="#f6553c"/><stop offset="0.3187" stop-color="#f75c41"/><stop offset="0.3312" stop-color="#fb6e4e"/><stop offset="0.3438" stop-color="#fb7151"/><stop offset="0.3563" stop-color="#fc7f5f"/><stop offset="0.3688" stop-color="#fc8d6d"/><stop offset="0.3812" stop-color="#fc9677"/><stop offset="0.3937" stop-color="#fca78a"/><stop offset="0.4062" stop-color="#fcaa8e"/><stop offset="0.4188" stop-color="#fcab8f"/><stop offset="0.4313" stop-color="#fcb398"/><stop offset="0.4437" stop-color="#fcb297"/><stop offset="0.4562" stop-color="#fcb397"/><stop offset="0.4688" stop-color="#fcaa8e"/><stop offset="0.4813" stop-color="#fcb095"/><stop offset="0.4938" stop-color="#fcb79c"/><stop offset="0.5062" stop-color="#fcaf93"/><stop offset="0.5188" stop-color="#fcbfa6"/><stop offset="0.5312" stop-color="#fcc0a7"/><stop offset="0.5437" stop-color="#fcc1a9"/><stop offset="0.5563" stop-color="#fdc6af"/><stop offset="0.5687" stop-color="#fdceba"/><stop offset="0.5813" stop-color="#fdccb7"/><stop offset="0.5938" stop-color="#fdd0bd"/><stop offset="0.6062" stop-color="#fdcdb9"/><stop offset="0.6188" stop-color="#fdd1be"/><stop offset="0.6312" stop-color="#fdcab5"/><stop offset="0.6438" stop-color="#fdceba"/><stop offset="0.6562" stop-color="#fed7c7"/><stop offset="0.6687" stop-color="#fed7c6"/><stop offset="0.6813" stop-color="#fdcbb6"/><stop offset="0.6937" stop-color="#fdd6c5"/><stop offset="0.7063" stop-color="#fed9c9"/><stop offset="0.7188" stop-color="#fdd6c5"/><stop offset="0.7312" stop-color="#fdd3c1"/><stop offset="0.7438" stop-color="#fdcdb8"/><stop offset="0.7562" stop-color="#fdd5c3"/><stop offset="0.7688" stop-color="#fdd0bd"/><stop offset="0.7812" stop-color="#fdcfbc"/><stop offset="0.7937" stop-color="#fedacb"/><stop offset="0.8063" stop-color="#fdd3c1"/><stop offset="0.8187" stop-color="#fdcdb9"/><stop offset="0.8313" stop-color="#fdd4c3"/><stop offset="0.8438" stop-color="#fdd5c3"/><stop offset="0.8562" stop-color="#fed8c7"/><stop offset="0.8688" stop-color="#fdcfbc"/><stop offset="0.8812" stop-color="#fdcfbc"/><stop offset="0.8938" stop-color="#fedccd"/><stop offset="0.9062" stop-color="#fdd6c5"/><stop offset="0.9187" stop-color="#fed8c8"/><stop offset="0.9313" stop-color="#fdd5c3"/><stop offset="0.9437" stop-color="#feddce"/><stop offset="0.9563" stop-color="#fedbcc"/><stop offset="0.9688" stop-color="#fedbcc"/><stop offset="0.9812" stop-color="#fed9c8"/><stop offset="0.9938" stop-color="#fdd4c2"/></linearGradient>
<linearGradient id="g155" x1="0" x2="0" y1="0" y2="1"><stop offset="0.0063" stop-color="#fcae92"/><stop offset="0.0187" stop-color="#fcae92"/><stop offset="0.0312" stop-color="#fcaf93"/><stop offset="0.0437" stop-color="#fcb79d"/><stop offset="0.0563" stop-color="#fcb196"/><stop offset="0.0688" stop-color="#fcac8f"/><stop offset="0.0813" stop-color="#fcb195"/><stop offset="0.0938" stop-color="#fcac90"/><stop offset="0.1062" stop-color="#fca587"/><stop offset="0.1187" stop-color="#fcb195"/><stop offset="0.1313" stop-color="#fca386"/><stop offset="0.1437" stop-color="#fcaf93"/><stop offset="0.1562" stop-color="#fca486"/><stop offset="0.1688" stop-color="#fb6a4a"/><stop offset="0.1812" stop-color="#f96245"/><stop offset="0.1938" stop-color="#f24733"/><stop offset="0.2062" stop-color="#dd2924"/><stop offset="0.2188" stop-color="#9e0d14"/><stop offset="0.2313" stop-color="#8a0811"/><stop offset="0.2437" stop-color="#900a12"/><stop offset="0.2562" stop-color="#9b0d14"/><stop offset="0.2687" stop-color="#a10e14"/><stop offset="0.2812" stop-color="#b41218"/><stop offset="0.2938" stop-color="#cb181d"/><stop offset="0.3063" stop-color="#d42121"/><stop offset="0.3187" stop-color="#ec382b"/><stop offset="0.3312" stop-color="#f34b36"/><stop offset="0.3438" stop-color="#fb6a4a"/><stop offset="0.3563" stop-color="#fa6647"/><stop offset="0.3688" stop-color="#fb7858"/><stop offset="0.3812" stop-color="#fc8060"/><stop offset="0.3937" stop-color="#fc8c6c"/><stop offset="0.4062" stop-color="#fc9f81"/><stop offset="0.4188" stop-color="#fc9e7f"/><stop offset="0.4313" stop-color="#fca285"/><stop offset="0.4437" stop-color="#fca082"/><stop offset="0.4562" stop-color="#fca184"/><stop offset="0.4688" stop-color="#fcae92"/><stop offset="0.4813" stop-color="#fcb095"/><stop offset="0.4938" stop-color="#fcac90"/><stop offset="0.5062" stop-color="#fcb398"/><stop offset="0.5188" stop-color="#fcbaa0"/><stop offset="0.5312" stop-color="#fcbba1"/><stop offset="0.5437" stop-color="#fcb79c"/><stop offset="0.5563" stop-color="#fcb89d"/><stop offset="0.5687" stop-color="#fcb499"/><stop offset="0.5813" stop-color="#fcbca3"/><stop offset="0.5938" stop-color="#fcbda3"/><stop offset="0.6062" stop-color="#fdc5af"/><stop offset="0.6188" stop-color="#fcc3ac"/><stop offset="0.6312" stop-color="#fdc7b0"/><stop offset="0.6438" stop-color="#fcc2aa"/><stop offset="0.6562" stop-color="#fdcab5"/><stop offset="0.6687" stop-color="#fdccb8"/><stop offset="0.6813" stop-color="#fdcbb7"/><stop offset="0.6937" stop-color="#fdcbb7"/><stop offset="0.7063" stop-color="#fdcfbb"/><stop offset="0.7188" stop-color="#fdccb8"/><stop offset="0.7312" stop-color="#fdd4c2"/><stop offset="0.7438" stop-color="#fdcbb6"/><stop offset="0.7562" stop-color="#fdcfbc"/><stop offset="0.7688" stop-color="#fdd3c1"/><stop offset="0.7812" stop-color="#fedccc"/><stop offset="0.7937" stop-color="#fed9c9"/><stop offset="0.8063" stop-color="#fdd5c4"/><stop offset="0.8187" stop-color="#fed7c6"/><stop offset="0.8313" stop-color="#fdd5c3"/><stop offset="0.8438" stop-color="#fdd4c3"/><stop offset="0.8562" stop-color="#fedecf"/><stop offset="0.8688" stop-color="#fedbcc"/><stop offset="0.8812" stop-color="#feded0"/><stop offset="0.8938" stop-color="#fee1d4"/><stop offset="0.9062" stop-color="#fee1d4"/><stop offset="0.9187" stop-color="#fee1d3"/><stop offset="0.9313" stop-color="#fee3d6"/><stop offset="0.9437" stop-color="#feded0"/><stop offset="0.9563" stop-color="#feddcd"/><stop offset="0.9688" stop-color="#fedfd1"/><stop offset="0.9812" stop-color="#fedecf"/><stop offset="0.9938" stop-color="#fee3d6"/></linearGradient>
<linearGradient id="g156" x1="0" x2="0" y1="0" y2="1"><stop offset="0.0063" stop-color="#e2eef8"/><stop offset="0.0187" stop-color="#e2eef8"/><stop offset="0.0312" stop-color="#ebf3fb"/><stop offset="0.0437" stop-color="#ebf3fb"/><stop offset="0.0563" stop-color="#e3eef9"/><stop offset="0.0688" stop-color="#e4eff9"/><stop offset="0.0813" stop-color="#e4eff9"/><stop offset="0.0938" stop-color="#e8f1fa"/><stop offset="0.1062" stop-color="#e4eff9"/><stop offset="0.1187" stop-color="#e4eff9"/><stop offset="0.1313" stop-color="#e4eff9"/><stop offset="0.1437" stop-color="#e8f2fa"/><stop offset="0.1562" stop-color="#e5f0f9"/><stop offset="0.1688" stop-color="#e6f0f9"/><stop offset="0.1812" stop-color="#e2eef8"/><stop offset="0.1938" stop-color="#dfecf7"/><stop offset="0.2062" stop-color="#e0ecf8"/><stop offset="0.2188" stop-color="#e3eef9"/><stop offset="0.2313" stop-color="#e4eff9"/><stop offset="0.2437" stop-color="#e6f0fa"/><stop offset="0.2562" stop-color="#e8f1fa"/><stop offset="0.2687" stop-color="#e8f1fa"/><stop offset="0.2812" stop-color="#e3eef9"/><stop offset="0.2938" stop-color="#e4eff9"/><stop offset="0.3063" stop-color="#e2eef8"/><stop offset="0.3187" stop-color="#dceaf6"/><stop offset="0.3312" stop-color="#dfecf7"/><stop offset="0.3438" stop-color="#ddebf7"/><stop offset="0.3563" stop-color="#e0ecf8"/><stop offset="0.3688" stop-color="#e1edf8"/><stop offset="0.3812" stop-color="#ddeaf7"/><stop offset="0.3937" stop-color="#deebf7"/><stop offset="0.4062" stop-color="#d9e8f5"/><stop offset="0.4188" stop-color="#d3e4f3"/><stop offset="0.4313" stop-color="#d5e5f4"/><stop offset="0.4437" stop-color="#d7e6f5"/><stop offset="0.4562" stop-color="#ccdff1"/><stop offset="0.4688" stop-color="#cadef0"/><stop offset="0.4813" stop-color="#c7dcef"/><stop offset="0.4938" stop-color="#c0d8ed"/><stop offset="0.5062" stop-color="#bcd7eb"/><stop offset="0.5188" stop-color="#b5d4e9"/><stop offset="0.5312" stop-color="#b6d4e9"/><stop offset="0.5437" stop-color="#a6cde4"/><stop offset="0.5563" stop-color="#a0cbe2"/><stop offset="0.5687" stop-color="#9ac8e0"/><stop offset="0.5813" stop-color="#74b3d8"/><stop offset="0.5938" stop-color="#61a7d2"/><stop offset="0.6062" stop-color="#57a1ce"/><stop offset="0.6188" stop-color="#4896c8"/><stop offset="0.6312" stop-color="#3787c0"/><stop offset="0.6438" stop-color="#1e6db2"/><stop offset="0.6562" stop-color="#1360a7"/><stop offset="0.6687" stop-color="#08488f"/><stop offset="0.6813" stop-color="#084c95"/><stop offset="0.6937" stop-color="#08468c"/><stop offset="0.7063" stop-color="#1460a8"/><stop offset="0.7188" stop-color="#2777b8"/><stop offset="0.7312" stop-color="#3282be"/><stop offset="0.7438" stop-color="#3989c1"/><stop offset="0.7562" stop-color="#4796c8"/><stop offset="0.7688" stop-color="#58a1cf"/><stop offset="0.7812" stop-color="#6aadd6"/><stop offset="0.7937" stop-color="#78b5d9"/><stop offset="0.8063" stop-color="#82badb"/><stop offset="0.8187" stop-color="#9ecae1"/><stop offset="0.8313" stop-color="#a0cbe2"/><stop offset="0.8438" stop-color="#b4d3e9"/><stop offset="0.8562" stop-color="#add0e6"/><stop offset="0.8688" stop-color="#bad6eb"/><stop offset="0.8812" stop-color="#b3d3e8"/><stop offset="0.8938" stop-color="#bad6eb"/><stop offset="0.9062" stop-color="#c1d9ed"/><stop offset="0.9187" stop-color="#c3daee"/><stop offset="0.9313" stop-color="#c4daee"/><stop offset="0.9437" stop-color="#c7dcef"/><stop offset="0.9563" stop-color="#cbdef1"/><stop offset="0.9688" stop-color="#cde0f1"/><stop offset="0.9812" stop-color="#ccdff1"/><stop offset="0.9938" stop-color="#c9ddf0"/></linearGradient>
<linearGradient id="g157" x1="0" x2="0" y1="0" y2="1"><stop offset="0.0063" stop-color="#e2edf8"/><stop offset="0.0187" stop-color="#e7f1fa"/><stop offset="0.0312" stop-color="#dfecf7"/><stop offset="0.0437" stop-color="#e0ecf8"/><stop offset="0.0563" stop-color="#deebf7"/><stop offset="0.0688" stop-color="#e5eff9"/><stop offset="0.0813" stop-color="#dfecf7"/><stop offset="0.0938" stop-color="#e5f0f9"/><stop offset="0.1062" stop-color="#dfecf7"/><stop offset="0.1187" stop-color="#e3eef9"/><stop offset="0.1313" stop-color="#e3eef9"/><stop offset="0.1437" stop-color="#dceaf6"/><stop offset="0.1562" stop-color="#e4eff9"/><stop offset="0.1688" stop-color="#dfecf7"/><stop offset="0.1812" stop-color="#dceaf6"/><stop offset="0.1938" stop-color="#e2edf8"/><stop offset="0.2062" stop-color="#e2edf8"/><stop offset="0.2188" stop-color="#dbe9f6"/><stop offset="0.2313" stop-color="#dfecf7"/><stop offset="0.2437" stop-color="#dceaf6"/><stop offset="0.2562" stop-color="#e3eef8"/><stop offset="0.2687" stop-color="#dfecf7"/><stop offset="0.2812" stop-color="#e1edf8"/><stop offset="0.2938" stop-color="#dbe9f6"/><stop offset="0.3063" stop-color="#e1edf8"/><stop offset="0.3187" stop-color="#d8e7f5"/><stop offset="0.3312" stop-color="#e1edf8"/><stop offset="0.3438" stop-color="#dae8f6"/><stop offset="0.3563" stop-color="#e1edf8"/><stop offset="0.3688" stop-color="#deebf7"/><stop offset="0.3812" stop-color="#d8e7f5"/><stop offset="0.3937" stop-color="#dfebf7"/><stop offset="0.4062" stop-color="#ddeaf7"/><stop offset="0.4188" stop-color="#d5e5f4"/><stop offset="0.4313" stop-color="#d5e5f4"/><stop offset="0.4437" stop-color="#d6e6f4"/><stop offset="0.4562" stop-color="#cadef0"/><stop offset="0.4688" stop-color="#cfe1f2"/><stop offset="0.4813" stop-color="#cde0f1"/><stop offset="0.4938" stop-color="#c8dcf0"/><stop offset="0.5062" stop-color="#c0d8ed"/><stop offset="0.5188" stop-color="#bad6eb"/><stop offset="0.5312" stop-color="#bfd8ed"/><stop offset="0.5437" stop-color="#b7d5ea"/><stop offset="0.5563" stop-color="#b8d5ea"/><stop offset="0.5687" stop-color="#a1cbe2"/><stop offset="0.5813" stop-color="#83bbdb"/><stop offset="0.5938" stop-color="#6dafd6"/><stop offset="0.6062" stop-color="#5aa2cf"/><stop offset="0.6188" stop-color="#4c99ca"/><stop offset="0.6312" stop-color="#3585bf"/><stop offset="0.6438" stop-color="#2171b5"/><stop offset="0.6562" stop-color="#1460a8"/><stop offset="0.6687" stop-color="#08509a"/><stop offset="0.6813" stop-color="#084b93"/><stop offset="0.6937" stop-color="#09539d"/><stop offset="0.7063" stop-color="#2373b6"/><stop offset="0.7188" stop-color="#3585bf"/><stop offset="0.7312" stop-color="#4191c5"/><stop offset="0.7438" stop-color="#63a8d3"/><stop offset="0.7562" stop-color="#6fb0d7"/><stop offset="0.7688" stop-color="#83bbdb"/><stop offset="0.7812" stop-color="#91c3de"/><stop offset="0.7937" stop-color="#a7cee4"/><stop offset="0.8063" stop-color="#a0cbe2"/><stop offset="0.8187" stop-color="#acd0e6"/><stop offset="0.8313" stop-color="#a8cee5"/><stop offset="0.8438" stop-color="#add0e6"/><stop offset="0.8562" stop-color="#b5d4e9"/><stop offset="0.8688" stop-color="#aed1e7"/><stop offset="0.8812" stop-color="#b6d4ea"/><stop offset="0.8938" stop-color="#b9d6eb"/><stop offset="0.9062" stop-color="#bbd6eb"/><stop offset="0.9187" stop-color="#bbd6eb"/><stop offset="0.9313" stop-color="#bed7ec"/><stop offset="0.9437" stop-color="#b7d4ea"/><stop offset="0.9563" stop-color="#bad6eb"/><stop offset="0.9688" stop-color="#b4d3e9"/><stop offset="0.9812" stop-color="#b7d4ea"/><stop offset="0.9938" stop-color="#b7d5ea"/></linearGradient>
<linearGradient id="g158" x1="0" x2="0" y1="0" y2="1"><stop offset="0.0063" stop-color="#ddeaf7"/><stop offset="0.0187" stop-color="#dae8f6"/><stop offset="0.0312" stop-color="#dbe9f6"/><stop offset="0.0437" stop-color="#d7e6f5"/><stop offset="0.0563" stop-color="#d6e5f4"/><stop offset="0.0688" stop-color="#d3e4f3"/><stop offset="0.0813" stop-color="#d3e4f3"/><stop offset="0.0938" stop-color="#d6e6f4"/><stop offset="0.1062" stop-color="#d4e4f4"/><stop offset="0.1187" stop-color="#d2e3f3"/><stop offset="0.1313" stop-color="#d6e6f4"/><stop offset="0.1437" stop-color="#d5e5f4"/><stop offset="0.1562" stop-color="#d0e2f2"/><stop offset="0.1688" stop-color="#d2e3f3"/><stop offset="0.1812" stop-color="#cbdff1"/><stop offset="0.1938" stop-color="#cfe1f2"/><stop offset="0.2062" stop-color="#d0e1f2"/><stop offset="0.2188" stop-color="#cee0f2"/><stop offset="0.2313" stop-color="#ccdff1"/><stop offset="0.2437" stop-color="#ccdff1"/><stop offset="0.2562" stop-color="#c8dcf0"/><stop offset="0.2687" stop-color="#c7dcef"/><stop offset="0.2812" stop-color="#c8dcf0"/><stop offset="0.2938" stop-color="#c0d9ed"/><stop offset="0.3063" stop-color="#c3daee"/><stop offset="0.3187" stop-color="#b4d3e9"/><stop offset="0.3312" stop-color="#afd1e7"/><stop offset="0.3438" stop-color="#aed1e7"/><stop offset="0.3563" stop-color="#afd1e7"/><stop offset="0.3688" stop-color="#a9cfe5"/><stop offset="0.3812" stop-color="#a4cce3"/><stop offset="0.3937" stop-color="#a8cee4"/><stop offset="0.4062" stop-color="#9ecae1"/><stop offset="0.4188" stop-color="#95c5df"/><stop offset="0.4313" stop-color="#95c5df"/><stop offset="0.4437" stop-color="#90c2de"/><stop offset="0.4562" stop-color="#7bb7d9"/><stop offset="0.4688" stop-color="#70b0d7"/><stop offset="0.4813" stop-color="#58a1cf"/><stop offset="0.4938" stop-color="#3f8fc4"/><stop offset="0.5062" stop-color="#3484bf"/><stop offset="0.5188" stop-color="#2979b9"/><stop offset="0.5312" stop-color="#1562a9"/><stop offset="0.5437" stop-color="#135fa7"/><stop offset="0.5563" stop-color="#0e58a2"/><stop offset="0.5687" stop-color="#084990"/><stop offset="0.5813" stop-color="#084b93"/><stop offset="0.5938" stop-color="#0a549e"/><stop offset="0.6062" stop-color="#1d6cb1"/><stop offset="0.6188" stop-color="#3787c0"/><stop offset="0.6312" stop-color="#56a0ce"/><stop offset="0.6438" stop-color="#67abd4"/><stop offset="0.6562" stop-color="#86bddc"/><stop offset="0.6687" stop-color="#a4cce3"/><stop offset="0.6813" stop-color="#acd0e6"/><stop offset="0.6937" stop-color="#a7cee4"/><stop offset="0.7063" stop-color="#b1d2e8"/><stop offset="0.7188" stop-color="#afd1e7"/><stop offset="0.7312" stop-color="#afd1e7"/><stop offset="0.7438" stop-color="#a7cee4"/><stop offset="0.7562" stop-color="#b7d4ea"/><stop offset="0.7688" stop-color="#add0e6"/><stop offset="0.7812" stop-color="#b8d5ea"/><stop offset="0.7937" stop-color="#b3d3e8"/><stop offset="0.8063" stop-color="#b7d5ea"/><stop offset="0.8187" stop-color="#b7d5ea"/><stop offset="0.8313" stop-color="#b3d3e8"/><stop offset="0.8438" stop-color="#b9d6eb"/><stop offset="0.8562" stop-color="#bed8ec"/><stop offset="0.8688" stop-color="#bfd8ed"/><stop offset="0.8812" stop-color="#c0d9ed"/><stop offset="0.8938" stop-color="#b5d4e9"/><stop offset="0.9062" stop-color="#b9d5ea"/><stop offset="0.9187" stop-color="#b4d3e9"/><stop offset="0.9313" stop-color="#b9d6ea"/><stop offset="0.9437" stop-color="#c4daee"/><stop offset="0.9563" stop-color="#bbd6eb"/><stop offset="0.9688" stop-color="#bad6eb"/><stop offset="0.9812" stop-color="#bbd6eb"/><stop offset="0.9938" stop-color="#bfd8ed"/></linearGradient>
<linearGradient id="g159" x1="0" x2="0" y1="0" y2="1"><stop offset="0.0063" stop-color="#c7dcef"/><stop offset="0.0187" stop-color="#c6dbef"/><stop offset="0.0312" stop-color="#c0d8ed"/><stop offset="0.0437" stop-color="#c7dcef"/><stop offset="0.0563" stop-color="#c3daee"/><stop offset="0.0688" stop-color="#c3daee"/><stop offset="0.0813" stop-color="#bbd6eb"/><stop offset="0.0938" stop-color="#bdd7ec"/><stop offset="0.1062" stop-color="#bad6eb"/><stop offset="0.1187" stop-color="#bcd7eb"/><stop offset="0.1313" stop-color="#c4daee"/><stop offset="0.1437" stop-color="#c4daee"/><stop offset="0.1562" stop-color="#bfd8ed"/><stop offset="0.1688" stop-color="#c3daee"/><stop offset="0.1812" stop-color="#bfd8ed"/><stop offset="0.1938" stop-color="#bbd6eb"/><stop offset="0.2062" stop-color="#b7d4ea"/><stop offset="0.2188" stop-color="#bbd6eb"/><stop offset="0.2313" stop-color="#b7d5ea"/><stop offset="0.2437" stop-color="#c2d9ee"/><stop offset="0.2562" stop-color="#bdd7ec"/><stop offset="0.2687" stop-color="#b3d3e8"/><stop offset="0.2812" stop-color="#c0d8ed"/><stop offset="0.2938" stop-color="#bbd6eb"/><stop offset="0.3063" stop-color="#bdd7ec"/><stop offset="0.3187" stop-color="#b4d3e9"/><stop offset="0.3312" stop-color="#9fcae1"/><stop offset="0.3438" stop-color="#91c3de"/><stop offset="0.3563" stop-color="#7db8da"/><stop offset="0.3688" stop-color="#6cafd6"/><stop offset="0.3812" stop-color="#549ecd"/><stop offset="0.3937" stop-color="#3e8ec4"/><stop offset="0.4062" stop-color="#2070b4"/><stop offset="0.4188" stop-color="#1460a8"/><stop offset="0.4313" stop-color="#0b559f"/><stop offset="0.4437" stop-color="#084c95"/><stop offset="0.4562" stop-color="#084a91"/><stop offset="0.4688" stop-color="#08468c"/><stop offset="0.4813" stop-color="#08468c"/><stop offset="0.4938" stop-color="#084f98"/><stop offset="0.5062" stop-color="#1561a9"/><stop offset="0.5188" stop-color="#1c6bb0"/><stop offset="0.5312" stop-color="#2878b9"/><stop offset="0.5437" stop-color="#3c8cc3"/><stop offset="0.5563" stop-color="#4191c5"/><stop offset="0.5687" stop-color="#549ecd"/><stop offset="0.5813" stop-color="#5aa3d0"/><stop offset="0.5938" stop-color="#6aadd6"/><stop offset="0.6062" stop-color="#6caed6"/><stop offset="0.6188" stop-color="#7cb7da"/><stop offset="0.6312" stop-color="#8bbfdd"/><stop offset="0.6438" stop-color="#9ecae1"/><stop offset="0.6562" stop-color="#a2cce2"/><stop offset="0.6687" stop-color="#aed1e7"/><stop offset="0.6813" stop-color="#a7cee4"/><stop offset="0.6937" stop-color="#a4cce3"/><stop offset="0.7063" stop-color="#b1d2e8"/><stop offset="0.7188" stop-color="#add0e6"/><stop offset="0.7312" stop-color="#afd1e7"/><stop offset="0.7438" stop-color="#b2d2e8"/><stop offset="0.7562" stop-color="#afd1e7"/><stop offset="0.7688" stop-color="#add0e6"/><stop offset="0.7812" stop-color="#b2d3e8"/><stop offset="0.7937" stop-color="#b7d5ea"/><stop offset="0.8063" stop-color="#b1d2e8"/><stop offset="0.8187" stop-color="#bcd7ec"/><stop offset="0.8313" stop-color="#b7d4ea"/><stop offset="0.8438" stop-color="#b9d5ea"/><stop offset="0.8562" stop-color="#b8d5ea"/><stop offset="0.8688" stop-color="#b8d5ea"/><stop offset="0.8812" stop-color="#c2d9ee"/><stop offset="0.8938" stop-color="#bdd7ec"/><stop offset="0.9062" stop-color="#c1d9ed"/><stop offset="0.9187" stop-color="#bed8ec"/><stop offset="0.9313" stop-color="#bad6eb"/><stop offset="0.9437" stop-color="#c0d9ed"/><stop offset="0.9563" stop-color="#c9ddf0"/><stop offset="0.9688" stop-color="#c5daef"/><stop offset="0.9812" stop-color="#c1d9ed"/><stop offset="0.9938" stop-color="#c0d8ed"/></linearGradient>
<linearGradient id="g160" x1="0" x2="0" y1="0" y2="1"><stop offset="0.0063" stop-color="#3787c0"/><stop offset="0.0187" stop-color="#3282be"/><stop offset="0.0312" stop-color="#3989c1"/><stop offset="0.0437" stop-color="#2a7aba"/><stop offset="0.0563" stop-color="#206fb4"/><stop offset="0.0688" stop-color="#105ba4"/><stop offset="0.0813" stop-color="#084b93"/><stop offset="0.0938" stop-color="#084489"/><stop offset="0.1062" stop-color="#08478d"/><stop offset="0.1187" stop-color="#083978"/><stop offset="0.1313" stop-color="#083a79"/><stop offset="0.1437" stop-color="#084184"/><stop offset="0.1562" stop-color="#09529d"/><stop offset="0.1688" stop-color="#2979b9"/><stop offset="0.1812" stop-color="#3585bf"/><stop offset="0.1938" stop-color="#3484bf"/><stop offset="0.2062" stop-color="#4393c7"/><stop offset="0.2188" stop-color="#4493c7"/><stop offset="0.2313" stop-color="#4f9bcb"/><stop offset="0.2437" stop-color="#59a1cf"/><stop offset="0.2562" stop-color="#5aa3d0"/><stop offset="0.2687" stop-color="#63a9d3"/><stop offset="0.2812" stop-color="#6fb0d7"/><stop offset="0.2938" stop-color="#6eb0d7"/><stop offset="0.3063" stop-color="#90c2de"/><stop offset="0.3187" stop-color="#a0cbe2"/><stop offset="0.3312" stop-color="#9fcae1"/><stop offset="0.3438" stop-color="#9ac8e0"/><stop offset="0.3563" stop-color="#9fcae1"/><stop offset="0.3688" stop-color="#9ecae1"/><stop offset="0.3812" stop-color="#a4cde3"/><stop offset="0.3937" stop-color="#a2cce2"/><stop offset="0.4062" stop-color="#a9cfe5"/><stop offset="0.4188" stop-color="#abd0e6"/><stop offset="0.4313" stop-color="#a9cfe5"/><stop offset="0.4437" stop-color="#b1d2e8"/><stop offset="0.4562" stop-color="#b2d2e8"/><stop offset="0.4688" stop-color="#a8cee5"/><stop offset="0.4813" stop-color="#b3d3e8"/><stop offset="0.4938" stop-color="#abcfe6"/><stop offset="0.5062" stop-color="#acd0e6"/><stop offset="0.5188" stop-color="#b4d3e9"/><stop offset="0.5312" stop-color="#b2d2e8"/><stop offset="0.5437" stop-color="#b2d3e8"/><stop offset="0.5563" stop-color="#b3d3e8"/><stop offset="0.5687" stop-color="#c1d9ed"/><stop offset="0.5813" stop-color="#c2daee"/><stop offset="0.5938" stop-color="#c1d9ed"/><stop offset="0.6062" stop-color="#c2d9ee"/><stop offset="0.6188" stop-color="#c6dbef"/><stop offset="0.6312" stop-color="#cadef0"/><stop offset="0.6438" stop-color="#c5dbef"/><stop offset="0.6562" stop-color="#bfd8ed"/><stop offset="0.6687" stop-color="#c8dcf0"/><stop offset="0.6813" stop-color="#c7dbef"/><stop offset="0.6937" stop-color="#c8ddf0"/><stop offset="0.7063" stop-color="#c8dcf0"/><stop offset="0.7188" stop-color="#c3daee"/><stop offset="0.7312" stop-color="#cadef0"/><stop offset="0.7438" stop-color="#c7dcef"/><stop offset="0.7562" stop-color="#c9ddf0"/><stop offset="0.7688" stop-color="#c8ddf0"/><stop offset="0.7812" stop-color="#c5daee"/><stop offset="0.7937" stop-color="#cde0f1"/><stop offset="0.8063" stop-color="#c7dbef"/><stop offset="0.8187" stop-color="#ccdff1"/><stop offset="0.8313" stop-color="#c9ddf0"/><stop offset="0.8438" stop-color="#c8dcf0"/><stop offset="0.8562" stop-color="#c9ddf0"/><stop offset="0.8688" stop-color="#ccdff1"/><stop offset="0.8812" stop-color="#c8dcf0"/><stop offset="0.8938" stop-color="#cfe1f2"/><stop offset="0.9062" stop-color="#cadef0"/><stop offset="0.9187" stop-color="#cde0f1"/><stop offset="0.9313" stop-color="#ccdff1"/><stop offset="0.9437" stop-color="#c9ddf0"/><stop offset="0.9563" stop-color="#cadef0"/><stop offset="0.9688" stop-color="#ccdff1"/><stop offset="0.9812" stop-color="#cfe1f2"/><stop offset="0.9938" stop-color="#d0e2f2"/></linearGradient>
<linearGradient id="g161" x1="0" x2="0" y1="0" y2="1"><stop offset="0.0063" stop-color="#69add5"/><stop offset="0.0187" stop-color="#69add5"/><stop offset="0.0312" stop-color="#65aad3"/><stop offset="0.0437" stop-color="#569fce"/><stop offset="0.0563" stop-color="#60a6d2"/><stop offset="0.0688" stop-color="#519ccc"/><stop offset="0.0813" stop-color="#549ecd"/><stop offset="0.0938" stop-color="#519ccc"/><stop offset="0.1062" stop-color="#4e9acb"/><stop offset="0.1187" stop-color="#4997c9"/><stop offset="0.1313" stop-color="#3b8bc3"/><stop offset="0.1437" stop-color="#3888c1"/><stop offset="0.1562" stop-color="#2c7cbb"/><stop offset="0.1688" stop-color="#1b69af"/><stop offset="0.1812" stop-color="#084990"/><stop offset="0.1938" stop-color="#084388"/><stop offset="0.2062" stop-color="#084489"/><stop offset="0.2188" stop-color="#08458a"/><stop offset="0.2313" stop-color="#08468b"/><stop offset="0.2437" stop-color="#0b559f"/><stop offset="0.2562" stop-color="#3282be"/><stop offset="0.2687" stop-color="#4d99ca"/><stop offset="0.2812" stop-color="#64a9d3"/><stop offset="0.2938" stop-color="#74b3d8"/><stop offset="0.3063" stop-color="#8bc0dd"/><stop offset="0.3187" stop-color="#9bc8e0"/><stop offset="0.3312" stop-color="#a0cbe2"/><stop offset="0.3438" stop-color="#b4d3e9"/><stop offset="0.3563" stop-color="#add0e6"/><stop offset="0.3688" stop-color="#b1d2e8"/><stop offset="0.3812" stop-color="#b7d5ea"/><stop offset="0.3937" stop-color="#b2d2e8"/><stop offset="0.4062" stop-color="#bbd6eb"/><stop offset="0.4188" stop-color="#b4d4e9"/><stop offset="0.4313" stop-color="#b5d4e9"/><stop offset="0.4437" stop-color="#bed8ec"/><stop offset="0.4562" stop-color="#bdd7ec"/><stop offset="0.4688" stop-color="#bad6eb"/><stop offset="0.4813" stop-color="#bfd8ed"/><stop offset="0.4938" stop-color="#c1d9ed"/><stop offset="0.5062" stop-color="#c3daee"/><stop offset="0.5188" stop-color="#c7dcef"/><stop offset="0.5312" stop-color="#ccdff1"/><stop offset="0.5437" stop-color="#cde0f1"/><stop offset="0.5563" stop-color="#d8e7f5"/><stop offset="0.5687" stop-color="#d8e7f5"/><stop offset="0.5813" stop-color="#dae8f6"/><stop offset="0.5938" stop-color="#ddeaf7"/><stop offset="0.6062" stop-color="#dceaf6"/><stop offset="0.6188" stop-color="#dfebf7"/><stop offset="0.6312" stop-color="#d7e6f5"/><stop offset="0.6438" stop-color="#ddeaf7"/><stop offset="0.6562" stop-color="#dceaf6"/><stop offset="0.6687" stop-color="#d8e7f5"/><stop offset="0.6813" stop-color="#dfecf7"/><stop offset="0.6937" stop-color="#d8e7f5"/><stop offset="0.7063" stop-color="#e0ecf8"/><stop offset="0.7188" stop-color="#e1edf8"/><stop offset="0.7312" stop-color="#deebf7"/><stop offset="0.7438" stop-color="#deebf7"/><stop offset="0.7562" stop-color="#d9e8f5"/><stop offset="0.7688" stop-color="#d9e8f5"/><stop offset="0.7812" stop-color="#dae9f6"/><stop offset="0.7937" stop-color="#deebf7"/><stop offset="0.8063" stop-color="#ddeaf7"/><stop offset="0.8187" stop-color="#e0ecf8"/><stop offset="0.8313" stop-color="#dae8f6"/><stop offset="0.8438" stop-color="#dfebf7"/><stop offset="0.8562" stop-color="#e0ecf8"/><stop offset="0.8688" stop-color="#dceaf6"/><stop offset="0.8812" stop-color="#e1edf8"/><stop offset="0.8938" stop-color="#e0ecf8"/><stop offset="0.9062" stop-color="#dae8f6"/><stop offset="0.9187" stop-color="#e2eef8"/><stop offset="0.9313" stop-color="#e2eef8"/><stop offset="0.9437" stop-color="#e1edf8"/><stop offset="0.9563" stop-color="#e1edf8"/><stop offset="0.9688" stop-color="#e0ecf7"/><stop offset="0.9812" stop-color="#e1edf8"/><stop offset="0.9938" stop-color="#e1edf8"/></linearGradient>
<linearGradient id="g162" x1="0" x2="0" y1="0" y2="1"><stop offset="0.0063" stop-color="#4b98c9"/><stop offset="0.0187" stop-color="#4695c7"/><stop offset="0.0312" stop-color="#3c8cc3"/><stop offset="0.0437" stop-color="#3b8bc2"/><stop offset="0.0563" stop-color="#3585bf"/><stop offset="0.0688" stop-color="#2a7aba"/><stop offset="0.0813" stop-color="#2d7dbb"/><stop offset="0.0938" stop-color="#2575b7"/><stop offset="0.1062" stop-color="#1764ab"/><stop offset="0.1187" stop-color="#135ea7"/><stop offset="0.1313" stop-color="#08488f"/><stop offset="0.1437" stop-color="#0c56a0"/><stop offset="0.1562" stop-color="#1e6eb2"/><stop offset="0.1688" stop-color="#3484bf"/><stop offset="0.1812" stop-color="#58a1ce"/><stop offset="0.1938" stop-color="#6baed6"/><stop offset="0.2062" stop-color="#81badb"/><stop offset="0.2188" stop-color="#98c7e0"/><stop offset="0.2313" stop-color="#9cc9e1"/><stop offset="0.2437" stop-color="#b0d2e7"/><stop offset="0.2562" stop-color="#b9d6eb"/><stop offset="0.2687" stop-color="#c1d9ed"/><stop offset="0.2812" stop-color="#cbdef1"/><stop offset="0.2938" stop-color="#c9ddf0"/><stop offset="0.3063" stop-color="#cfe1f2"/><stop offset="0.3187" stop-color="#d3e4f3"/><stop offset="0.3312" stop-color="#d7e7f5"/><stop offset="0.3438" stop-color="#d7e6f5"/><stop offset="0.3563" stop-color="#d7e6f5"/><stop offset="0.3688" stop-color="#d9e8f5"/><stop offset="0.3812" stop-color="#ddebf7"/><stop offset="0.3937" stop-color="#deebf7"/><stop offset="0.4062" stop-color="#deebf7"/><stop offset="0.4188" stop-color="#e3eef9"/><stop offset="0.4313" stop-color="#e3eef9"/><stop offset="0.4437" stop-color="#dbe9f6"/><stop offset="0.4562" stop-color="#e4eff9"/><stop offset="0.4688" stop-color="#ddeaf7"/><stop offset="0.4813" stop-color="#e0ecf8"/><stop offset="0.4938" stop-color="#dfebf7"/><stop offset="0.5062" stop-color="#e7f1fa"/><stop offset="0.5188" stop-color="#e5eff9"/><stop offset="0.5312" stop-color="#e0ecf8"/><stop offset="0.5437" stop-color="#e8f1fa"/><stop offset="0.5563" stop-color="#e6f0fa"/><stop offset="0.5687" stop-color="#e4eff9"/><stop offset="0.5813" stop-color="#e6f0f9"/><stop offset="0.5938" stop-color="#e6f0f9"/><stop offset="0.6062" stop-color="#e0edf8"/><stop offset="0.6188" stop-color="#e6f0fa"/><stop offset="0.6312" stop-color="#ddebf7"/><stop offset="0.6438" stop-color="#e0edf8"/><stop offset="0.6562" stop-color="#e6f0fa"/><stop offset="0.6687" stop-color="#deebf7"/><stop offset="0.6813" stop-color="#e4eff9"/><stop offset="0.6937" stop-color="#e2edf8"/><stop offset="0.7063" stop-color="#e1edf8"/><stop offset="0.7188" stop-color="#e5eff9"/><stop offset="0.7312" stop-color="#e1edf8"/><stop offset="0.7438" stop-color="#e5f0f9"/><stop offset="0.7562" stop-color="#e4eff9"/><stop offset="0.7688" stop-color="#ddeaf7"/><stop offset="0.7812" stop-color="#deebf7"/><stop offset="0.7937" stop-color="#e0edf8"/><stop offset="0.8063" stop-color="#dfebf7"/><stop offset="0.8187" stop-color="#ddeaf7"/><stop offset="0.8313" stop-color="#e4eff9"/><stop offset="0.8438" stop-color="#e0ecf8"/><stop offset="0.8562" stop-color="#e4eff9"/><stop offset="0.8688" stop-color="#e4eff9"/><stop offset="0.8812" stop-color="#e4eff9"/><stop offset="0.8938" stop-color="#e3eef9"/><stop offset="0.9062" stop-color="#e4eff9"/><stop offset="0.9187" stop-color="#e2eef8"/><stop offset="0.9313" stop-color="#e1edf8"/><stop offset="0.9437" stop-color="#deebf7"/><stop offset="0.9563" stop-color="#dceaf6"/><stop offset="0.9688" stop-color="#dbe9f6"/><stop offset="0.9812" stop-color="#ddeaf7"/><stop offset="0.9938" stop-color="#dfecf7"/></linearGradient>
<linearGradient id="g163" x1="0" x2="0" y1="0" y2="1"><stop offset="0.0063" stop-color="#8fc2de"/><stop offset="0.0187" stop-color="#95c5df"/><stop offset="0.0312" stop-color="#8dc0dd"/><stop offset="0.0437" stop-color="#73b3d8"/><stop offset="0.0563" stop-color="#6baed6"/><stop offset="0.0688" stop-color="#68acd5"/><stop offset="0.0813" stop-color="#5ba3d0"/><stop offset="0.0938" stop-color="#549fcd"/><stop offset="0.1062" stop-color="#4a98c9"/><stop offset="0.1187" stop-color="#4292c6"/><stop offset="0.1313" stop-color="#3a8ac2"/><stop offset="0.1437" stop-color="#2d7dbb"/><stop offset="0.1562" stop-color="#2373b6"/><stop offset="0.1688" stop-color="#1460a8"/><stop offset="0.1812" stop-color="#084f99"/><stop offset="0.1938" stop-color="#084c94"/><stop offset="0.2062" stop-color="#084082"/><stop offset="0.2188" stop-color="#083c7d"/><stop offset="0.2313" stop-color="#084d96"/><stop offset="0.2437" stop-color="#08509b"/><stop offset="0.2562" stop-color="#2a7aba"/><stop offset="0.2687" stop-color="#4393c6"/><stop offset="0.2812" stop-color="#5fa6d1"/><stop offset="0.2938" stop-color="#68acd5"/><stop offset="0.3063" stop-color="#7db8da"/><stop offset="0.3187" stop-color="#8bbfdd"/><stop offset="0.3312" stop-color="#90c2de"/><stop offset="0.3438" stop-color="#9bc8e0"/><stop offset="0.3563" stop-color="#9dcae1"/><stop offset="0.3688" stop-color="#9dc9e1"/><stop offset="0.3812" stop-color="#9fcae1"/><stop offset="0.3937" stop-color="#a4cde3"/><stop offset="0.4062" stop-color="#acd0e6"/><stop offset="0.4188" stop-color="#a2cce2"/><stop offset="0.4313" stop-color="#a3cce3"/><stop offset="0.4437" stop-color="#a4cde3"/><stop offset="0.4562" stop-color="#a9cfe5"/><stop offset="0.4688" stop-color="#b3d3e9"/><stop offset="0.4813" stop-color="#b2d3e8"/><stop offset="0.4938" stop-color="#b5d4e9"/><stop offset="0.5062" stop-color="#afd1e7"/><stop offset="0.5188" stop-color="#b4d3e9"/><stop offset="0.5312" stop-color="#bdd7ec"/><stop offset="0.5437" stop-color="#b4d3e9"/><stop offset="0.5563" stop-color="#b7d4ea"/><stop offset="0.5687" stop-color="#bbd6eb"/><stop offset="0.5813" stop-color="#c5dbef"/><stop offset="0.5938" stop-color="#c9ddf0"/><stop offset="0.6062" stop-color="#ccdff1"/><stop offset="0.6188" stop-color="#c8dcf0"/><stop offset="0.6312" stop-color="#cbdef1"/><stop offset="0.6438" stop-color="#d0e2f2"/><stop offset="0.6562" stop-color="#cadef0"/><stop offset="0.6687" stop-color="#cee0f2"/><stop offset="0.6813" stop-color="#cfe1f2"/><stop offset="0.6937" stop-color="#d0e1f2"/><stop offset="0.7063" stop-color="#cde0f1"/><stop offset="0.7188" stop-color="#d0e2f2"/><stop offset="0.7312" stop-color="#cee0f2"/><stop offset="0.7438" stop-color="#d4e4f4"/><stop offset="0.7562" stop-color="#cee1f2"/><stop offset="0.7688" stop-color="#d3e3f3"/><stop offset="0.7812" stop-color="#cde0f1"/><stop offset="0.7937" stop-color="#d4e4f4"/><stop offset="0.8063" stop-color="#d3e4f3"/><stop offset="0.8187" stop-color="#d1e2f3"/><stop offset="0.8313" stop-color="#d3e4f3"/><stop offset="0.8438" stop-color="#d2e3f3"/><stop offset="0.8562" stop-color="#cee1f2"/><stop offset="0.8688" stop-color="#d5e5f4"/><stop offset="0.8812" stop-color="#d0e2f2"/><stop offset="0.8938" stop-color="#d1e3f3"/><stop offset="0.9062" stop-color="#d1e2f3"/><stop offset="0.9187" stop-color="#d4e4f4"/><stop offset="0.9313" stop-color="#d4e5f4"/><stop offset="0.9437" stop-color="#d6e5f4"/><stop offset="0.9563" stop-color="#d5e5f4"/><stop offset="0.9688" stop-color="#d7e6f5"/><stop offset="0.9812" stop-color="#d8e7f5"/><stop offset="0.9938" stop-color="#d6e5f4"/></linearGradient>
<linearGradient id="g164" x1="0" x2="0" y1="0" y2="1"><stop offset="0.0063" stop-color="#aacfe5"/><stop offset="0.0187" stop-color="#a5cde4"/><stop offset="0.0312" stop-color="#a3cce3"/><stop offset="0.0437" stop-color="#a7cee4"/><stop offset="0.0563" stop-color="#a8cee5"/><stop offset="0.0688" stop-color="#a1cbe2"/><stop offset="0.0813" stop-color="#9cc9e1"/><stop offset="0.0938" stop-color="#a6cde4"/><stop offset="0.1062" stop-color="#9fcae1"/><stop offset="0.1187" stop-color="#9ecae1"/><stop offset="0.1313" stop-color="#98c7e0"/><stop offset="0.1437" stop-color="#9cc9e0"/><stop offset="0.1562" stop-color="#a2cce2"/><stop offset="0.1688" stop-color="#a2cce2"/><stop offset="0.1812" stop-color="#92c3de"/><stop offset="0.1938" stop-color="#99c7e0"/><stop offset="0.2062" stop-color="#9ac8e0"/><stop offset="0.2188" stop-color="#84bcdb"/><stop offset="0.2313" stop-color="#8ec1dd"/><stop offset="0.2437" stop-color="#87bddc"/><stop offset="0.2562" stop-color="#7fb9da"/><stop offset="0.2687" stop-color="#62a8d2"/><stop offset="0.2812" stop-color="#4191c6"/><stop offset="0.2938" stop-color="#3585bf"/><stop offset="0.3063" stop-color="#1f6eb3"/><stop offset="0.3187" stop-color="#09529d"/><stop offset="0.3312" stop-color="#083d7e"/><stop offset="0.3438" stop-color="#08458b"/><stop offset="0.3563" stop-color="#084489"/><stop offset="0.3688" stop-color="#2474b7"/><stop offset="0.3812" stop-color="#3888c1"/><stop offset="0.3937" stop-color="#4090c5"/><stop offset="0.4062" stop-color="#57a0ce"/><stop offset="0.4188" stop-color="#78b5d9"/><stop offset="0.4313" stop-color="#8abfdd"/><stop offset="0.4437" stop-color="#89bedc"/><stop offset="0.4562" stop-color="#93c4df"/><stop offset="0.4688" stop-color="#9bc9e0"/><stop offset="0.4813" stop-color="#9ac8e0"/><stop offset="0.4938" stop-color="#9dc9e1"/><stop offset="0.5062" stop-color="#add0e6"/><stop offset="0.5188" stop-color="#aed1e6"/><stop offset="0.5312" stop-color="#a6cde4"/><stop offset="0.5437" stop-color="#aacfe5"/><stop offset="0.5563" stop-color="#b8d5ea"/><stop offset="0.5687" stop-color="#b3d3e8"/><stop offset="0.5813" stop-color="#b3d3e8"/><stop offset="0.5938" stop-color="#bbd6eb"/><stop offset="0.6062" stop-color="#bcd7eb"/><stop offset="0.6188" stop-color="#c2d9ee"/><stop offset="0.6312" stop-color="#c8dcf0"/><stop offset="0.6438" stop-color="#c9ddf0"/><stop offset="0.6562" stop-color="#cbdef1"/><stop offset="0.6687" stop-color="#c5daee"/><stop offset="0.6813" stop-color="#cadef0"/><stop offset="0.6937" stop-color="#c6dbef"/><stop offset="0.7063" stop-color="#c9ddf0"/><stop offset="0.7188" stop-color="#c8ddf0"/><stop offset="0.7312" stop-color="#c2d9ee"/><stop offset="0.7438" stop-color="#c9ddf0"/><stop offset="0.7562" stop-color="#c9ddf0"/><stop offset="0.7688" stop-color="#cadef0"/><stop offset="0.7812" stop-color="#ccdff1"/><stop offset="0.7937" stop-color="#ccdff1"/><stop offset="0.8063" stop-color="#c9ddf0"/><stop offset="0.8187" stop-color="#c7dcef"/><stop offset="0.8313" stop-color="#cee0f2"/><stop offset="0.8438" stop-color="#c6dbef"/><stop offset="0.8562" stop-color="#c9ddf0"/><stop offset="0.8688" stop-color="#cfe1f2"/><stop offset="0.8812" stop-color="#c9ddf0"/><stop offset="0.8938" stop-color="#ccdff1"/><stop offset="0.9062" stop-color="#ccdff1"/><stop offset="0.9187" stop-color="#d0e2f2"/><stop offset="0.9313" stop-color="#ccdff1"/><stop offset="0.9437" stop-color="#ccdff1"/><stop offset="0.9563" stop-color="#cadef0"/><stop offset="0.9688" stop-color="#ccdff1"/><stop offset="0.9812" stop-color="#cbdff1"/><stop offset="0.9938" stop-color="#cbdff1"/></linearGradient>
<linearGradient id="g165" x1="0" x2="0" y1="0" y2="1"><stop offset="0.0063" stop-color="#bbd6eb"/><stop offset="0.0187" stop-color="#c0d8ed"/><stop offset="0.0312" stop-color="#bad6eb"/><stop offset="0.0437" stop-color="#c0d9ed"/><stop offset="0.0563" stop-color="#c1d9ed"/><stop offset="0.0688" stop-color="#c0d8ed"/><stop offset="0.0813" stop-color="#bdd7ec"/><stop offset="0.0938" stop-color="#bdd7ec"/><stop offset="0.1062" stop-color="#bed8ec"/><stop offset="0.1187" stop-color="#bad6eb"/><stop offset="0.1313" stop-color="#c8dcf0"/><stop offset="0.1437" stop-color="#c3daee"/><stop offset="0.1562" stop-color="#c9ddf0"/><stop offset="0.1688" stop-color="#c3daee"/><stop offset="0.1812" stop-color="#c5daef"/><stop offset="0.1938" stop-color="#c7dcef"/><stop offset="0.2062" stop-color="#c2d9ee"/><stop offset="0.2188" stop-color="#bbd6eb"/><stop offset="0.2313" stop-color="#bcd7eb"/><stop offset="0.2437" stop-color="#b2d3e8"/><stop offset="0.2562" stop-color="#b9d6eb"/><stop offset="0.2687" stop-color="#b8d5ea"/><stop offset="0.2812" stop-color="#acd0e6"/><stop offset="0.2938" stop-color="#afd1e7"/><stop offset="0.3063" stop-color="#b1d2e7"/><stop offset="0.3187" stop-color="#96c6df"/><stop offset="0.3312" stop-color="#8dc1dd"/><stop offset="0.3438" stop-color="#6baed6"/><stop offset="0.3563" stop-color="#5ea5d1"/><stop offset="0.3688" stop-color="#4594c7"/><stop offset="0.3812" stop-color="#3282be"/><stop offset="0.3937" stop-color="#2979b9"/><stop offset="0.4062" stop-color="#1460a8"/><stop offset="0.4188" stop-color="#0a549e"/><stop offset="0.4313" stop-color="#08468c"/><stop offset="0.4437" stop-color="#084286"/><stop offset="0.4562" stop-color="#08509b"/><stop offset="0.4688" stop-color="#0d57a1"/><stop offset="0.4813" stop-color="#1967ad"/><stop offset="0.4938" stop-color="#2f7fbc"/><stop offset="0.5062" stop-color="#4494c7"/><stop offset="0.5188" stop-color="#6caed6"/><stop offset="0.5312" stop-color="#80badb"/><stop offset="0.5437" stop-color="#8abfdd"/><stop offset="0.5563" stop-color="#98c7e0"/><stop offset="0.5687" stop-color="#a2cce2"/><stop offset="0.5813" stop-color="#a2cce2"/><stop offset="0.5938" stop-color="#afd1e7"/><stop offset="0.6062" stop-color="#b3d3e8"/><stop offset="0.6188" stop-color="#acd0e6"/><stop offset="0.6312" stop-color="#a9cee5"/><stop offset="0.6438" stop-color="#add0e6"/><stop offset="0.6562" stop-color="#b2d2e8"/><stop offset="0.6687" stop-color="#bad6eb"/><stop offset="0.6813" stop-color="#b3d3e8"/><stop offset="0.6937" stop-color="#c3daee"/><stop offset="0.7063" stop-color="#c2d9ee"/><stop offset="0.7188" stop-color="#bbd6eb"/><stop offset="0.7312" stop-color="#bcd7eb"/><stop offset="0.7438" stop-color="#c6dbef"/><stop offset="0.7562" stop-color="#c0d8ed"/><stop offset="0.7688" stop-color="#cadef0"/><stop offset="0.7812" stop-color="#c5dbef"/><stop offset="0.7937" stop-color="#cadef0"/><stop offset="0.8063" stop-color="#c9ddf0"/><stop offset="0.8187" stop-color="#c9ddf0"/><stop offset="0.8313" stop-color="#cbdff1"/><stop offset="0.8438" stop-color="#c8dcf0"/><stop offset="0.8562" stop-color="#c7dcef"/><stop offset="0.8688" stop-color="#c9ddf0"/><stop offset="0.8812" stop-color="#c5dbef"/><stop offset="0.8938" stop-color="#cbdff1"/><stop offset="0.9062" stop-color="#c7dcef"/><stop offset="0.9187" stop-color="#c7dcef"/><stop offset="0.9313" stop-color="#c8ddf0"/><stop offset="0.9437" stop-color="#c2d9ee"/><stop offset="0.9563" stop-color="#cbdef1"/><stop offset="0.9688" stop-color="#c8ddf0"/><stop offset="0.9812" stop-color="#c8dcf0"/><stop offset="0.9938" stop-color="#c9ddf0"/></linearGradient>
<linearGradient id="g166" x1="0" x2="0" y1="0" y2="1"><stop offset="0.0063" stop-color="#bfd8ed"/><stop offset="0.0187" stop-color="#c6dbef"/><stop offset="0.0312" stop-color="#c7dcef"/><stop offset="0.0437" stop-color="#c8dcf0"/><stop offset="0.0563" stop-color="#c9ddf0"/><stop offset="0.0688" stop-color="#c3daee"/><stop offset="0.0813" stop-color="#c6dbef"/><stop offset="0.0938" stop-color="#c8dcf0"/><stop offset="0.1062" stop-color="#cde0f1"/><stop offset="0.1187" stop-color="#c9ddf0"/><stop offset="0.1313" stop-color="#cee0f2"/><stop offset="0.1437" stop-color="#ccdff1"/><stop offset="0.1562" stop-color="#d0e2f2"/><stop offset="0.1688" stop-color="#cadef0"/><stop offset="0.1812" stop-color="#c8dcf0"/><stop offset="0.1938" stop-color="#cbdff1"/><stop offset="0.2062" stop-color="#ccdff1"/><stop offset="0.2188" stop-color="#d0e2f2"/><stop offset="0.2313" stop-color="#cee0f2"/><stop offset="0.2437" stop-color="#cde0f1"/><stop offset="0.2562" stop-color="#cde0f1"/><stop offset="0.2687" stop-color="#cee0f2"/><stop offset="0.2812" stop-color="#cee0f2"/><stop offset="0.2938" stop-color="#c8ddf0"/><stop offset="0.3063" stop-color="#c6dbef"/><stop offset="0.3187" stop-color="#c7dbef"/><stop offset="0.3312" stop-color="#c8dcf0"/><stop offset="0.3438" stop-color="#cde0f1"/><stop offset="0.3563" stop-color="#cadef0"/><stop offset="0.3688" stop-color="#c3daee"/><stop offset="0.3812" stop-color="#c0d8ed"/><stop offset="0.3937" stop-color="#c6dbef"/><stop offset="0.4062" stop-color="#bdd7ec"/><stop offset="0.4188" stop-color="#abcfe5"/><stop offset="0.4313" stop-color="#a2cce2"/><stop offset="0.4437" stop-color="#94c5df"/><stop offset="0.4562" stop-color="#96c6df"/><stop offset="0.4688" stop-color="#88bedc"/><stop offset="0.4813" stop-color="#6eb0d7"/><stop offset="0.4938" stop-color="#2a7aba"/><stop offset="0.5062" stop-color="#1a67ae"/><stop offset="0.5188" stop-color="#0c56a0"/><stop offset="0.5312" stop-color="#084c95"/><stop offset="0.5437" stop-color="#083f82"/><stop offset="0.5563" stop-color="#083b7c"/><stop offset="0.5687" stop-color="#084c94"/><stop offset="0.5813" stop-color="#105ba4"/><stop offset="0.5938" stop-color="#1b69af"/><stop offset="0.6062" stop-color="#3181bd"/><stop offset="0.6188" stop-color="#4997c9"/><stop offset="0.6312" stop-color="#4e9acb"/><stop offset="0.6438" stop-color="#66aad4"/><stop offset="0.6562" stop-color="#68acd5"/><stop offset="0.6687" stop-color="#71b1d7"/><stop offset="0.6813" stop-color="#7eb9da"/><stop offset="0.6937" stop-color="#7eb8da"/><stop offset="0.7063" stop-color="#87bedc"/><stop offset="0.7188" stop-color="#9dcae1"/><stop offset="0.7312" stop-color="#9ecae1"/><stop offset="0.7438" stop-color="#9ecae1"/><stop offset="0.7562" stop-color="#a2cce2"/><stop offset="0.7688" stop-color="#a9cfe5"/><stop offset="0.7812" stop-color="#a5cde3"/><stop offset="0.7937" stop-color="#afd1e7"/><stop offset="0.8063" stop-color="#b4d4e9"/><stop offset="0.8187" stop-color="#aed1e6"/><stop offset="0.8313" stop-color="#afd1e7"/><stop offset="0.8438" stop-color="#b4d3e9"/><stop offset="0.8562" stop-color="#b4d3e9"/><stop offset="0.8688" stop-color="#add0e6"/><stop offset="0.8812" stop-color="#b1d2e8"/><stop offset="0.8938" stop-color="#b8d5ea"/><stop offset="0.9062" stop-color="#b1d2e8"/><stop offset="0.9187" stop-color="#b8d5ea"/><stop offset="0.9313" stop-color="#bbd7eb"/><stop offset="0.9437" stop-color="#b9d5ea"/><stop offset="0.9563" stop-color="#b8d5ea"/><stop offset="0.9688" stop-color="#b7d5ea"/><stop offset="0.9812" stop-color="#bbd7eb"/><stop offset="0.9938" stop-color="#bdd7ec"/></linearGradient>
<linearGradient id="g167" x1="0" x2="0" y1="0" y2="1"><stop offset="0.0063" stop-color="#dceaf6"/><stop offset="0.0187" stop-color="#e0ecf8"/><stop offset="0.0312" stop-color="#dce9f6"/><stop offset="0.0437" stop-color="#dfecf7"/><stop offset="0.0563" stop-color="#d7e6f5"/><stop offset="0.0688" stop-color="#dceaf6"/><stop offset="0.0813" stop-color="#dae8f6"/><stop offset="0.0938" stop-color="#d9e8f5"/><stop offset="0.1062" stop-color="#deebf7"/><stop offset="0.1187" stop-color="#d8e7f5"/><stop offset="0.1313" stop-color="#ddeaf7"/><stop offset="0.1437" stop-color="#dfecf7"/><stop offset="0.1562" stop-color="#dae8f6"/><stop offset="0.1688" stop-color="#dceaf6"/><stop offset="0.1812" stop-color="#d7e6f5"/><stop offset="0.1938" stop-color="#dce9f6"/><stop offset="0.2062" stop-color="#dfecf7"/><stop offset="0.2188" stop-color="#e0ecf8"/><stop offset="0.2313" stop-color="#e0ecf8"/><stop offset="0.2437" stop-color="#dbe9f6"/><stop offset="0.2562" stop-color="#d9e8f5"/><stop offset="0.2687" stop-color="#dfecf7"/><stop offset="0.2812" stop-color="#ddeaf7"/><stop offset="0.2938" stop-color="#dbe9f6"/><stop offset="0.3063" stop-color="#d7e7f5"/><stop offset="0.3187" stop-color="#d7e6f5"/><stop offset="0.3312" stop-color="#d8e7f5"/><stop offset="0.3438" stop-color="#dae8f6"/><stop offset="0.3563" stop-color="#dae9f6"/><stop offset="0.3688" stop-color="#deebf7"/><stop offset="0.3812" stop-color="#dae8f6"/><stop offset="0.3937" stop-color="#deebf7"/><stop offset="0.4062" stop-color="#dbe9f6"/><stop offset="0.4188" stop-color="#d0e2f2"/><stop offset="0.4313" stop-color="#cde0f1"/><stop offset="0.4437" stop-color="#c6dbef"/><stop offset="0.4562" stop-color="#c1d9ed"/><stop offset="0.4688" stop-color="#bbd6eb"/><stop offset="0.4813" stop-color="#afd1e7"/><stop offset="0.4938" stop-color="#a5cde4"/><stop offset="0.5062" stop-color="#a2cce2"/><stop offset="0.5188" stop-color="#89bfdd"/><stop offset="0.5312" stop-color="#79b6d9"/><stop offset="0.5437" stop-color="#7cb7da"/><stop offset="0.5563" stop-color="#6baed6"/><stop offset="0.5687" stop-color="#509bcb"/><stop offset="0.5813" stop-color="#3f8fc4"/><stop offset="0.5938" stop-color="#3585bf"/><stop offset="0.6062" stop-color="#1b69af"/><stop offset="0.6188" stop-color="#08509b"/><stop offset="0.6312" stop-color="#084185"/><stop offset="0.6438" stop-color="#084b93"/><stop offset="0.6562" stop-color="#0c56a0"/><stop offset="0.6687" stop-color="#2171b5"/><stop offset="0.6813" stop-color="#2f7fbc"/><stop offset="0.6937" stop-color="#3989c2"/><stop offset="0.7063" stop-color="#4796c8"/><stop offset="0.7188" stop-color="#5da4d0"/><stop offset="0.7312" stop-color="#73b2d8"/><stop offset="0.7438" stop-color="#7db8da"/><stop offset="0.7562" stop-color="#7fb9da"/><stop offset="0.7688" stop-color="#87bedc"/><stop offset="0.7812" stop-color="#93c4df"/><stop offset="0.7937" stop-color="#95c5df"/><stop offset="0.8063" stop-color="#a5cde3"/><stop offset="0.8187" stop-color="#a5cde3"/><stop offset="0.8313" stop-color="#9ecae1"/><stop offset="0.8438" stop-color="#abd0e6"/><stop offset="0.8562" stop-color="#abd0e6"/><stop offset="0.8688" stop-color="#a2cbe2"/><stop offset="0.8812" stop-color="#acd0e6"/><stop offset="0.8938" stop-color="#add0e6"/><stop offset="0.9062" stop-color="#aacfe5"/><stop offset="0.9187" stop-color="#a4cde3"/><stop offset="0.9313" stop-color="#b2d3e8"/><stop offset="0.9437" stop-color="#a6cde4"/><stop offset="0.9563" stop-color="#b0d1e7"/><stop offset="0.9688" stop-color="#acd0e6"/><stop offset="0.9812" stop-color="#afd1e7"/><stop offset="0.9938" stop-color="#b5d4e9"/></linearGradient>
<linearGradient id="g168" x1="0" x2="0" y1="0" y2="1"><stop offset="0.0063" stop-color="#e2eef8"/><stop offset="0.0187" stop-color="#eaf3fb"/><stop offset="0.0312" stop-color="#e4eff9"/><stop offset="0.0437" stop-color="#e3eef9"/><stop offset="0.0563" stop-color="#e7f1fa"/><stop offset="0.0688" stop-color="#e2eef8"/><stop offset="0.0813" stop-color="#ebf3fb"/><stop offset="0.0938" stop-color="#eaf3fb"/><stop offset="0.1062" stop-color="#e7f1fa"/><stop offset="0.1187" stop-color="#ebf3fb"/><stop offset="0.1313" stop-color="#e3eef9"/><stop offset="0.1437" stop-color="#e6f0fa"/><stop offset="0.1562" stop-color="#e3eef9"/><stop offset="0.1688" stop-color="#e8f2fa"/><stop offset="0.1812" stop-color="#ebf3fb"/><stop offset="0.1938" stop-color="#e2eef8"/><stop offset="0.2062" stop-color="#e9f2fa"/><stop offset="0.2188" stop-color="#e7f1fa"/><stop offset="0.2313" stop-color="#eaf2fb"/><stop offset="0.2437" stop-color="#e5eff9"/><stop offset="0.2562" stop-color="#e6f0fa"/><stop offset="0.2687" stop-color="#e9f2fa"/><stop offset="0.2812" stop-color="#eaf3fb"/><stop offset="0.2938" stop-color="#e7f1fa"/><stop offset="0.3063" stop-color="#e3eef8"/><stop offset="0.3187" stop-color="#e9f2fa"/><stop offset="0.3312" stop-color="#e8f1fa"/><stop offset="0.3438" stop-color="#e4eff9"/><stop offset="0.3563" stop-color="#e4eff9"/><stop offset="0.3688" stop-color="#e2eef8"/><stop offset="0.3812" stop-color="#e4eff9"/><stop offset="0.3937" stop-color="#e2edf8"/><stop offset="0.4062" stop-color="#e7f0fa"/><stop offset="0.4188" stop-color="#dbe9f6"/><stop offset="0.4313" stop-color="#dfecf7"/><stop offset="0.4437" stop-color="#dae9f6"/><stop offset="0.4562" stop-color="#d6e6f4"/><stop offset="0.4688" stop-color="#ccdff1"/><stop offset="0.4813" stop-color="#cadef0"/><stop offset="0.4938" stop-color="#c0d8ed"/><stop offset="0.5062" stop-color="#b7d5ea"/><stop offset="0.5188" stop-color="#b0d2e7"/><stop offset="0.5312" stop-color="#aed1e7"/><stop offset="0.5437" stop-color="#aacfe5"/><stop offset="0.5563" stop-color="#8cc0dd"/><stop offset="0.5687" stop-color="#76b4d8"/><stop offset="0.5813" stop-color="#69add5"/><stop offset="0.5938" stop-color="#529dcc"/><stop offset="0.6062" stop-color="#4997c9"/><stop offset="0.6188" stop-color="#3484bf"/><stop offset="0.6312" stop-color="#1764ab"/><stop offset="0.6438" stop-color="#08509b"/><stop offset="0.6562" stop-color="#08488f"/><stop offset="0.6687" stop-color="#084387"/><stop offset="0.6813" stop-color="#08509a"/><stop offset="0.6937" stop-color="#105ba4"/><stop offset="0.7063" stop-color="#1d6bb1"/><stop offset="0.7188" stop-color="#3282be"/><stop offset="0.7312" stop-color="#4795c8"/><stop offset="0.7438" stop-color="#60a6d2"/><stop offset="0.7562" stop-color="#7db8da"/><stop offset="0.7688" stop-color="#8cc0dd"/><stop offset="0.7812" stop-color="#9fcae1"/><stop offset="0.7937" stop-color="#b1d2e8"/><stop offset="0.8063" stop-color="#aacfe5"/><stop offset="0.8187" stop-color="#add1e6"/><stop offset="0.8313" stop-color="#bbd6eb"/><stop offset="0.8438" stop-color="#b7d5ea"/><stop offset="0.8562" stop-color="#c7dbef"/><stop offset="0.8688" stop-color="#c8dcf0"/><stop offset="0.8812" stop-color="#c6dbef"/><stop offset="0.8938" stop-color="#c2d9ee"/><stop offset="0.9062" stop-color="#c8dcf0"/><stop offset="0.9187" stop-color="#cde0f1"/><stop offset="0.9313" stop-color="#c5dbef"/><stop offset="0.9437" stop-color="#cadef0"/><stop offset="0.9563" stop-color="#c9ddf0"/><stop offset="0.9688" stop-color="#cfe1f2"/><stop offset="0.9812" stop-color="#cee1f2"/><stop offset="0.9938" stop-color="#d1e3f3"/></linearGradient>
<linearGradient id="cbr" x1="0" x2="0" y1="0" y2="1"><stop offset="0.000" stop-color="#67000d"/><stop offset="0.125" stop-color="#a50f15"/><stop offset="0.250" stop-color="#cb181d"/><stop offset="0.375" stop-color="#ef3b2c"/><stop offset="0.500" stop-color="#fb6a4a"/><stop offset="0.625" stop-color="#fc9272"/><stop offset="0.750" stop-color="#fcbba1"/><stop offset="0.875" stop-color="#fee0d2"/><stop offset="1.000" stop-color="#fff5f0"/></linearGradient>
<linearGradient id="cbb" x1="0" x2="0" y1="0" y2="1"><stop offset="0.000" stop-color="#08306b"/><stop offset="0.125" stop-color="#08519c"/><stop offset="0.250" stop-color="#2171b5"/><stop offset="0.375" stop-color="#4292c6"/><stop offset="0.500" stop-color="#6baed6"/><stop offset="0.625" stop-color="#9ecae1"/><stop offset="0.750" stop-color="#c6dbef"/><stop offset="0.875" stop-color="#deebf7"/><stop offset="1.000" stop-color="#f7fbff"/></linearGradient>
<clipPath id="cb"><rect x="36.60" y="271.50" width="188.00" height="170.90"/></clipPath>
</defs>
<rect width="685" height="465" fill="#fff"/>
<g clip-path="url(#ca1)"><rect x="28.50" y="20.00" width="185.00" height="1.00" fill="#ffffff"/>
<rect x="28.50" y="21.00" width="185.00" height="1.00" fill="#fffdfd"/>
<rect x="28.50" y="22.00" width="185.00" height="1.00" fill="#fffafa"/>
<rect x="28.50" y="23.00" width="185.00" height="1.00" fill="#fff7f7"/>
<rect x="28.50" y="24.00" width="185.00" height="1.00" fill="#fff4f4"/>
<rect x="28.50" y="25.00" width="185.00" height="1.00" fill="#fff1f1"/>
<rect x="28.50" y="26.00" width="185.00" height="1.00" fill="#ffeeee"/>
<rect x="28.50" y="27.00" width="185.00" height="1.00" fill="#ffebeb"/>
<rect x="28.50" y="28.00" width="185.00" height="1.00" fill="#ffe8e8"/>
<rect x="28.50" y="29.00" width="185.00" height="1.00" fill="#ffe4e4"/>
<rect x="28.50" y="30.00" width="185.00" height="1.00" fill="#ffe1e1"/>
<rect x="28.50" y="31.00" width="185.00" height="1.00" fill="url(#g1)"/>
<rect x="28.50" y="32.00" width="185.00" height="1.00" fill="url(#g2)"/>
<rect x="28.50" y="33.00" width="185.00" height="1.00" fill="url(#g3)"/>
<rect x="28.50" y="34.00" width="185.00" height="1.00" fill="url(#g4)"/>
<rect x="28.50" y="35.00" width="185.00" height="1.00" fill="url(#g5)"/>
<rect x="28.50" y="36.00" width="185.00" height="1.00" fill="url(#g6)"/>
<rect x="28.50" y="37.00" width="185.00" height="1.00" fill="url(#g7)"/>
<rect x="28.50" y="38.00" width="185.00" height="1.00" fill="url(#g8)"/>
<rect x="28.50" y="39.00" width="185.00" height="1.00" fill="url(#g9)"/>
<rect x="28.50" y="40.00" width="185.00" height="1.00" fill="url(#g10)"/>
<rect x="28.50" y="41.00" width="185.00" height="1.00" fill="url(#g11)"/>
<rect x="28.50" y="42.00" width="185.00" height="1.00" fill="url(#g12)"/>
<rect x="28.50" y="43.00" width="185.00" height="1.00" fill="url(#g13)"/>
<rect x="28.50" y="44.00" width="185.00" height="1.00" fill="url(#g14)"/>
<rect x="28.50" y="45.00" width="185.00" height="1.00" fill="url(#g15)"/>
<rect x="28.50" y="46.00" width="185.00" height="1.00" fill="url(#g16)"/>
<rect x="28.50" y="47.00" width="185.00" height="1.00" fill="url(#g17)"/>
<rect x="28.50" y="48.00" width="185.00" height="1.00" fill="url(#g18)"/>
<rect x="28.50" y="49.00" width="185.00" height="1.00" fill="url(#g19)"/>
<rect x="28.50" y="50.00" width="185.00" height="1.00" fill="url(#g20)"/>
<rect x="28.50" y="51.00" width="185.00" height="1.00" fill="url(#g21)"/>
<rect x="28.50" y="52.00" width="185.00" height="1.00" fill="url(#g22)"/>
<rect x="28.50" y="53.00" width="185.00" height="1.00" fill="url(#g23)"/>
<rect x="28.50" y="54.00" width="185.00" height="1.00" fill="url(#g24)"/>
<rect x="28.50" y="55.00" width="185.00" height="1.00" fill="url(#g25)"/>
<rect x="28.50" y="56.00" width="185.00" height="1.00" fill="url(#g26)"/>
<rect x="28.50" y="57.00" width="185.00" height="1.00" fill="url(#g27)"/>
<rect x="28.50" y="58.00" width="185.00" height="1.00" fill="url(#g28)"/>
<rect x="28.50" y="59.00" width="185.00" height="1.00" fill="url(#g29)"/>
<rect x="28.50" y="60.00" width="185.00" height="1.00" fill="url(#g30)"/>
<rect x="28.50" y="61.00" width="185.00" height="1.00" fill="url(#g31)"/>
<rect x="28.50" y="62.00" width="185.00" height="1.00" fill="url(#g32)"/>
<rect x="28.50" y="63.00" width="185.00" height="1.00" fill="url(#g33)"/>
<rect x="28.50" y="64.00" width="185.00" height="1.00" fill="url(#g34)"/>
<rect x="28.50" y="65.00" width="185.00" height="1.00" fill="url(#g35)"/>
<rect x="28.50" y="66.00" width="185.00" height="1.00" fill="url(#g36)"/>
<rect x="28.50" y="67.00" width="185.00" height="1.00" fill="url(#g37)"/>
<rect x="28.50" y="68.00" width="185.00" height="1.00" fill="url(#g38)"/>
<rect x="28.50" y="69.00" width="185.00" height="1.00" fill="url(#g39)"/>
<rect x="28.50" y="70.00" width="185.00" height="1.00" fill="url(#g40)"/>
<rect x="28.50" y="71.00" width="185.00" height="1.00" fill="url(#g41)"/>
<rect x="28.50" y="72.00" width="185.00" height="1.00" fill="url(#g42)"/>
<rect x="28.50" y="73.00" width="185.00" height="1.00" fill="url(#g43)"/>
<rect x="28.50" y="74.00" width="185.00" height="1.00" fill="url(#g44)"/>
<rect x="28.50" y="75.00" width="185.00" height="1.00" fill="url(#g45)"/>
<rect x="28.50" y="76.00" width="185.00" height="1.00" fill="url(#g46)"/>
<rect x="28.50" y="77.00" width="185.00" height="1.00" fill="url(#g47)"/>
<rect x="28.50" y="78.00" width="185.00" height="1.00" fill="url(#g48)"/>
<rect x="28.50" y="79.00" width="185.00" height="1.00" fill="url(#g49)"/>
<rect x="28.50" y="80.00" width="185.00" height="1.00" fill="url(#g50)"/>
<rect x="28.50" y="81.00" width="185.00" height="1.00" fill="url(#g51)"/>
<rect x="28.50" y="82.00" width="185.00" height="1.00" fill="url(#g52)"/>
<rect x="28.50" y="83.00" width="185.00" height="1.00" fill="url(#g53)"/>
<rect x="28.50" y="84.00" width="185.00" height="1.00" fill="url(#g54)"/>
<rect x="28.50" y="85.00" width="185.00" height="1.00" fill="url(#g55)"/>
<rect x="28.50" y="86.00" width="185.00" height="1.00" fill="url(#g56)"/>
<rect x="28.50" y="87.00" width="185.00" height="1.00" fill="url(#g57)"/>
<rect x="28.50" y="88.00" width="185.00" height="1.00" fill="url(#g58)"/>
<rect x="28.50" y="89.00" width="185.00" height="1.00" fill="url(#g59)"/>
<rect x="28.50" y="90.00" width="185.00" height="1.00" fill="url(#g60)"/>
<rect x="28.50" y="91.00" width="185.00" height="1.00" fill="url(#g61)"/>
<rect x="28.50" y="92.00" width="185.00" height="1.00" fill="url(#g62)"/>
<rect x="28.50" y="93.00" width="185.00" height="1.00" fill="url(#g63)"/>
<rect x="28.50" y="94.00" width="185.00" height="1.00" fill="url(#g64)"/>
<rect x="28.50" y="95.00" width="185.00" height="1.00" fill="url(#g65)"/>
<rect x="28.50" y="96.00" width="185.00" height="1.00" fill="url(#g66)"/>
<rect x="28.50" y="97.00" width="185.00" height="1.00" fill="url(#g67)"/>
<rect x="28.50" y="98.00" width="185.00" height="1.00" fill="url(#g68)"/>
<rect x="28.50" y="99.00" width="185.00" height="1.00" fill="url(#g69)"/>
<rect x="28.50" y="100.00" width="185.00" height="1.00" fill="url(#g70)"/>
<rect x="28.50" y="101.00" width="185.00" height="1.00" fill="url(#g71)"/>
<rect x="28.50" y="102.00" width="185.00" height="1.00" fill="#ffe0e0"/>
<rect x="28.50" y="103.00" width="185.00" height="1.00" fill="#ffe1e1"/>
<rect x="28.50" y="104.00" width="185.00" height="1.00" fill="#ffe6e6"/>
<rect x="28.50" y="105.00" width="185.00" height="1.00" fill="#ffeaea"/>
<rect x="28.50" y="106.00" width="185.00" height="1.00" fill="#ffeeee"/>
<rect x="28.50" y="107.00" width="185.00" height="1.00" fill="#fff3f3"/>
<rect x="28.50" y="108.00" width="185.00" height="1.00" fill="#fff7f7"/>
<rect x="28.50" y="109.00" width="185.00" height="1.00" fill="#fffcfc"/>
<rect x="28.50" y="110.00" width="185.00" height="1.00" fill="#ffffff"/>
<rect x="28.50" y="111.00" width="185.00" height="1.00" fill="#ffffff"/>
<rect x="28.50" y="112.00" width="185.00" height="1.00" fill="#ffffff"/>
<rect x="28.50" y="113.00" width="185.00" height="1.00" fill="#fefeff"/>
<rect x="28.50" y="114.00" width="185.00" height="1.00" fill="#fbfbff"/>
<rect x="28.50" y="115.00" width="185.00" height="1.00" fill="#f8f8ff"/>
<rect x="28.50" y="116.00" width="185.00" height="1.00" fill="#f5f5ff"/>
<rect x="28.50" y="117.00" width="185.00" height="1.00" fill="#f1f1ff"/>
<rect x="28.50" y="118.00" width="185.00" height="1.00" fill="#eeeeff"/>
<rect x="28.50" y="119.00" width="185.00" height="1.00" fill="#ebebff"/>
<rect x="28.50" y="120.00" width="185.00" height="1.00" fill="#e8e8ff"/>
<rect x="28.50" y="121.00" width="185.00" height="1.00" fill="#e4e4ff"/>
<rect x="28.50" y="122.00" width="185.00" height="1.00" fill="#e1e1ff"/>
<rect x="28.50" y="123.00" width="185.00" height="1.00" fill="#dedeff"/>
<rect x="28.50" y="124.00" width="185.00" height="1.00" fill="url(#g72)"/>
<rect x="28.50" y="125.00" width="185.00" height="1.00" fill="url(#g73)"/>
<rect x="28.50" y="126.00" width="185.00" height="1.00" fill="url(#g74)"/>
<rect x="28.50" y="127.00" width="185.00" height="1.00" fill="url(#g75)"/>
<rect x="28.50" y="128.00" width="185.00" height="1.00" fill="url(#g76)"/>
<rect x="28.50" y="129.00" width="185.00" height="1.00" fill="url(#g77)"/>
<rect x="28.50" y="130.00" width="185.00" height="1.00" fill="url(#g78)"/>
<rect x="28.50" y="131.00" width="185.00" height="1.00" fill="url(#g79)"/>
<rect x="28.50" y="132.00" width="185.00" height="1.00" fill="url(#g80)"/>
<rect x="28.50" y="133.00" width="185.00" height="1.00" fill="url(#g81)"/>
<rect x="28.50" y="134.00" width="185.00" height="1.00" fill="url(#g82)"/>
<rect x="28.50" y="135.00" width="185.00" height="1.00" fill="url(#g83)"/>
<rect x="28.50" y="136.00" width="185.00" height="1.00" fill="url(#g84)"/>
<rect x="28.50" y="137.00" width="185.00" height="1.00" fill="url(#g85)"/>
<rect x="28.50" y="138.00" width="185.00" height="1.00" fill="url(#g86)"/>
<rect x="28.50" y="139.00" width="185.00" height="1.00" fill="url(#g87)"/>
<rect x="28.50" y="140.00" width="185.00" height="1.00" fill="url(#g88)"/>
<rect x="28.50" y="141.00" width="185.00" height="1.00" fill="url(#g89)"/>
<rect x="28.50" y="142.00" width="185.00" height="1.00" fill="url(#g90)"/>
<rect x="28.50" y="143.00" width="185.00" height="1.00" fill="url(#g91)"/>
<rect x="28.50" y="144.00" width="185.00" height="1.00" fill="url(#g92)"/>
<rect x="28.50" y="145.00" width="185.00" height="1.00" fill="url(#g93)"/>
<rect x="28.50" y="146.00" width="185.00" height="1.00" fill="url(#g94)"/>
<rect x="28.50" y="147.00" width="185.00" height="1.00" fill="url(#g95)"/>
<rect x="28.50" y="148.00" width="185.00" height="1.00" fill="url(#g96)"/>
<rect x="28.50" y="149.00" width="185.00" height="1.00" fill="url(#g97)"/>
<rect x="28.50" y="150.00" width="185.00" height="1.00" fill="url(#g98)"/>
<rect x="28.50" y="151.00" width="185.00" height="1.00" fill="url(#g99)"/>
<rect x="28.50" y="152.00" width="185.00" height="1.00" fill="url(#g100)"/>
<rect x="28.50" y="153.00" width="185.00" height="1.00" fill="url(#g101)"/>
<rect x="28.50" y="154.00" width="185.00" height="1.00" fill="url(#g102)"/>
<rect x="28.50" y="155.00" width="185.00" height="1.00" fill="url(#g103)"/>
<rect x="28.50" y="156.00" width="185.00" height="1.00" fill="url(#g104)"/>
<rect x="28.50" y="157.00" width="185.00" height="1.00" fill="url(#g105)"/>
<rect x="28.50" y="158.00" width="185.00" height="1.00" fill="url(#g106)"/>
<rect x="28.50" y="159.00" width="185.00" height="1.00" fill="url(#g107)"/>
<rect x="28.50" y="160.00" width="185.00" height="1.00" fill="url(#g108)"/>
<rect x="28.50" y="161.00" width="185.00" height="1.00" fill="url(#g109)"/>
<rect x="28.50" y="162.00" width="185.00" height="1.00" fill="url(#g110)"/>
<rect x="28.50" y="163.00" width="185.00" height="1.00" fill="url(#g111)"/>
<rect x="28.50" y="164.00" width="185.00" height="1.00" fill="url(#g112)"/>
<rect x="28.50" y="165.00" width="185.00" height="1.00" fill="url(#g113)"/>
<rect x="28.50" y="166.00" width="185.00" height="1.00" fill="url(#g114)"/>
<rect x="28.50" y="167.00" width="185.00" height="1.00" fill="url(#g115)"/>
<rect x="28.50" y="168.00" width="185.00" height="1.00" fill="url(#g116)"/>
<rect x="28.50" y="169.00" width="185.00" height="1.00" fill="url(#g117)"/>
<rect x="28.50" y="170.00" width="185.00" height="1.00" fill="url(#g118)"/>
<rect x="28.50" y="171.00" width="185.00" height="1.00" fill="url(#g119)"/>
<rect x="28.50" y="172.00" width="185.00" height="1.00" fill="url(#g120)"/>
<rect x="28.50" y="173.00" width="185.00" height="1.00" fill="url(#g121)"/>
<rect x="28.50" y="174.00" width="185.00" height="1.00" fill="url(#g122)"/>
<rect x="28.50" y="175.00" width="185.00" height="1.00" fill="url(#g123)"/>
<rect x="28.50" y="176.00" width="185.00" height="1.00" fill="url(#g124)"/>
<rect x="28.50" y="177.00" width="185.00" height="1.00" fill="url(#g125)"/>
<rect x="28.50" y="178.00" width="185.00" height="1.00" fill="url(#g126)"/>
<rect x="28.50" y="179.00" width="185.00" height="1.00" fill="url(#g127)"/>
<rect x="28.50" y="180.00" width="185.00" height="1.00" fill="url(#g128)"/>
<rect x="28.50" y="181.00" width="185.00" height="1.00" fill="url(#g129)"/>
<rect x="28.50" y="182.00" width="185.00" height="1.00" fill="url(#g130)"/>
<rect x="28.50" y="183.00" width="185.00" height="1.00" fill="url(#g131)"/>
<rect x="28.50" y="184.00" width="185.00" height="1.00" fill="url(#g132)"/>
<rect x="28.50" y="185.00" width="185.00" height="1.00" fill="url(#g133)"/>
<rect x="28.50" y="186.00" width="185.00" height="1.00" fill="url(#g134)"/>
<rect x="28.50" y="187.00" width="185.00" height="1.00" fill="url(#g135)"/>
<rect x="28.50" y="188.00" width="185.00" height="1.00" fill="url(#g136)"/>
<rect x="28.50" y="189.00" width="185.00" height="1.00" fill="url(#g137)"/>
<rect x="28.50" y="190.00" width="185.00" height="1.00" fill="url(#g138)"/>
<rect x="28.50" y="191.00" width="185.00" height="1.00" fill="url(#g139)"/>
<rect x="28.50" y="192.00" width="185.00" height="1.00" fill="url(#g140)"/>
<rect x="28.50" y="193.00" width="185.00" height="1.00" fill="url(#g141)"/>
<rect x="28.50" y="194.00" width="185.00" height="1.00" fill="url(#g142)"/>
<rect x="28.50" y="195.00" width="185.00" height="1.00" fill="#e7e7ff"/>
<rect x="28.50" y="196.00" width="185.00" height="1.00" fill="#eaeaff"/>
<rect x="28.50" y="197.00" width="185.00" height="1.00" fill="#ededff"/>
<rect x="28.50" y="198.00" width="185.00" height="1.00" fill="#f0f0ff"/>
<rect x="28.50" y="199.00" width="185.00" height="1.00" fill="#f3f3ff"/>
<rect x="28.50" y="200.00" width="185.00" height="1.00" fill="#f6f6ff"/>
<rect x="28.50" y="201.00" width="185.00" height="1.00" fill="#f9f9ff"/>
<rect x="28.50" y="202.00" width="185.00" height="1.00" fill="#fcfcff"/>
<rect x="28.50" y="203.00" width="185.00" height="1.00" fill="#ffffff"/>
<rect x="28.50" y="204.00" width="185.00" height="1.00" fill="#ffffff"/></g>
<g clip-path="url(#ca2)"><rect x="243.00" y="20.00" width="186.10" height="4.44" fill="#fffcfc"/><rect x="243.00" y="23.84" width="39.25" height="4.44" fill="#ffefef"/><rect x="281.65" y="23.84" width="16.06" height="4.44" fill="#fff0f0"/><rect x="297.10" y="23.84" width="12.19" height="4.44" fill="#fff1f1"/><rect x="308.70" y="23.84" width="27.65" height="4.44" fill="#fff2f2"/><rect x="335.75" y="23.84" width="12.19" height="4.44" fill="#fff3f3"/><rect x="347.34" y="23.84" width="19.92" height="4.44" fill="#fff2f2"/><rect x="366.67" y="23.84" width="12.19" height="4.44" fill="#fff1f1"/><rect x="378.26" y="23.84" width="12.19" height="4.44" fill="#fff0f0"/><rect x="389.85" y="23.84" width="39.25" height="4.44" fill="#ffefef"/><rect x="243.00" y="27.69" width="31.52" height="4.44" fill="#ffe7e7"/><rect x="273.92" y="27.69" width="12.19" height="4.44" fill="#ffe8e8"/><rect x="285.51" y="27.69" width="12.19" height="4.44" fill="#ffe9e9"/><rect x="297.10" y="27.69" width="12.19" height="4.44" fill="#ffeaea"/><rect x="308.70" y="27.69" width="27.65" height="4.44" fill="#ffebeb"/><rect x="335.75" y="27.69" width="19.92" height="4.44" fill="#ffecec"/><rect x="355.07" y="27.69" width="16.06" height="4.44" fill="#ffebeb"/><rect x="370.53" y="27.69" width="8.33" height="4.44" fill="#ffeaea"/><rect x="378.26" y="27.69" width="8.33" height="4.44" fill="#ffe9e9"/><rect x="385.99" y="27.69" width="16.06" height="4.44" fill="#ffe8e8"/><rect x="401.45" y="27.69" width="27.65" height="4.44" fill="#ffe7e7"/><rect x="243.00" y="31.53" width="31.52" height="4.44" fill="#ffe7e7"/><rect x="273.92" y="31.53" width="19.92" height="4.44" fill="#ffe8e8"/><rect x="293.24" y="31.53" width="12.19" height="4.44" fill="#ffe9e9"/><rect x="304.83" y="31.53" width="16.06" height="4.44" fill="#ffe8e8"/><rect x="320.29" y="31.53" width="19.92" height="4.44" fill="#ffe7e7"/><rect x="339.61" y="31.53" width="12.19" height="4.44" fill="#ffe8e8"/><rect x="351.21" y="31.53" width="35.38" height="4.44" fill="#ffe9e9"/><rect x="385.99" y="31.53" width="12.19" height="4.44" fill="#ffe8e8"/><rect x="397.58" y="31.53" width="31.52" height="4.44" fill="#ffe7e7"/><rect x="243.00" y="35.38" width="35.38" height="4.44" fill="#ffe7e7"/><rect x="277.78" y="35.38" width="16.06" height="4.44" fill="#ffe8e8"/><rect x="293.24" y="35.38" width="8.33" height="4.44" fill="#ffe7e7"/><rect x="300.97" y="35.38" width="8.33" height="4.44" fill="#ffe6e6"/><rect x="308.70" y="35.38" width="4.46" height="4.44" fill="#ffe5e5"/><rect x="312.56" y="35.38" width="4.46" height="4.44" fill="#ffe4e4"/><rect x="316.43" y="35.38" width="4.46" height="4.44" fill="#ffe3e3"/><rect x="320.29" y="35.38" width="4.46" height="4.44" fill="#ffe2e2"/><rect x="324.16" y="35.38" width="16.06" height="4.44" fill="#ffe1e1"/><rect x="339.61" y="35.38" width="4.46" height="4.44" fill="#ffe2e2"/><rect x="343.48" y="35.38" width="4.46" height="4.44" fill="#ffe3e3"/><rect x="347.34" y="35.38" width="4.46" height="4.44" fill="#ffe4e4"/><rect x="351.21" y="35.38" width="4.46" height="4.44" fill="#ffe5e5"/><rect x="355.07" y="35.38" width="4.46" height="4.44" fill="#ffe6e6"/><rect x="358.94" y="35.38" width="8.33" height="4.44" fill="#ffe7e7"/><rect x="366.67" y="35.38" width="31.52" height="4.44" fill="#ffe8e8"/><rect x="397.58" y="35.38" width="31.52" height="4.44" fill="#ffe7e7"/><rect x="243.00" y="39.22" width="46.98" height="4.44" fill="#ffe7e7"/><rect x="289.38" y="39.22" width="8.33" height="4.44" fill="#ffe6e6"/><rect x="297.10" y="39.22" width="4.46" height="4.44" fill="#ffe5e5"/><rect x="300.97" y="39.22" width="4.46" height="4.44" fill="#ffe3e3"/><rect x="304.83" y="39.22" width="4.46" height="4.44" fill="#ffe2e2"/><rect x="308.70" y="39.22" width="4.46" height="4.44" fill="#ffe0e0"/><rect x="312.56" y="39.22" width="4.46" height="4.44" fill="#ffdede"/><rect x="316.43" y="39.22" width="4.46" height="4.44" fill="#ffdcdc"/><rect x="320.29" y="39.22" width="4.46" height="4.44" fill="#ffdada"/><rect x="324.16" y="39.22" width="4.46" height="4.44" fill="#ffd9d9"/><rect x="328.02" y="39.22" width="12.19" height="4.44" fill="#ffd8d8"/><rect x="339.61" y="39.22" width="4.46" height="4.44" fill="#ffd9d9"/><rect x="343.48" y="39.22" width="4.46" height="4.44" fill="#ffdbdb"/><rect x="347.34" y="39.22" width="4.46" height="4.44" fill="#ffdddd"/><rect x="351.21" y="39.22" width="4.46" height="4.44" fill="#ffdfdf"/><rect x="355.07" y="39.22" width="4.46" height="4.44" fill="#ffe1e1"/><rect x="358.94" y="39.22" width="4.46" height="4.44" fill="#ffe3e3"/><rect x="362.80" y="39.22" width="4.46" height="4.44" fill="#ffe4e4"/><rect x="366.67" y="39.22" width="4.46" height="4.44" fill="#ffe5e5"/><rect x="370.53" y="39.22" width="4.46" height="4.44" fill="#ffe6e6"/><rect x="374.40" y="39.22" width="8.33" height="4.44" fill="#ffe7e7"/><rect x="382.12" y="39.22" width="16.06" height="4.44" fill="#ffe8e8"/><rect x="397.58" y="39.22" width="31.52" height="4.44" fill="#ffe7e7"/><rect x="243.00" y="43.06" width="39.25" height="4.44" fill="#ffe7e7"/><rect x="281.65" y="43.06" width="8.33" height="4.44" fill="#ffe6e6"/><rect x="289.38" y="43.06" width="4.46" height="4.44" fill="#ffe5e5"/><rect x="293.24" y="43.06" width="4.46" height="4.44" fill="#ffe3e3"/><rect x="297.10" y="43.06" width="4.46" height="4.44" fill="#ffe2e2"/><rect x="300.97" y="43.06" width="4.46" height="4.44" fill="#ffdfdf"/><rect x="304.83" y="43.06" width="4.46" height="4.44" fill="#ffdddd"/><rect x="308.70" y="43.06" width="4.46" height="4.44" fill="#ffdada"/><rect x="312.56" y="43.06" width="4.46" height="4.44" fill="#ffd6d6"/><rect x="316.43" y="43.06" width="4.46" height="4.44" fill="#ffd3d3"/><rect x="320.29" y="43.06" width="4.46" height="4.44" fill="#ffd0d0"/><rect x="324.16" y="43.06" width="4.46" height="4.44" fill="#ffcece"/><rect x="328.02" y="43.06" width="4.46" height="4.44" fill="#ffcdcd"/><rect x="331.89" y="43.06" width="4.46" height="4.44" fill="#ffcccc"/><rect x="335.75" y="43.06" width="4.46" height="4.44" fill="#ffcdcd"/><rect x="339.61" y="43.06" width="4.46" height="4.44" fill="#ffcfcf"/><rect x="343.48" y="43.06" width="4.46" height="4.44" fill="#ffd1d1"/><rect x="347.34" y="43.06" width="4.46" height="4.44" fill="#ffd4d4"/><rect x="351.21" y="43.06" width="4.46" height="4.44" fill="#ffd7d7"/><rect x="355.07" y="43.06" width="4.46" height="4.44" fill="#ffdada"/><rect x="358.94" y="43.06" width="4.46" height="4.44" fill="#ffdddd"/><rect x="362.80" y="43.06" width="4.46" height="4.44" fill="#ffe0e0"/><rect x="366.67" y="43.06" width="4.46" height="4.44" fill="#ffe2e2"/><rect x="370.53" y="43.06" width="4.46" height="4.44" fill="#ffe4e4"/><rect x="374.40" y="43.06" width="8.33" height="4.44" fill="#ffe6e6"/><rect x="382.12" y="43.06" width="46.98" height="4.44" fill="#ffe7e7"/><rect x="243.00" y="46.91" width="35.38" height="4.44" fill="#ffe7e7"/><rect x="277.78" y="46.91" width="8.33" height="4.44" fill="#ffe6e6"/><rect x="285.51" y="46.91" width="4.46" height="4.44" fill="#ffe5e5"/><rect x="289.38" y="46.91" width="4.46" height="4.44" fill="#ffe3e3"/><rect x="293.24" y="46.91" width="4.46" height="4.44" fill="#ffe1e1"/><rect x="297.10" y="46.91" width="4.46" height="4.44" fill="#ffdede"/><rect x="300.97" y="46.91" width="4.46" height="4.44" fill="#ffdbdb"/><rect x="304.83" y="46.91" width="4.46" height="4.44" fill="#ffd7d7"/><rect x="308.70" y="46.91" width="4.46" height="4.44" fill="#ffd2d2"/><rect x="312.56" y="46.91" width="4.46" height="4.44" fill="#ffcdcd"/><rect x="316.43" y="46.91" width="4.46" height="4.44" fill="#ffc9c9"/><rect x="320.29" y="46.91" width="4.46" height="4.44" fill="#ffc5c5"/><rect x="324.16" y="46.91" width="4.46" height="4.44" fill="#ffc1c1"/><rect x="328.02" y="46.91" width="8.33" height="4.44" fill="#ffbfbf"/><rect x="335.75" y="46.91" width="4.46" height="4.44" fill="#ffc0c0"/><rect x="339.61" y="46.91" width="4.46" height="4.44" fill="#ffc2c2"/><rect x="343.48" y="46.91" width="4.46" height="4.44" fill="#ffc5c5"/><rect x="347.34" y="46.91" width="4.46" height="4.44" fill="#ffc9c9"/><rect x="351.21" y="46.91" width="4.46" height="4.44" fill="#ffcece"/><rect x="355.07" y="46.91" width="4.46" height="4.44" fill="#ffd3d3"/><rect x="358.94" y="46.91" width="4.46" height="4.44" fill="#ffd7d7"/><rect x="362.80" y="46.91" width="4.46" height="4.44" fill="#ffdbdb"/><rect x="366.67" y="46.91" width="4.46" height="4.44" fill="#ffdfdf"/><rect x="370.53" y="46.91" width="4.46" height="4.44" fill="#ffe2e2"/><rect x="374.40" y="46.91" width="4.46" height="4.44" fill="#ffe4e4"/><rect x="378.26" y="46.91" width="4.46" height="4.44" fill="#ffe5e5"/><rect x="382.12" y="46.91" width="4.46" height="4.44" fill="#ffe6e6"/><rect x="385.99" y="46.91" width="43.11" height="4.44" fill="#ffe7e7"/><rect x="243.00" y="50.75" width="31.52" height="4.44" fill="#ffe7e7"/><rect x="273.92" y="50.75" width="8.33" height="4.44" fill="#ffe6e6"/><rect x="281.65" y="50.75" width="4.46" height="4.44" fill="#ffe5e5"/><rect x="285.51" y="50.75" width="4.46" height="4.44" fill="#ffe3e3"/><rect x="289.38" y="50.75" width="4.46" height="4.44" fill="#ffe1e1"/><rect x="293.24" y="50.75" width="4.46" height="4.44" fill="#ffdede"/><rect x="297.10" y="50.75" width="4.46" height="4.44" fill="#ffdada"/><rect x="300.97" y="50.75" width="4.46" height="4.44" fill="#ffd6d6"/><rect x="304.83" y="50.75" width="4.46" height="4.44" fill="#ffd0d0"/><rect x="308.70" y="50.75" width="4.46" height="4.44" fill="#ffcaca"/><rect x="312.56" y="50.75" width="4.46" height="4.44" fill="#ffc4c4"/><rect x="316.43" y="50.75" width="4.46" height="4.44" fill="#ffbdbd"/><rect x="320.29" y="50.75" width="4.46" height="4.44" fill="#ffb8b8"/><rect x="324.16" y="50.75" width="4.46" height="4.44" fill="#ffb4b4"/><rect x="328.02" y="50.75" width="4.46" height="4.44" fill="#ffb1b1"/><rect x="331.89" y="50.75" width="4.46" height="4.44" fill="#ffb0b0"/><rect x="335.75" y="50.75" width="4.46" height="4.44" fill="#ffb1b1"/><rect x="339.61" y="50.75" width="4.46" height="4.44" fill="#ffb4b4"/><rect x="343.48" y="50.75" width="4.46" height="4.44" fill="#ffb9b9"/><rect x="347.34" y="50.75" width="4.46" height="4.44" fill="#ffbebe"/><rect x="351.21" y="50.75" width="4.46" height="4.44" fill="#ffc4c4"/><rect x="355.07" y="50.75" width="4.46" height="4.44" fill="#ffcbcb"/><rect x="358.94" y="50.75" width="4.46" height="4.44" fill="#ffd1d1"/><rect x="362.80" y="50.75" width="4.46" height="4.44" fill="#ffd6d6"/><rect x="366.67" y="50.75" width="4.46" height="4.44" fill="#ffdbdb"/><rect x="370.53" y="50.75" width="4.46" height="4.44" fill="#ffdfdf"/><rect x="374.40" y="50.75" width="4.46" height="4.44" fill="#ffe2e2"/><rect x="378.26" y="50.75" width="4.46" height="4.44" fill="#ffe4e4"/><rect x="382.12" y="50.75" width="4.46" height="4.44" fill="#ffe5e5"/><rect x="385.99" y="50.75" width="4.46" height="4.44" fill="#ffe6e6"/><rect x="389.85" y="50.75" width="39.25" height="4.44" fill="#ffe7e7"/><rect x="243.00" y="54.59" width="27.65" height="4.44" fill="#ffe7e7"/><rect x="270.05" y="54.59" width="8.33" height="4.44" fill="#ffe6e6"/><rect x="277.78" y="54.59" width="4.46" height="4.44" fill="#ffe5e5"/><rect x="281.65" y="54.59" width="4.46" height="4.44" fill="#ffe4e4"/><rect x="285.51" y="54.59" width="4.46" height="4.44" fill="#ffe2e2"/><rect x="289.38" y="54.59" width="4.46" height="4.44" fill="#ffdfdf"/><rect x="293.24" y="54.59" width="4.46" height="4.44" fill="#ffdbdb"/><rect x="297.10" y="54.59" width="4.46" height="4.44" fill="#ffd7d7"/><rect x="300.97" y="54.59" width="4.46" height="4.44" fill="#ffd1d1"/><rect x="304.83" y="54.59" width="4.46" height="4.44" fill="#ffcaca"/><rect x="308.70" y="54.59" width="4.46" height="4.44" fill="#ffc2c2"/><rect x="312.56" y="54.59" width="4.46" height="4.44" fill="#ffbbbb"/><rect x="316.43" y="54.59" width="4.46" height="4.44" fill="#ffb3b3"/><rect x="320.29" y="54.59" width="4.46" height="4.44" fill="#ffacac"/><rect x="324.16" y="54.59" width="4.46" height="4.44" fill="#ffa7a7"/><rect x="328.02" y="54.59" width="4.46" height="4.44" fill="#ffa3a3"/><rect x="331.89" y="54.59" width="4.46" height="4.44" fill="#ffa2a2"/><rect x="335.75" y="54.59" width="4.46" height="4.44" fill="#ffa4a4"/><rect x="339.61" y="54.59" width="4.46" height="4.44" fill="#ffa7a7"/><rect x="343.48" y="54.59" width="4.46" height="4.44" fill="#ffadad"/><rect x="347.34" y="54.59" width="4.46" height="4.44" fill="#ffb4b4"/><rect x="351.21" y="54.59" width="4.46" height="4.44" fill="#ffbbbb"/><rect x="355.07" y="54.59" width="4.46" height="4.44" fill="#ffc3c3"/><rect x="358.94" y="54.59" width="4.46" height="4.44" fill="#ffcbcb"/><rect x="362.80" y="54.59" width="4.46" height="4.44" fill="#ffd2d2"/><rect x="366.67" y="54.59" width="4.46" height="4.44" fill="#ffd8d8"/><rect x="370.53" y="54.59" width="4.46" height="4.44" fill="#ffdcdc"/><rect x="374.40" y="54.59" width="4.46" height="4.44" fill="#ffe0e0"/><rect x="378.26" y="54.59" width="4.46" height="4.44" fill="#ffe3e3"/><rect x="382.12" y="54.59" width="4.46" height="4.44" fill="#ffe4e4"/><rect x="385.99" y="54.59" width="8.33" height="4.44" fill="#ffe6e6"/><rect x="393.72" y="54.59" width="35.38" height="4.44" fill="#ffe7e7"/><rect x="243.00" y="58.44" width="19.92" height="4.44" fill="#ffe7e7"/><rect x="262.32" y="58.44" width="12.19" height="4.44" fill="#ffe6e6"/><rect x="273.92" y="58.44" width="4.46" height="4.44" fill="#ffe5e5"/><rect x="277.78" y="58.44" width="4.46" height="4.44" fill="#ffe4e4"/><rect x="281.65" y="58.44" width="4.46" height="4.44" fill="#ffe3e3"/><rect x="285.51" y="58.44" width="4.46" height="4.44" fill="#ffe1e1"/><rect x="289.38" y="58.44" width="4.46" height="4.44" fill="#ffdddd"/><rect x="293.24" y="58.44" width="4.46" height="4.44" fill="#ffd9d9"/><rect x="297.10" y="58.44" width="4.46" height="4.44" fill="#ffd3d3"/><rect x="300.97" y="58.44" width="4.46" height="4.44" fill="#ffcccc"/><rect x="304.83" y="58.44" width="4.46" height="4.44" fill="#ffc4c4"/><rect x="308.70" y="58.44" width="4.46" height="4.44" fill="#ffbbbb"/><rect x="312.56" y="58.44" width="4.46" height="4.44" fill="#ffb2b2"/><rect x="316.43" y="58.44" width="4.46" height="4.44" fill="#ffa9a9"/><rect x="320.29" y="58.44" width="4.46" height="4.44" fill="#ffa0a0"/><rect x="324.16" y="58.44" width="4.46" height="4.44" fill="#ff9a9a"/><rect x="328.02" y="58.44" width="4.46" height="4.44" fill="#ff9595"/><rect x="331.89" y="58.44" width="4.46" height="4.44" fill="#ff9494"/><rect x="335.75" y="58.44" width="4.46" height="4.44" fill="#ff9696"/><rect x="339.61" y="58.44" width="4.46" height="4.44" fill="#ff9a9a"/><rect x="343.48" y="58.44" width="4.46" height="4.44" fill="#ffa1a1"/><rect x="347.34" y="58.44" width="4.46" height="4.44" fill="#ffa9a9"/><rect x="351.21" y="58.44" width="4.46" height="4.44" fill="#ffb3b3"/><rect x="355.07" y="58.44" width="4.46" height="4.44" fill="#ffbcbc"/><rect x="358.94" y="58.44" width="4.46" height="4.44" fill="#ffc5c5"/><rect x="362.80" y="58.44" width="4.46" height="4.44" fill="#ffcdcd"/><rect x="366.67" y="58.44" width="4.46" height="4.44" fill="#ffd4d4"/><rect x="370.53" y="58.44" width="4.46" height="4.44" fill="#ffdada"/><rect x="374.40" y="58.44" width="4.46" height="4.44" fill="#ffdede"/><rect x="378.26" y="58.44" width="4.46" height="4.44" fill="#ffe1e1"/><rect x="382.12" y="58.44" width="4.46" height="4.44" fill="#ffe3e3"/><rect x="385.99" y="58.44" width="4.46" height="4.44" fill="#ffe5e5"/><rect x="389.85" y="58.44" width="8.33" height="4.44" fill="#ffe6e6"/><rect x="397.58" y="58.44" width="31.52" height="4.44" fill="#ffe7e7"/><rect x="243.00" y="62.28" width="27.65" height="4.44" fill="#ffdede"/><rect x="270.05" y="62.28" width="8.33" height="4.44" fill="#ffdddd"/><rect x="277.78" y="62.28" width="4.46" height="4.44" fill="#ffdcdc"/><rect x="281.65" y="62.28" width="4.46" height="4.44" fill="#ffdada"/><rect x="285.51" y="62.28" width="4.46" height="4.44" fill="#ffd7d7"/><rect x="289.38" y="62.28" width="4.46" height="4.44" fill="#ffd3d3"/><rect x="293.24" y="62.28" width="4.46" height="4.44" fill="#ffcdcd"/><rect x="297.10" y="62.28" width="4.46" height="4.44" fill="#ffc5c5"/><rect x="300.97" y="62.28" width="4.46" height="4.44" fill="#ffbaba"/><rect x="304.83" y="62.28" width="4.46" height="4.44" fill="#ffacac"/><rect x="308.70" y="62.28" width="4.46" height="4.44" fill="#ff9a9a"/><rect x="312.56" y="62.28" width="4.46" height="4.44" fill="#ff8484"/><rect x="316.43" y="62.28" width="4.46" height="4.44" fill="#ff6e6e"/><rect x="320.29" y="62.28" width="4.46" height="4.44" fill="#ff5757"/><rect x="324.16" y="62.28" width="4.46" height="4.44" fill="#ff4444"/><rect x="328.02" y="62.28" width="4.46" height="4.44" fill="#ff3737"/><rect x="331.89" y="62.28" width="4.46" height="4.44" fill="#ff3333"/><rect x="335.75" y="62.28" width="4.46" height="4.44" fill="#ff3737"/><rect x="339.61" y="62.28" width="4.46" height="4.44" fill="#ff4444"/><rect x="343.48" y="62.28" width="4.46" height="4.44" fill="#ff5858"/><rect x="347.34" y="62.28" width="4.46" height="4.44" fill="#ff6e6e"/><rect x="351.21" y="62.28" width="4.46" height="4.44" fill="#ff8585"/><rect x="355.07" y="62.28" width="4.46" height="4.44" fill="#ff9b9b"/><rect x="358.94" y="62.28" width="4.46" height="4.44" fill="#ffadad"/><rect x="362.80" y="62.28" width="4.46" height="4.44" fill="#ffbbbb"/><rect x="366.67" y="62.28" width="4.46" height="4.44" fill="#ffc6c6"/><rect x="370.53" y="62.28" width="4.46" height="4.44" fill="#ffcece"/><rect x="374.40" y="62.28" width="4.46" height="4.44" fill="#ffd4d4"/><rect x="378.26" y="62.28" width="4.46" height="4.44" fill="#ffd8d8"/><rect x="382.12" y="62.28" width="4.46" height="4.44" fill="#ffdada"/><rect x="385.99" y="62.28" width="4.46" height="4.44" fill="#ffdcdc"/><rect x="389.85" y="62.28" width="4.46" height="4.44" fill="#ffdddd"/><rect x="393.72" y="62.28" width="35.38" height="4.44" fill="#ffdede"/><rect x="243.00" y="66.12" width="31.52" height="4.44" fill="#ffd3d3"/><rect x="273.92" y="66.12" width="4.46" height="4.44" fill="#ffd2d2"/><rect x="277.78" y="66.12" width="4.46" height="4.44" fill="#ffd1d1"/><rect x="281.65" y="66.12" width="4.46" height="4.44" fill="#ffcfcf"/><rect x="285.51" y="66.12" width="4.46" height="4.44" fill="#ffcccc"/><rect x="289.38" y="66.12" width="4.46" height="4.44" fill="#ffc7c7"/><rect x="293.24" y="66.12" width="4.46" height="4.44" fill="#ffc0c0"/><rect x="297.10" y="66.12" width="4.46" height="4.44" fill="#ffb5b5"/><rect x="300.97" y="66.12" width="4.46" height="4.44" fill="#ffa6a6"/><rect x="304.83" y="66.12" width="4.46" height="4.44" fill="#ff9090"/><rect x="308.70" y="66.12" width="4.46" height="4.44" fill="#ff7474"/><rect x="312.56" y="66.12" width="4.46" height="4.44" fill="#ff5252"/><rect x="316.43" y="66.12" width="4.46" height="4.44" fill="#ff2b2b"/><rect x="320.29" y="66.12" width="4.46" height="4.44" fill="#ff0404"/><rect x="324.16" y="66.12" width="19.92" height="4.44" fill="#ff0000"/><rect x="343.48" y="66.12" width="4.46" height="4.44" fill="#ff0404"/><rect x="347.34" y="66.12" width="4.46" height="4.44" fill="#ff2c2c"/><rect x="351.21" y="66.12" width="4.46" height="4.44" fill="#ff5353"/><rect x="355.07" y="66.12" width="4.46" height="4.44" fill="#ff7575"/><rect x="358.94" y="66.12" width="4.46" height="4.44" fill="#ff9292"/><rect x="362.80" y="66.12" width="4.46" height="4.44" fill="#ffa7a7"/><rect x="366.67" y="66.12" width="4.46" height="4.44" fill="#ffb6b6"/><rect x="370.53" y="66.12" width="4.46" height="4.44" fill="#ffc1c1"/><rect x="374.40" y="66.12" width="4.46" height="4.44" fill="#ffc8c8"/><rect x="378.26" y="66.12" width="4.46" height="4.44" fill="#ffcdcd"/><rect x="382.12" y="66.12" width="4.46" height="4.44" fill="#ffd0d0"/><rect x="385.99" y="66.12" width="4.46" height="4.44" fill="#ffd1d1"/><rect x="389.85" y="66.12" width="4.46" height="4.44" fill="#ffd2d2"/><rect x="393.72" y="66.12" width="12.19" height="4.44" fill="#ffd3d3"/><rect x="405.31" y="66.12" width="8.33" height="4.44" fill="#ffd4d4"/><rect x="413.04" y="66.12" width="16.06" height="4.44" fill="#ffd3d3"/><rect x="243.00" y="69.97" width="19.92" height="4.44" fill="#ffe4e4"/><rect x="262.32" y="69.97" width="12.19" height="4.44" fill="#ffe3e3"/><rect x="273.92" y="69.97" width="4.46" height="4.44" fill="#ffe2e2"/><rect x="277.78" y="69.97" width="4.46" height="4.44" fill="#ffe1e1"/><rect x="281.65" y="69.97" width="4.46" height="4.44" fill="#ffe0e0"/><rect x="285.51" y="69.97" width="4.46" height="4.44" fill="#ffdddd"/><rect x="289.38" y="69.97" width="4.46" height="4.44" fill="#ffdada"/><rect x="293.24" y="69.97" width="4.46" height="4.44" fill="#ffd5d5"/><rect x="297.10" y="69.97" width="4.46" height="4.44" fill="#ffcfcf"/><rect x="300.97" y="69.97" width="4.46" height="4.44" fill="#ffc6c6"/><rect x="304.83" y="69.97" width="4.46" height="4.44" fill="#ffbcbc"/><rect x="308.70" y="69.97" width="4.46" height="4.44" fill="#ffb0b0"/><rect x="312.56" y="69.97" width="4.46" height="4.44" fill="#ffa2a2"/><rect x="316.43" y="69.97" width="4.46" height="4.44" fill="#ff9595"/><rect x="320.29" y="69.97" width="4.46" height="4.44" fill="#ff8787"/><rect x="324.16" y="69.97" width="4.46" height="4.44" fill="#ff7c7c"/><rect x="328.02" y="69.97" width="4.46" height="4.44" fill="#ff7575"/><rect x="331.89" y="69.97" width="4.46" height="4.44" fill="#ff7373"/><rect x="335.75" y="69.97" width="4.46" height="4.44" fill="#ff7575"/><rect x="339.61" y="69.97" width="4.46" height="4.44" fill="#ff7d7d"/><rect x="343.48" y="69.97" width="4.46" height="4.44" fill="#ff8888"/><rect x="347.34" y="69.97" width="4.46" height="4.44" fill="#ff9595"/><rect x="351.21" y="69.97" width="4.46" height="4.44" fill="#ffa3a3"/><rect x="355.07" y="69.97" width="4.46" height="4.44" fill="#ffb1b1"/><rect x="358.94" y="69.97" width="4.46" height="4.44" fill="#ffbdbd"/><rect x="362.80" y="69.97" width="4.46" height="4.44" fill="#ffc7c7"/><rect x="366.67" y="69.97" width="4.46" height="4.44" fill="#ffcfcf"/><rect x="370.53" y="69.97" width="4.46" height="4.44" fill="#ffd6d6"/><rect x="374.40" y="69.97" width="4.46" height="4.44" fill="#ffdbdb"/><rect x="378.26" y="69.97" width="4.46" height="4.44" fill="#ffdede"/><rect x="382.12" y="69.97" width="4.46" height="4.44" fill="#ffe0e0"/><rect x="385.99" y="69.97" width="4.46" height="4.44" fill="#ffe2e2"/><rect x="389.85" y="69.97" width="8.33" height="4.44" fill="#ffe3e3"/><rect x="397.58" y="69.97" width="31.52" height="4.44" fill="#ffe4e4"/><rect x="243.00" y="73.81" width="27.65" height="4.44" fill="#ffe7e7"/><rect x="270.05" y="73.81" width="8.33" height="4.44" fill="#ffe6e6"/><rect x="277.78" y="73.81" width="4.46" height="4.44" fill="#ffe5e5"/><rect x="281.65" y="73.81" width="4.46" height="4.44" fill="#ffe4e4"/><rect x="285.51" y="73.81" width="4.46" height="4.44" fill="#ffe2e2"/><rect x="289.38" y="73.81" width="4.46" height="4.44" fill="#ffdfdf"/><rect x="293.24" y="73.81" width="4.46" height="4.44" fill="#ffdbdb"/><rect x="297.10" y="73.81" width="4.46" height="4.44" fill="#ffd6d6"/><rect x="300.97" y="73.81" width="4.46" height="4.44" fill="#ffd0d0"/><rect x="304.83" y="73.81" width="4.46" height="4.44" fill="#ffc9c9"/><rect x="308.70" y="73.81" width="4.46" height="4.44" fill="#ffc1c1"/><rect x="312.56" y="73.81" width="4.46" height="4.44" fill="#ffb9b9"/><rect x="316.43" y="73.81" width="4.46" height="4.44" fill="#ffb1b1"/><rect x="320.29" y="73.81" width="4.46" height="4.44" fill="#ffaaaa"/><rect x="324.16" y="73.81" width="4.46" height="4.44" fill="#ffa4a4"/><rect x="328.02" y="73.81" width="4.46" height="4.44" fill="#ffa1a1"/><rect x="331.89" y="73.81" width="4.46" height="4.44" fill="#ffa0a0"/><rect x="335.75" y="73.81" width="4.46" height="4.44" fill="#ffa1a1"/><rect x="339.61" y="73.81" width="4.46" height="4.44" fill="#ffa5a5"/><rect x="343.48" y="73.81" width="4.46" height="4.44" fill="#ffaaaa"/><rect x="347.34" y="73.81" width="4.46" height="4.44" fill="#ffb2b2"/><rect x="351.21" y="73.81" width="4.46" height="4.44" fill="#ffbaba"/><rect x="355.07" y="73.81" width="4.46" height="4.44" fill="#ffc2c2"/><rect x="358.94" y="73.81" width="4.46" height="4.44" fill="#ffcaca"/><rect x="362.80" y="73.81" width="4.46" height="4.44" fill="#ffd1d1"/><rect x="366.67" y="73.81" width="4.46" height="4.44" fill="#ffd7d7"/><rect x="370.53" y="73.81" width="4.46" height="4.44" fill="#ffdcdc"/><rect x="374.40" y="73.81" width="4.46" height="4.44" fill="#ffe0e0"/><rect x="378.26" y="73.81" width="4.46" height="4.44" fill="#ffe2e2"/><rect x="382.12" y="73.81" width="4.46" height="4.44" fill="#ffe4e4"/><rect x="385.99" y="73.81" width="4.46" height="4.44" fill="#ffe5e5"/><rect x="389.85" y="73.81" width="4.46" height="4.44" fill="#ffe6e6"/><rect x="393.72" y="73.81" width="35.38" height="4.44" fill="#ffe7e7"/><rect x="243.00" y="77.66" width="31.52" height="4.44" fill="#ffe7e7"/><rect x="273.92" y="77.66" width="8.33" height="4.44" fill="#ffe6e6"/><rect x="281.65" y="77.66" width="4.46" height="4.44" fill="#ffe5e5"/><rect x="285.51" y="77.66" width="4.46" height="4.44" fill="#ffe3e3"/><rect x="289.38" y="77.66" width="4.46" height="4.44" fill="#ffe1e1"/><rect x="293.24" y="77.66" width="4.46" height="4.44" fill="#ffdede"/><rect x="297.10" y="77.66" width="4.46" height="4.44" fill="#ffdada"/><rect x="300.97" y="77.66" width="4.46" height="4.44" fill="#ffd5d5"/><rect x="304.83" y="77.66" width="4.46" height="4.44" fill="#ffcfcf"/><rect x="308.70" y="77.66" width="4.46" height="4.44" fill="#ffc8c8"/><rect x="312.56" y="77.66" width="4.46" height="4.44" fill="#ffc2c2"/><rect x="316.43" y="77.66" width="4.46" height="4.44" fill="#ffbbbb"/><rect x="320.29" y="77.66" width="4.46" height="4.44" fill="#ffb6b6"/><rect x="324.16" y="77.66" width="4.46" height="4.44" fill="#ffb1b1"/><rect x="328.02" y="77.66" width="4.46" height="4.44" fill="#ffaeae"/><rect x="331.89" y="77.66" width="4.46" height="4.44" fill="#ffadad"/><rect x="335.75" y="77.66" width="4.46" height="4.44" fill="#ffaeae"/><rect x="339.61" y="77.66" width="4.46" height="4.44" fill="#ffb2b2"/><rect x="343.48" y="77.66" width="4.46" height="4.44" fill="#ffb6b6"/><rect x="347.34" y="77.66" width="4.46" height="4.44" fill="#ffbcbc"/><rect x="351.21" y="77.66" width="4.46" height="4.44" fill="#ffc3c3"/><rect x="355.07" y="77.66" width="4.46" height="4.44" fill="#ffc9c9"/><rect x="358.94" y="77.66" width="4.46" height="4.44" fill="#ffd0d0"/><rect x="362.80" y="77.66" width="4.46" height="4.44" fill="#ffd5d5"/><rect x="366.67" y="77.66" width="4.46" height="4.44" fill="#ffdada"/><rect x="370.53" y="77.66" width="4.46" height="4.44" fill="#ffdede"/><rect x="374.40" y="77.66" width="4.46" height="4.44" fill="#ffe1e1"/><rect x="378.26" y="77.66" width="4.46" height="4.44" fill="#ffe4e4"/><rect x="382.12" y="77.66" width="4.46" height="4.44" fill="#ffe5e5"/><rect x="385.99" y="77.66" width="4.46" height="4.44" fill="#ffe6e6"/><rect x="389.85" y="77.66" width="39.25" height="4.44" fill="#ffe7e7"/><rect x="243.00" y="81.50" width="35.38" height="4.44" fill="#ffe7e7"/><rect x="277.78" y="81.50" width="4.46" height="4.44" fill="#ffe6e6"/><rect x="281.65" y="81.50" width="4.46" height="4.44" fill="#ffe5e5"/><rect x="285.51" y="81.50" width="4.46" height="4.44" fill="#ffe4e4"/><rect x="289.38" y="81.50" width="4.46" height="4.44" fill="#ffe3e3"/><rect x="293.24" y="81.50" width="4.46" height="4.44" fill="#ffe0e0"/><rect x="297.10" y="81.50" width="4.46" height="4.44" fill="#ffdddd"/><rect x="300.97" y="81.50" width="4.46" height="4.44" fill="#ffdada"/><rect x="304.83" y="81.50" width="4.46" height="4.44" fill="#ffd5d5"/><rect x="308.70" y="81.50" width="4.46" height="4.44" fill="#ffd0d0"/><rect x="312.56" y="81.50" width="4.46" height="4.44" fill="#ffcbcb"/><rect x="316.43" y="81.50" width="4.46" height="4.44" fill="#ffc7c7"/><rect x="320.29" y="81.50" width="4.46" height="4.44" fill="#ffc2c2"/><rect x="324.16" y="81.50" width="4.46" height="4.44" fill="#ffbfbf"/><rect x="328.02" y="81.50" width="4.46" height="4.44" fill="#ffbdbd"/><rect x="331.89" y="81.50" width="4.46" height="4.44" fill="#ffbcbc"/><rect x="335.75" y="81.50" width="4.46" height="4.44" fill="#ffbdbd"/><rect x="339.61" y="81.50" width="4.46" height="4.44" fill="#ffbfbf"/><rect x="343.48" y="81.50" width="4.46" height="4.44" fill="#ffc3c3"/><rect x="347.34" y="81.50" width="4.46" height="4.44" fill="#ffc7c7"/><rect x="351.21" y="81.50" width="4.46" height="4.44" fill="#ffcccc"/><rect x="355.07" y="81.50" width="4.46" height="4.44" fill="#ffd1d1"/><rect x="358.94" y="81.50" width="4.46" height="4.44" fill="#ffd6d6"/><rect x="362.80" y="81.50" width="4.46" height="4.44" fill="#ffdada"/><rect x="366.67" y="81.50" width="4.46" height="4.44" fill="#ffdede"/><rect x="370.53" y="81.50" width="4.46" height="4.44" fill="#ffe1e1"/><rect x="374.40" y="81.50" width="4.46" height="4.44" fill="#ffe3e3"/><rect x="378.26" y="81.50" width="4.46" height="4.44" fill="#ffe5e5"/><rect x="382.12" y="81.50" width="4.46" height="4.44" fill="#ffe6e6"/><rect x="385.99" y="81.50" width="43.11" height="4.44" fill="#ffe7e7"/><rect x="243.00" y="85.34" width="39.25" height="4.44" fill="#ffe7e7"/><rect x="281.65" y="85.34" width="8.33" height="4.44" fill="#ffe6e6"/><rect x="289.38" y="85.34" width="4.46" height="4.44" fill="#ffe4e4"/><rect x="293.24" y="85.34" width="4.46" height="4.44" fill="#ffe3e3"/><rect x="297.10" y="85.34" width="4.46" height="4.44" fill="#ffe1e1"/><rect x="300.97" y="85.34" width="4.46" height="4.44" fill="#ffdede"/><rect x="304.83" y="85.34" width="4.46" height="4.44" fill="#ffdbdb"/><rect x="308.70" y="85.34" width="4.46" height="4.44" fill="#ffd8d8"/><rect x="312.56" y="85.34" width="4.46" height="4.44" fill="#ffd5d5"/><rect x="316.43" y="85.34" width="4.46" height="4.44" fill="#ffd1d1"/><rect x="320.29" y="85.34" width="4.46" height="4.44" fill="#ffcece"/><rect x="324.16" y="85.34" width="4.46" height="4.44" fill="#ffcccc"/><rect x="328.02" y="85.34" width="12.19" height="4.44" fill="#ffcaca"/><rect x="339.61" y="85.34" width="4.46" height="4.44" fill="#ffcccc"/><rect x="343.48" y="85.34" width="4.46" height="4.44" fill="#ffcfcf"/><rect x="347.34" y="85.34" width="4.46" height="4.44" fill="#ffd2d2"/><rect x="351.21" y="85.34" width="4.46" height="4.44" fill="#ffd5d5"/><rect x="355.07" y="85.34" width="4.46" height="4.44" fill="#ffd9d9"/><rect x="358.94" y="85.34" width="4.46" height="4.44" fill="#ffdcdc"/><rect x="362.80" y="85.34" width="4.46" height="4.44" fill="#ffdfdf"/><rect x="366.67" y="85.34" width="4.46" height="4.44" fill="#ffe2e2"/><rect x="370.53" y="85.34" width="4.46" height="4.44" fill="#ffe4e4"/><rect x="374.40" y="85.34" width="4.46" height="4.44" fill="#ffe5e5"/><rect x="378.26" y="85.34" width="4.46" height="4.44" fill="#ffe6e6"/><rect x="382.12" y="85.34" width="46.98" height="4.44" fill="#ffe7e7"/><rect x="243.00" y="89.19" width="46.98" height="4.44" fill="#ffe7e7"/><rect x="289.38" y="89.19" width="4.46" height="4.44" fill="#ffe6e6"/><rect x="293.24" y="89.19" width="4.46" height="4.44" fill="#ffe5e5"/><rect x="297.10" y="89.19" width="4.46" height="4.44" fill="#ffe4e4"/><rect x="300.97" y="89.19" width="4.46" height="4.44" fill="#ffe3e3"/><rect x="304.83" y="89.19" width="4.46" height="4.44" fill="#ffe1e1"/><rect x="308.70" y="89.19" width="4.46" height="4.44" fill="#ffdfdf"/><rect x="312.56" y="89.19" width="4.46" height="4.44" fill="#ffdddd"/><rect x="316.43" y="89.19" width="4.46" height="4.44" fill="#ffdada"/><rect x="320.29" y="89.19" width="4.46" height="4.44" fill="#ffd9d9"/><rect x="324.16" y="89.19" width="4.46" height="4.44" fill="#ffd7d7"/><rect x="328.02" y="89.19" width="12.19" height="4.44" fill="#ffd6d6"/><rect x="339.61" y="89.19" width="4.46" height="4.44" fill="#ffd7d7"/><rect x="343.48" y="89.19" width="4.46" height="4.44" fill="#ffd9d9"/><rect x="347.34" y="89.19" width="4.46" height="4.44" fill="#ffdbdb"/><rect x="351.21" y="89.19" width="4.46" height="4.44" fill="#ffdddd"/><rect x="355.07" y="89.19" width="4.46" height="4.44" fill="#ffe0e0"/><rect x="358.94" y="89.19" width="4.46" height="4.44" fill="#ffe2e2"/><rect x="362.80" y="89.19" width="4.46" height="4.44" fill="#ffe3e3"/><rect x="366.67" y="89.19" width="4.46" height="4.44" fill="#ffe5e5"/><rect x="370.53" y="89.19" width="4.46" height="4.44" fill="#ffe6e6"/><rect x="374.40" y="89.19" width="8.33" height="4.44" fill="#ffe7e7"/><rect x="382.12" y="89.19" width="12.19" height="4.44" fill="#ffe8e8"/><rect x="393.72" y="89.19" width="35.38" height="4.44" fill="#ffe7e7"/><rect x="243.00" y="93.03" width="19.92" height="4.44" fill="#ffe6e6"/><rect x="262.32" y="93.03" width="35.38" height="4.44" fill="#ffe7e7"/><rect x="297.10" y="93.03" width="4.46" height="4.44" fill="#ffe6e6"/><rect x="300.97" y="93.03" width="4.46" height="4.44" fill="#ffe5e5"/><rect x="304.83" y="93.03" width="4.46" height="4.44" fill="#ffe4e4"/><rect x="308.70" y="93.03" width="4.46" height="4.44" fill="#ffe3e3"/><rect x="312.56" y="93.03" width="4.46" height="4.44" fill="#ffe2e2"/><rect x="316.43" y="93.03" width="4.46" height="4.44" fill="#ffe1e1"/><rect x="320.29" y="93.03" width="4.46" height="4.44" fill="#ffe0e0"/><rect x="324.16" y="93.03" width="16.06" height="4.44" fill="#ffdfdf"/><rect x="339.61" y="93.03" width="4.46" height="4.44" fill="#ffe0e0"/><rect x="343.48" y="93.03" width="4.46" height="4.44" fill="#ffe1e1"/><rect x="347.34" y="93.03" width="4.46" height="4.44" fill="#ffe2e2"/><rect x="351.21" y="93.03" width="4.46" height="4.44" fill="#ffe3e3"/><rect x="355.07" y="93.03" width="4.46" height="4.44" fill="#ffe4e4"/><rect x="358.94" y="93.03" width="4.46" height="4.44" fill="#ffe5e5"/><rect x="362.80" y="93.03" width="4.46" height="4.44" fill="#ffe6e6"/><rect x="366.67" y="93.03" width="12.19" height="4.44" fill="#ffe7e7"/><rect x="378.26" y="93.03" width="8.33" height="4.44" fill="#ffe8e8"/><rect x="385.99" y="93.03" width="23.79" height="4.44" fill="#ffe7e7"/><rect x="409.18" y="93.03" width="19.92" height="4.44" fill="#ffe6e6"/><rect x="243.00" y="96.88" width="19.92" height="4.44" fill="#ffdfdf"/><rect x="262.32" y="96.88" width="23.79" height="4.44" fill="#ffe0e0"/><rect x="285.51" y="96.88" width="19.92" height="4.44" fill="#ffe1e1"/><rect x="304.83" y="96.88" width="12.19" height="4.44" fill="#ffe0e0"/><rect x="316.43" y="96.88" width="27.65" height="4.44" fill="#ffdfdf"/><rect x="343.48" y="96.88" width="12.19" height="4.44" fill="#ffe0e0"/><rect x="355.07" y="96.88" width="12.19" height="4.44" fill="#ffe1e1"/><rect x="366.67" y="96.88" width="8.33" height="4.44" fill="#ffe2e2"/><rect x="374.40" y="96.88" width="16.06" height="4.44" fill="#ffe1e1"/><rect x="389.85" y="96.88" width="19.92" height="4.44" fill="#ffe0e0"/><rect x="409.18" y="96.88" width="19.92" height="4.44" fill="#ffdfdf"/><rect x="243.00" y="100.72" width="35.38" height="4.44" fill="#ffeaea"/><rect x="277.78" y="100.72" width="19.92" height="4.44" fill="#ffebeb"/><rect x="297.10" y="100.72" width="50.84" height="4.44" fill="#ffecec"/><rect x="347.34" y="100.72" width="19.92" height="4.44" fill="#ffeded"/><rect x="366.67" y="100.72" width="16.06" height="4.44" fill="#ffecec"/><rect x="382.12" y="100.72" width="12.19" height="4.44" fill="#ffebeb"/><rect x="393.72" y="100.72" width="35.38" height="4.44" fill="#ffeaea"/><rect x="243.00" y="104.56" width="43.11" height="4.44" fill="#fff5f5"/><rect x="285.51" y="104.56" width="104.94" height="4.44" fill="#fff6f6"/><rect x="389.85" y="104.56" width="39.25" height="4.44" fill="#fff5f5"/><rect x="243.00" y="108.41" width="58.57" height="4.44" fill="#ffffff"/><rect x="300.97" y="108.41" width="23.79" height="4.44" fill="#fffefe"/><rect x="324.16" y="108.41" width="19.92" height="4.44" fill="#fffdfd"/><rect x="343.48" y="108.41" width="23.79" height="4.44" fill="#fffefe"/><rect x="366.67" y="108.41" width="62.43" height="4.44" fill="#ffffff"/><rect x="243.00" y="112.25" width="186.10" height="4.44" fill="#ffffff"/><rect x="243.00" y="116.09" width="186.10" height="4.44" fill="#fafaff"/><rect x="243.00" y="119.94" width="186.10" height="4.44" fill="#f2f2ff"/><rect x="243.00" y="123.78" width="186.10" height="4.44" fill="#f0f0ff"/><rect x="243.00" y="127.62" width="62.43" height="4.44" fill="#f0f0ff"/><rect x="304.83" y="127.62" width="62.43" height="4.44" fill="#efefff"/><rect x="366.67" y="127.62" width="62.43" height="4.44" fill="#f0f0ff"/><rect x="243.00" y="131.47" width="39.25" height="4.44" fill="#f0f0ff"/><rect x="281.65" y="131.47" width="27.65" height="4.44" fill="#efefff"/><rect x="308.70" y="131.47" width="8.33" height="4.44" fill="#eeeeff"/><rect x="316.43" y="131.47" width="12.19" height="4.44" fill="#ededff"/><rect x="328.02" y="131.47" width="16.06" height="4.44" fill="#ececff"/><rect x="343.48" y="131.47" width="12.19" height="4.44" fill="#ededff"/><rect x="355.07" y="131.47" width="8.33" height="4.44" fill="#eeeeff"/><rect x="362.80" y="131.47" width="27.65" height="4.44" fill="#efefff"/><rect x="389.85" y="131.47" width="39.25" height="4.44" fill="#f0f0ff"/><rect x="243.00" y="135.31" width="35.38" height="4.44" fill="#ebebff"/><rect x="277.78" y="135.31" width="12.19" height="4.44" fill="#eaeaff"/><rect x="289.38" y="135.31" width="4.46" height="4.44" fill="#e9e9ff"/><rect x="293.24" y="135.31" width="4.46" height="4.44" fill="#e8e8ff"/><rect x="297.10" y="135.31" width="4.46" height="4.44" fill="#e7e7ff"/><rect x="300.97" y="135.31" width="4.46" height="4.44" fill="#e6e6ff"/><rect x="304.83" y="135.31" width="4.46" height="4.44" fill="#e4e4ff"/><rect x="308.70" y="135.31" width="4.46" height="4.44" fill="#e3e3ff"/><rect x="312.56" y="135.31" width="4.46" height="4.44" fill="#e0e0ff"/><rect x="316.43" y="135.31" width="4.46" height="4.44" fill="#dedeff"/><rect x="320.29" y="135.31" width="4.46" height="4.44" fill="#dcdcff"/><rect x="324.16" y="135.31" width="4.46" height="4.44" fill="#dbdbff"/><rect x="328.02" y="135.31" width="16.06" height="4.44" fill="#d9d9ff"/><rect x="343.48" y="135.31" width="4.46" height="4.44" fill="#dbdbff"/><rect x="347.34" y="135.31" width="4.46" height="4.44" fill="#dcdcff"/><rect x="351.21" y="135.31" width="4.46" height="4.44" fill="#dedeff"/><rect x="355.07" y="135.31" width="4.46" height="4.44" fill="#e0e0ff"/><rect x="358.94" y="135.31" width="4.46" height="4.44" fill="#e3e3ff"/><rect x="362.80" y="135.31" width="4.46" height="4.44" fill="#e4e4ff"/><rect x="366.67" y="135.31" width="4.46" height="4.44" fill="#e6e6ff"/><rect x="370.53" y="135.31" width="4.46" height="4.44" fill="#e7e7ff"/><rect x="374.40" y="135.31" width="4.46" height="4.44" fill="#e8e8ff"/><rect x="378.26" y="135.31" width="4.46" height="4.44" fill="#e9e9ff"/><rect x="382.12" y="135.31" width="12.19" height="4.44" fill="#eaeaff"/><rect x="393.72" y="135.31" width="35.38" height="4.44" fill="#ebebff"/><rect x="243.00" y="139.16" width="35.38" height="4.44" fill="#e0e0ff"/><rect x="277.78" y="139.16" width="4.46" height="4.44" fill="#dfdfff"/><rect x="281.65" y="139.16" width="4.46" height="4.44" fill="#dedeff"/><rect x="285.51" y="139.16" width="4.46" height="4.44" fill="#ddddff"/><rect x="289.38" y="139.16" width="4.46" height="4.44" fill="#dcdcff"/><rect x="293.24" y="139.16" width="4.46" height="4.44" fill="#d9d9ff"/><rect x="297.10" y="139.16" width="4.46" height="4.44" fill="#d6d6ff"/><rect x="300.97" y="139.16" width="4.46" height="4.44" fill="#d3d3ff"/><rect x="304.83" y="139.16" width="4.46" height="4.44" fill="#ceceff"/><rect x="308.70" y="139.16" width="4.46" height="4.44" fill="#c9c9ff"/><rect x="312.56" y="139.16" width="4.46" height="4.44" fill="#c3c3ff"/><rect x="316.43" y="139.16" width="4.46" height="4.44" fill="#bdbdff"/><rect x="320.29" y="139.16" width="4.46" height="4.44" fill="#b8b8ff"/><rect x="324.16" y="139.16" width="4.46" height="4.44" fill="#b3b3ff"/><rect x="328.02" y="139.16" width="4.46" height="4.44" fill="#b0b0ff"/><rect x="331.89" y="139.16" width="8.33" height="4.44" fill="#aeaeff"/><rect x="339.61" y="139.16" width="4.46" height="4.44" fill="#b0b0ff"/><rect x="343.48" y="139.16" width="4.46" height="4.44" fill="#b3b3ff"/><rect x="347.34" y="139.16" width="4.46" height="4.44" fill="#b8b8ff"/><rect x="351.21" y="139.16" width="4.46" height="4.44" fill="#bdbdff"/><rect x="355.07" y="139.16" width="4.46" height="4.44" fill="#c3c3ff"/><rect x="358.94" y="139.16" width="4.46" height="4.44" fill="#c9c9ff"/><rect x="362.80" y="139.16" width="4.46" height="4.44" fill="#ceceff"/><rect x="366.67" y="139.16" width="4.46" height="4.44" fill="#d3d3ff"/><rect x="370.53" y="139.16" width="4.46" height="4.44" fill="#d6d6ff"/><rect x="374.40" y="139.16" width="4.46" height="4.44" fill="#d9d9ff"/><rect x="378.26" y="139.16" width="4.46" height="4.44" fill="#dcdcff"/><rect x="382.12" y="139.16" width="4.46" height="4.44" fill="#ddddff"/><rect x="385.99" y="139.16" width="4.46" height="4.44" fill="#dedeff"/><rect x="389.85" y="139.16" width="4.46" height="4.44" fill="#dfdfff"/><rect x="393.72" y="139.16" width="35.38" height="4.44" fill="#e0e0ff"/><rect x="243.00" y="143.00" width="39.25" height="4.44" fill="#ebebff"/><rect x="281.65" y="143.00" width="4.46" height="4.44" fill="#eaeaff"/><rect x="285.51" y="143.00" width="4.46" height="4.44" fill="#e9e9ff"/><rect x="289.38" y="143.00" width="4.46" height="4.44" fill="#e8e8ff"/><rect x="293.24" y="143.00" width="4.46" height="4.44" fill="#e6e6ff"/><rect x="297.10" y="143.00" width="4.46" height="4.44" fill="#e3e3ff"/><rect x="300.97" y="143.00" width="4.46" height="4.44" fill="#e0e0ff"/><rect x="304.83" y="143.00" width="4.46" height="4.44" fill="#dcdcff"/><rect x="308.70" y="143.00" width="4.46" height="4.44" fill="#d7d7ff"/><rect x="312.56" y="143.00" width="4.46" height="4.44" fill="#d2d2ff"/><rect x="316.43" y="143.00" width="4.46" height="4.44" fill="#ccccff"/><rect x="320.29" y="143.00" width="4.46" height="4.44" fill="#c7c7ff"/><rect x="324.16" y="143.00" width="4.46" height="4.44" fill="#c2c2ff"/><rect x="328.02" y="143.00" width="4.46" height="4.44" fill="#bfbfff"/><rect x="331.89" y="143.00" width="8.33" height="4.44" fill="#bdbdff"/><rect x="339.61" y="143.00" width="4.46" height="4.44" fill="#bfbfff"/><rect x="343.48" y="143.00" width="4.46" height="4.44" fill="#c2c2ff"/><rect x="347.34" y="143.00" width="4.46" height="4.44" fill="#c7c7ff"/><rect x="351.21" y="143.00" width="4.46" height="4.44" fill="#ccccff"/><rect x="355.07" y="143.00" width="4.46" height="4.44" fill="#d2d2ff"/><rect x="358.94" y="143.00" width="4.46" height="4.44" fill="#d7d7ff"/><rect x="362.80" y="143.00" width="4.46" height="4.44" fill="#dcdcff"/><rect x="366.67" y="143.00" width="4.46" height="4.44" fill="#e0e0ff"/><rect x="370.53" y="143.00" width="4.46" height="4.44" fill="#e3e3ff"/><rect x="374.40" y="143.00" width="4.46" height="4.44" fill="#e6e6ff"/><rect x="378.26" y="143.00" width="4.46" height="4.44" fill="#e8e8ff"/><rect x="382.12" y="143.00" width="4.46" height="4.44" fill="#e9e9ff"/><rect x="385.99" y="143.00" width="4.46" height="4.44" fill="#eaeaff"/><rect x="389.85" y="143.00" width="39.25" height="4.44" fill="#ebebff"/><rect x="243.00" y="146.84" width="23.79" height="4.44" fill="#f0f0ff"/><rect x="266.19" y="146.84" width="16.06" height="4.44" fill="#efefff"/><rect x="281.65" y="146.84" width="4.46" height="4.44" fill="#eeeeff"/><rect x="285.51" y="146.84" width="4.46" height="4.44" fill="#ededff"/><rect x="289.38" y="146.84" width="4.46" height="4.44" fill="#ececff"/><rect x="293.24" y="146.84" width="4.46" height="4.44" fill="#e9e9ff"/><rect x="297.10" y="146.84" width="4.46" height="4.44" fill="#e6e6ff"/><rect x="300.97" y="146.84" width="4.46" height="4.44" fill="#e2e2ff"/><rect x="304.83" y="146.84" width="4.46" height="4.44" fill="#ddddff"/><rect x="308.70" y="146.84" width="4.46" height="4.44" fill="#d7d7ff"/><rect x="312.56" y="146.84" width="4.46" height="4.44" fill="#d0d0ff"/><rect x="316.43" y="146.84" width="4.46" height="4.44" fill="#c9c9ff"/><rect x="320.29" y="146.84" width="4.46" height="4.44" fill="#c2c2ff"/><rect x="324.16" y="146.84" width="4.46" height="4.44" fill="#bcbcff"/><rect x="328.02" y="146.84" width="4.46" height="4.44" fill="#b8b8ff"/><rect x="331.89" y="146.84" width="8.33" height="4.44" fill="#b5b5ff"/><rect x="339.61" y="146.84" width="4.46" height="4.44" fill="#b8b8ff"/><rect x="343.48" y="146.84" width="4.46" height="4.44" fill="#bcbcff"/><rect x="347.34" y="146.84" width="4.46" height="4.44" fill="#c2c2ff"/><rect x="351.21" y="146.84" width="4.46" height="4.44" fill="#c9c9ff"/><rect x="355.07" y="146.84" width="4.46" height="4.44" fill="#d0d0ff"/><rect x="358.94" y="146.84" width="4.46" height="4.44" fill="#d7d7ff"/><rect x="362.80" y="146.84" width="4.46" height="4.44" fill="#ddddff"/><rect x="366.67" y="146.84" width="4.46" height="4.44" fill="#e2e2ff"/><rect x="370.53" y="146.84" width="4.46" height="4.44" fill="#e6e6ff"/><rect x="374.40" y="146.84" width="4.46" height="4.44" fill="#e9e9ff"/><rect x="378.26" y="146.84" width="4.46" height="4.44" fill="#ececff"/><rect x="382.12" y="146.84" width="4.46" height="4.44" fill="#ededff"/><rect x="385.99" y="146.84" width="4.46" height="4.44" fill="#eeeeff"/><rect x="389.85" y="146.84" width="16.06" height="4.44" fill="#efefff"/><rect x="405.31" y="146.84" width="23.79" height="4.44" fill="#f0f0ff"/><rect x="243.00" y="150.69" width="12.19" height="4.44" fill="#f0f0ff"/><rect x="254.59" y="150.69" width="23.79" height="4.44" fill="#efefff"/><rect x="277.78" y="150.69" width="8.33" height="4.44" fill="#eeeeff"/><rect x="285.51" y="150.69" width="4.46" height="4.44" fill="#ececff"/><rect x="289.38" y="150.69" width="4.46" height="4.44" fill="#eaeaff"/><rect x="293.24" y="150.69" width="4.46" height="4.44" fill="#e7e7ff"/><rect x="297.10" y="150.69" width="4.46" height="4.44" fill="#e2e2ff"/><rect x="300.97" y="150.69" width="4.46" height="4.44" fill="#dcdcff"/><rect x="304.83" y="150.69" width="4.46" height="4.44" fill="#d4d4ff"/><rect x="308.70" y="150.69" width="4.46" height="4.44" fill="#cacaff"/><rect x="312.56" y="150.69" width="4.46" height="4.44" fill="#bfbfff"/><rect x="316.43" y="150.69" width="4.46" height="4.44" fill="#b4b4ff"/><rect x="320.29" y="150.69" width="4.46" height="4.44" fill="#a9a9ff"/><rect x="324.16" y="150.69" width="4.46" height="4.44" fill="#a0a0ff"/><rect x="328.02" y="150.69" width="4.46" height="4.44" fill="#9999ff"/><rect x="331.89" y="150.69" width="8.33" height="4.44" fill="#9595ff"/><rect x="339.61" y="150.69" width="4.46" height="4.44" fill="#9999ff"/><rect x="343.48" y="150.69" width="4.46" height="4.44" fill="#a0a0ff"/><rect x="347.34" y="150.69" width="4.46" height="4.44" fill="#a9a9ff"/><rect x="351.21" y="150.69" width="4.46" height="4.44" fill="#b4b4ff"/><rect x="355.07" y="150.69" width="4.46" height="4.44" fill="#bfbfff"/><rect x="358.94" y="150.69" width="4.46" height="4.44" fill="#cacaff"/><rect x="362.80" y="150.69" width="4.46" height="4.44" fill="#d4d4ff"/><rect x="366.67" y="150.69" width="4.46" height="4.44" fill="#dcdcff"/><rect x="370.53" y="150.69" width="4.46" height="4.44" fill="#e2e2ff"/><rect x="374.40" y="150.69" width="4.46" height="4.44" fill="#e7e7ff"/><rect x="378.26" y="150.69" width="4.46" height="4.44" fill="#eaeaff"/><rect x="382.12" y="150.69" width="4.46" height="4.44" fill="#ececff"/><rect x="385.99" y="150.69" width="8.33" height="4.44" fill="#eeeeff"/><rect x="393.72" y="150.69" width="23.79" height="4.44" fill="#efefff"/><rect x="416.91" y="150.69" width="12.19" height="4.44" fill="#f0f0ff"/><rect x="243.00" y="154.53" width="35.38" height="4.44" fill="#ebebff"/><rect x="277.78" y="154.53" width="4.46" height="4.44" fill="#eaeaff"/><rect x="281.65" y="154.53" width="4.46" height="4.44" fill="#e8e8ff"/><rect x="285.51" y="154.53" width="4.46" height="4.44" fill="#e6e6ff"/><rect x="289.38" y="154.53" width="4.46" height="4.44" fill="#e3e3ff"/><rect x="293.24" y="154.53" width="4.46" height="4.44" fill="#ddddff"/><rect x="297.10" y="154.53" width="4.46" height="4.44" fill="#d5d5ff"/><rect x="300.97" y="154.53" width="4.46" height="4.44" fill="#cacaff"/><rect x="304.83" y="154.53" width="4.46" height="4.44" fill="#bbbbff"/><rect x="308.70" y="154.53" width="4.46" height="4.44" fill="#aaaaff"/><rect x="312.56" y="154.53" width="4.46" height="4.44" fill="#9696ff"/><rect x="316.43" y="154.53" width="4.46" height="4.44" fill="#8080ff"/><rect x="320.29" y="154.53" width="4.46" height="4.44" fill="#6b6bff"/><rect x="324.16" y="154.53" width="4.46" height="4.44" fill="#5959ff"/><rect x="328.02" y="154.53" width="4.46" height="4.44" fill="#4b4bff"/><rect x="331.89" y="154.53" width="8.33" height="4.44" fill="#4444ff"/><rect x="339.61" y="154.53" width="4.46" height="4.44" fill="#4b4bff"/><rect x="343.48" y="154.53" width="4.46" height="4.44" fill="#5959ff"/><rect x="347.34" y="154.53" width="4.46" height="4.44" fill="#6b6bff"/><rect x="351.21" y="154.53" width="4.46" height="4.44" fill="#8080ff"/><rect x="355.07" y="154.53" width="4.46" height="4.44" fill="#9696ff"/><rect x="358.94" y="154.53" width="4.46" height="4.44" fill="#aaaaff"/><rect x="362.80" y="154.53" width="4.46" height="4.44" fill="#bbbbff"/><rect x="366.67" y="154.53" width="4.46" height="4.44" fill="#cacaff"/><rect x="370.53" y="154.53" width="4.46" height="4.44" fill="#d5d5ff"/><rect x="374.40" y="154.53" width="4.46" height="4.44" fill="#ddddff"/><rect x="378.26" y="154.53" width="4.46" height="4.44" fill="#e3e3ff"/><rect x="382.12" y="154.53" width="4.46" height="4.44" fill="#e6e6ff"/><rect x="385.99" y="154.53" width="4.46" height="4.44" fill="#e8e8ff"/><rect x="389.85" y="154.53" width="4.46" height="4.44" fill="#eaeaff"/><rect x="393.72" y="154.53" width="35.38" height="4.44" fill="#ebebff"/><rect x="243.00" y="158.38" width="27.65" height="4.44" fill="#e1e1ff"/><rect x="270.05" y="158.38" width="8.33" height="4.44" fill="#e0e0ff"/><rect x="277.78" y="158.38" width="4.46" height="4.44" fill="#dfdfff"/><rect x="281.65" y="158.38" width="4.46" height="4.44" fill="#dedeff"/><rect x="285.51" y="158.38" width="4.46" height="4.44" fill="#dbdbff"/><rect x="289.38" y="158.38" width="4.46" height="4.44" fill="#d8d8ff"/><rect x="293.24" y="158.38" width="4.46" height="4.44" fill="#d2d2ff"/><rect x="297.10" y="158.38" width="4.46" height="4.44" fill="#c9c9ff"/><rect x="300.97" y="158.38" width="4.46" height="4.44" fill="#bebeff"/><rect x="304.83" y="158.38" width="4.46" height="4.44" fill="#aeaeff"/><rect x="308.70" y="158.38" width="4.46" height="4.44" fill="#9c9cff"/><rect x="312.56" y="158.38" width="4.46" height="4.44" fill="#8686ff"/><rect x="316.43" y="158.38" width="4.46" height="4.44" fill="#6f6fff"/><rect x="320.29" y="158.38" width="4.46" height="4.44" fill="#5858ff"/><rect x="324.16" y="158.38" width="4.46" height="4.44" fill="#4545ff"/><rect x="328.02" y="158.38" width="4.46" height="4.44" fill="#3636ff"/><rect x="331.89" y="158.38" width="8.33" height="4.44" fill="#2e2eff"/><rect x="339.61" y="158.38" width="4.46" height="4.44" fill="#3636ff"/><rect x="343.48" y="158.38" width="4.46" height="4.44" fill="#4545ff"/><rect x="347.34" y="158.38" width="4.46" height="4.44" fill="#5858ff"/><rect x="351.21" y="158.38" width="4.46" height="4.44" fill="#6f6fff"/><rect x="355.07" y="158.38" width="4.46" height="4.44" fill="#8686ff"/><rect x="358.94" y="158.38" width="4.46" height="4.44" fill="#9c9cff"/><rect x="362.80" y="158.38" width="4.46" height="4.44" fill="#aeaeff"/><rect x="366.67" y="158.38" width="4.46" height="4.44" fill="#bebeff"/><rect x="370.53" y="158.38" width="4.46" height="4.44" fill="#c9c9ff"/><rect x="374.40" y="158.38" width="4.46" height="4.44" fill="#d2d2ff"/><rect x="378.26" y="158.38" width="4.46" height="4.44" fill="#d8d8ff"/><rect x="382.12" y="158.38" width="4.46" height="4.44" fill="#dbdbff"/><rect x="385.99" y="158.38" width="4.46" height="4.44" fill="#dedeff"/><rect x="389.85" y="158.38" width="4.46" height="4.44" fill="#dfdfff"/><rect x="393.72" y="158.38" width="8.33" height="4.44" fill="#e0e0ff"/><rect x="401.45" y="158.38" width="27.65" height="4.44" fill="#e1e1ff"/><rect x="243.00" y="162.22" width="35.38" height="4.44" fill="#e7e7ff"/><rect x="277.78" y="162.22" width="4.46" height="4.44" fill="#e6e6ff"/><rect x="281.65" y="162.22" width="4.46" height="4.44" fill="#e5e5ff"/><rect x="285.51" y="162.22" width="4.46" height="4.44" fill="#e3e3ff"/><rect x="289.38" y="162.22" width="4.46" height="4.44" fill="#e0e0ff"/><rect x="293.24" y="162.22" width="4.46" height="4.44" fill="#dadaff"/><rect x="297.10" y="162.22" width="4.46" height="4.44" fill="#d3d3ff"/><rect x="300.97" y="162.22" width="4.46" height="4.44" fill="#c9c9ff"/><rect x="304.83" y="162.22" width="4.46" height="4.44" fill="#bbbbff"/><rect x="308.70" y="162.22" width="4.46" height="4.44" fill="#aaaaff"/><rect x="312.56" y="162.22" width="4.46" height="4.44" fill="#9797ff"/><rect x="316.43" y="162.22" width="4.46" height="4.44" fill="#8383ff"/><rect x="320.29" y="162.22" width="4.46" height="4.44" fill="#6e6eff"/><rect x="324.16" y="162.22" width="4.46" height="4.44" fill="#5c5cff"/><rect x="328.02" y="162.22" width="4.46" height="4.44" fill="#4f4fff"/><rect x="331.89" y="162.22" width="8.33" height="4.44" fill="#4848ff"/><rect x="339.61" y="162.22" width="4.46" height="4.44" fill="#4f4fff"/><rect x="343.48" y="162.22" width="4.46" height="4.44" fill="#5c5cff"/><rect x="347.34" y="162.22" width="4.46" height="4.44" fill="#6e6eff"/><rect x="351.21" y="162.22" width="4.46" height="4.44" fill="#8383ff"/><rect x="355.07" y="162.22" width="4.46" height="4.44" fill="#9797ff"/><rect x="358.94" y="162.22" width="4.46" height="4.44" fill="#aaaaff"/><rect x="362.80" y="162.22" width="4.46" height="4.44" fill="#bbbbff"/><rect x="366.67" y="162.22" width="4.46" height="4.44" fill="#c9c9ff"/><rect x="370.53" y="162.22" width="4.46" height="4.44" fill="#d3d3ff"/><rect x="374.40" y="162.22" width="4.46" height="4.44" fill="#dadaff"/><rect x="378.26" y="162.22" width="4.46" height="4.44" fill="#e0e0ff"/><rect x="382.12" y="162.22" width="4.46" height="4.44" fill="#e3e3ff"/><rect x="385.99" y="162.22" width="4.46" height="4.44" fill="#e5e5ff"/><rect x="389.85" y="162.22" width="4.46" height="4.44" fill="#e6e6ff"/><rect x="393.72" y="162.22" width="35.38" height="4.44" fill="#e7e7ff"/><rect x="243.00" y="166.06" width="31.52" height="4.44" fill="#efefff"/><rect x="273.92" y="166.06" width="8.33" height="4.44" fill="#eeeeff"/><rect x="281.65" y="166.06" width="4.46" height="4.44" fill="#ededff"/><rect x="285.51" y="166.06" width="4.46" height="4.44" fill="#ececff"/><rect x="289.38" y="166.06" width="4.46" height="4.44" fill="#e9e9ff"/><rect x="293.24" y="166.06" width="4.46" height="4.44" fill="#e6e6ff"/><rect x="297.10" y="166.06" width="4.46" height="4.44" fill="#e0e0ff"/><rect x="300.97" y="166.06" width="4.46" height="4.44" fill="#d9d9ff"/><rect x="304.83" y="166.06" width="4.46" height="4.44" fill="#cfcfff"/><rect x="308.70" y="166.06" width="4.46" height="4.44" fill="#c4c4ff"/><rect x="312.56" y="166.06" width="4.46" height="4.44" fill="#b6b6ff"/><rect x="316.43" y="166.06" width="4.46" height="4.44" fill="#a7a7ff"/><rect x="320.29" y="166.06" width="4.46" height="4.44" fill="#9999ff"/><rect x="324.16" y="166.06" width="4.46" height="4.44" fill="#8c8cff"/><rect x="328.02" y="166.06" width="4.46" height="4.44" fill="#8383ff"/><rect x="331.89" y="166.06" width="8.33" height="4.44" fill="#7e7eff"/><rect x="339.61" y="166.06" width="4.46" height="4.44" fill="#8383ff"/><rect x="343.48" y="166.06" width="4.46" height="4.44" fill="#8c8cff"/><rect x="347.34" y="166.06" width="4.46" height="4.44" fill="#9999ff"/><rect x="351.21" y="166.06" width="4.46" height="4.44" fill="#a7a7ff"/><rect x="355.07" y="166.06" width="4.46" height="4.44" fill="#b6b6ff"/><rect x="358.94" y="166.06" width="4.46" height="4.44" fill="#c4c4ff"/><rect x="362.80" y="166.06" width="4.46" height="4.44" fill="#cfcfff"/><rect x="366.67" y="166.06" width="4.46" height="4.44" fill="#d9d9ff"/><rect x="370.53" y="166.06" width="4.46" height="4.44" fill="#e0e0ff"/><rect x="374.40" y="166.06" width="4.46" height="4.44" fill="#e6e6ff"/><rect x="378.26" y="166.06" width="4.46" height="4.44" fill="#e9e9ff"/><rect x="382.12" y="166.06" width="4.46" height="4.44" fill="#ececff"/><rect x="385.99" y="166.06" width="4.46" height="4.44" fill="#ededff"/><rect x="389.85" y="166.06" width="8.33" height="4.44" fill="#eeeeff"/><rect x="397.58" y="166.06" width="31.52" height="4.44" fill="#efefff"/><rect x="243.00" y="169.91" width="27.65" height="4.44" fill="#f0f0ff"/><rect x="270.05" y="169.91" width="16.06" height="4.44" fill="#efefff"/><rect x="285.51" y="169.91" width="4.46" height="4.44" fill="#eeeeff"/><rect x="289.38" y="169.91" width="4.46" height="4.44" fill="#ededff"/><rect x="293.24" y="169.91" width="4.46" height="4.44" fill="#ececff"/><rect x="297.10" y="169.91" width="4.46" height="4.44" fill="#eaeaff"/><rect x="300.97" y="169.91" width="4.46" height="4.44" fill="#e8e8ff"/><rect x="304.83" y="169.91" width="4.46" height="4.44" fill="#e5e5ff"/><rect x="308.70" y="169.91" width="4.46" height="4.44" fill="#e1e1ff"/><rect x="312.56" y="169.91" width="4.46" height="4.44" fill="#ddddff"/><rect x="316.43" y="169.91" width="4.46" height="4.44" fill="#d9d9ff"/><rect x="320.29" y="169.91" width="4.46" height="4.44" fill="#d5d5ff"/><rect x="324.16" y="169.91" width="4.46" height="4.44" fill="#d2d2ff"/><rect x="328.02" y="169.91" width="4.46" height="4.44" fill="#cfcfff"/><rect x="331.89" y="169.91" width="8.33" height="4.44" fill="#ceceff"/><rect x="339.61" y="169.91" width="4.46" height="4.44" fill="#cfcfff"/><rect x="343.48" y="169.91" width="4.46" height="4.44" fill="#d2d2ff"/><rect x="347.34" y="169.91" width="4.46" height="4.44" fill="#d5d5ff"/><rect x="351.21" y="169.91" width="4.46" height="4.44" fill="#d9d9ff"/><rect x="355.07" y="169.91" width="4.46" height="4.44" fill="#ddddff"/><rect x="358.94" y="169.91" width="4.46" height="4.44" fill="#e1e1ff"/><rect x="362.80" y="169.91" width="4.46" height="4.44" fill="#e5e5ff"/><rect x="366.67" y="169.91" width="4.46" height="4.44" fill="#e8e8ff"/><rect x="370.53" y="169.91" width="4.46" height="4.44" fill="#eaeaff"/><rect x="374.40" y="169.91" width="4.46" height="4.44" fill="#ececff"/><rect x="378.26" y="169.91" width="4.46" height="4.44" fill="#ededff"/><rect x="382.12" y="169.91" width="4.46" height="4.44" fill="#eeeeff"/><rect x="385.99" y="169.91" width="16.06" height="4.44" fill="#efefff"/><rect x="401.45" y="169.91" width="27.65" height="4.44" fill="#f0f0ff"/><rect x="243.00" y="173.75" width="39.25" height="4.44" fill="#ededff"/><rect x="281.65" y="173.75" width="8.33" height="4.44" fill="#ececff"/><rect x="289.38" y="173.75" width="4.46" height="4.44" fill="#ebebff"/><rect x="293.24" y="173.75" width="4.46" height="4.44" fill="#eaeaff"/><rect x="297.10" y="173.75" width="4.46" height="4.44" fill="#e9e9ff"/><rect x="300.97" y="173.75" width="4.46" height="4.44" fill="#e7e7ff"/><rect x="304.83" y="173.75" width="4.46" height="4.44" fill="#e5e5ff"/><rect x="308.70" y="173.75" width="4.46" height="4.44" fill="#e3e3ff"/><rect x="312.56" y="173.75" width="4.46" height="4.44" fill="#e0e0ff"/><rect x="316.43" y="173.75" width="4.46" height="4.44" fill="#ddddff"/><rect x="320.29" y="173.75" width="4.46" height="4.44" fill="#dbdbff"/><rect x="324.16" y="173.75" width="4.46" height="4.44" fill="#d9d9ff"/><rect x="328.02" y="173.75" width="4.46" height="4.44" fill="#d8d8ff"/><rect x="331.89" y="173.75" width="8.33" height="4.44" fill="#d7d7ff"/><rect x="339.61" y="173.75" width="4.46" height="4.44" fill="#d8d8ff"/><rect x="343.48" y="173.75" width="4.46" height="4.44" fill="#d9d9ff"/><rect x="347.34" y="173.75" width="4.46" height="4.44" fill="#dbdbff"/><rect x="351.21" y="173.75" width="4.46" height="4.44" fill="#ddddff"/><rect x="355.07" y="173.75" width="4.46" height="4.44" fill="#e0e0ff"/><rect x="358.94" y="173.75" width="4.46" height="4.44" fill="#e3e3ff"/><rect x="362.80" y="173.75" width="4.46" height="4.44" fill="#e5e5ff"/><rect x="366.67" y="173.75" width="4.46" height="4.44" fill="#e7e7ff"/><rect x="370.53" y="173.75" width="4.46" height="4.44" fill="#e9e9ff"/><rect x="374.40" y="173.75" width="4.46" height="4.44" fill="#eaeaff"/><rect x="378.26" y="173.75" width="4.46" height="4.44" fill="#ebebff"/><rect x="382.12" y="173.75" width="8.33" height="4.44" fill="#ececff"/><rect x="389.85" y="173.75" width="39.25" height="4.44" fill="#ededff"/><rect x="243.00" y="177.59" width="39.25" height="4.44" fill="#e8e8ff"/><rect x="281.65" y="177.59" width="8.33" height="4.44" fill="#e7e7ff"/><rect x="289.38" y="177.59" width="4.46" height="4.44" fill="#e6e6ff"/><rect x="293.24" y="177.59" width="4.46" height="4.44" fill="#e5e5ff"/><rect x="297.10" y="177.59" width="4.46" height="4.44" fill="#e4e4ff"/><rect x="300.97" y="177.59" width="4.46" height="4.44" fill="#e2e2ff"/><rect x="304.83" y="177.59" width="4.46" height="4.44" fill="#e0e0ff"/><rect x="308.70" y="177.59" width="4.46" height="4.44" fill="#dedeff"/><rect x="312.56" y="177.59" width="4.46" height="4.44" fill="#dcdcff"/><rect x="316.43" y="177.59" width="4.46" height="4.44" fill="#d9d9ff"/><rect x="320.29" y="177.59" width="4.46" height="4.44" fill="#d7d7ff"/><rect x="324.16" y="177.59" width="4.46" height="4.44" fill="#d5d5ff"/><rect x="328.02" y="177.59" width="16.06" height="4.44" fill="#d4d4ff"/><rect x="343.48" y="177.59" width="4.46" height="4.44" fill="#d5d5ff"/><rect x="347.34" y="177.59" width="4.46" height="4.44" fill="#d7d7ff"/><rect x="351.21" y="177.59" width="4.46" height="4.44" fill="#d9d9ff"/><rect x="355.07" y="177.59" width="4.46" height="4.44" fill="#dcdcff"/><rect x="358.94" y="177.59" width="4.46" height="4.44" fill="#dedeff"/><rect x="362.80" y="177.59" width="4.46" height="4.44" fill="#e0e0ff"/><rect x="366.67" y="177.59" width="4.46" height="4.44" fill="#e2e2ff"/><rect x="370.53" y="177.59" width="4.46" height="4.44" fill="#e4e4ff"/><rect x="374.40" y="177.59" width="4.46" height="4.44" fill="#e5e5ff"/><rect x="378.26" y="177.59" width="4.46" height="4.44" fill="#e6e6ff"/><rect x="382.12" y="177.59" width="8.33" height="4.44" fill="#e7e7ff"/><rect x="389.85" y="177.59" width="39.25" height="4.44" fill="#e8e8ff"/><rect x="243.00" y="181.44" width="35.38" height="4.44" fill="#efefff"/><rect x="277.78" y="181.44" width="12.19" height="4.44" fill="#eeeeff"/><rect x="289.38" y="181.44" width="8.33" height="4.44" fill="#ededff"/><rect x="297.10" y="181.44" width="4.46" height="4.44" fill="#ececff"/><rect x="300.97" y="181.44" width="4.46" height="4.44" fill="#ebebff"/><rect x="304.83" y="181.44" width="4.46" height="4.44" fill="#eaeaff"/><rect x="308.70" y="181.44" width="4.46" height="4.44" fill="#e8e8ff"/><rect x="312.56" y="181.44" width="4.46" height="4.44" fill="#e7e7ff"/><rect x="316.43" y="181.44" width="4.46" height="4.44" fill="#e5e5ff"/><rect x="320.29" y="181.44" width="4.46" height="4.44" fill="#e4e4ff"/><rect x="324.16" y="181.44" width="4.46" height="4.44" fill="#e3e3ff"/><rect x="328.02" y="181.44" width="16.06" height="4.44" fill="#e2e2ff"/><rect x="343.48" y="181.44" width="4.46" height="4.44" fill="#e3e3ff"/><rect x="347.34" y="181.44" width="4.46" height="4.44" fill="#e4e4ff"/><rect x="351.21" y="181.44" width="4.46" height="4.44" fill="#e5e5ff"/><rect x="355.07" y="181.44" width="4.46" height="4.44" fill="#e7e7ff"/><rect x="358.94" y="181.44" width="4.46" height="4.44" fill="#e8e8ff"/><rect x="362.80" y="181.44" width="4.46" height="4.44" fill="#eaeaff"/><rect x="366.67" y="181.44" width="4.46" height="4.44" fill="#ebebff"/><rect x="370.53" y="181.44" width="4.46" height="4.44" fill="#ececff"/><rect x="374.40" y="181.44" width="8.33" height="4.44" fill="#ededff"/><rect x="382.12" y="181.44" width="12.19" height="4.44" fill="#eeeeff"/><rect x="393.72" y="181.44" width="35.38" height="4.44" fill="#efefff"/><rect x="243.00" y="185.28" width="39.25" height="4.44" fill="#f0f0ff"/><rect x="281.65" y="185.28" width="16.06" height="4.44" fill="#efefff"/><rect x="297.10" y="185.28" width="12.19" height="4.44" fill="#eeeeff"/><rect x="308.70" y="185.28" width="4.46" height="4.44" fill="#ededff"/><rect x="312.56" y="185.28" width="8.33" height="4.44" fill="#ececff"/><rect x="320.29" y="185.28" width="8.33" height="4.44" fill="#ebebff"/><rect x="328.02" y="185.28" width="16.06" height="4.44" fill="#eaeaff"/><rect x="343.48" y="185.28" width="8.33" height="4.44" fill="#ebebff"/><rect x="351.21" y="185.28" width="8.33" height="4.44" fill="#ececff"/><rect x="358.94" y="185.28" width="4.46" height="4.44" fill="#ededff"/><rect x="362.80" y="185.28" width="12.19" height="4.44" fill="#eeeeff"/><rect x="374.40" y="185.28" width="16.06" height="4.44" fill="#efefff"/><rect x="389.85" y="185.28" width="39.25" height="4.44" fill="#f0f0ff"/><rect x="243.00" y="189.12" width="50.84" height="4.44" fill="#f0f0ff"/><rect x="293.24" y="189.12" width="31.52" height="4.44" fill="#efefff"/><rect x="324.16" y="189.12" width="23.79" height="4.44" fill="#eeeeff"/><rect x="347.34" y="189.12" width="31.52" height="4.44" fill="#efefff"/><rect x="378.26" y="189.12" width="50.84" height="4.44" fill="#f0f0ff"/><rect x="243.00" y="192.97" width="81.76" height="4.44" fill="#f0f0ff"/><rect x="324.16" y="192.97" width="23.79" height="4.44" fill="#efefff"/><rect x="347.34" y="192.97" width="81.76" height="4.44" fill="#f0f0ff"/><rect x="243.00" y="196.81" width="186.10" height="4.44" fill="#f3f3ff"/><rect x="243.00" y="200.66" width="186.10" height="4.44" fill="#fdfdff"/></g>
<rect x="457.50" y="20.00" width="16.40" height="16.38" fill="#ffa8a8"/>
<rect x="472.90" y="20.00" width="16.40" height="16.38" fill="#fff0f0"/>
<rect x="488.30" y="20.00" width="16.40" height="16.38" fill="#ffb8b8"/>
<rect x="503.70" y="20.00" width="16.40" height="16.38" fill="#ffd9d9"/>
<rect x="519.10" y="20.00" width="16.40" height="16.38" fill="#f7f7ff"/>
<rect x="534.50" y="20.00" width="16.40" height="16.38" fill="#ffcccc"/>
<rect x="549.90" y="20.00" width="16.40" height="16.38" fill="#fff0f0"/>
<rect x="565.30" y="20.00" width="16.40" height="16.38" fill="#ffbdbd"/>
<rect x="580.70" y="20.00" width="16.40" height="16.38" fill="#f7f7ff"/>
<rect x="596.10" y="20.00" width="16.40" height="16.38" fill="#fff0f0"/>
<rect x="611.50" y="20.00" width="16.40" height="16.38" fill="#ff8f8f"/>
<rect x="626.90" y="20.00" width="15.40" height="16.38" fill="#dedeff"/>
<rect x="457.50" y="35.38" width="16.40" height="16.38" fill="#ffe5e5"/>
<rect x="472.90" y="35.38" width="16.40" height="16.38" fill="#fffcfc"/>
<rect x="488.30" y="35.38" width="16.40" height="16.38" fill="#fff2f2"/>
<rect x="503.70" y="35.38" width="16.40" height="16.38" fill="#ffd9d9"/>
<rect x="519.10" y="35.38" width="16.40" height="16.38" fill="#ffebeb"/>
<rect x="534.50" y="35.38" width="16.40" height="16.38" fill="#ffbfbf"/>
<rect x="549.90" y="35.38" width="16.40" height="16.38" fill="#ffb0b0"/>
<rect x="565.30" y="35.38" width="16.40" height="16.38" fill="#ffc9c9"/>
<rect x="580.70" y="35.38" width="16.40" height="16.38" fill="#ffe3e3"/>
<rect x="596.10" y="35.38" width="16.40" height="16.38" fill="#ffe5e5"/>
<rect x="611.50" y="35.38" width="16.40" height="16.38" fill="#ffe8e8"/>
<rect x="626.90" y="35.38" width="15.40" height="16.38" fill="#ffe8e8"/>
<rect x="457.50" y="50.75" width="16.40" height="16.38" fill="#ffe5e5"/>
<rect x="472.90" y="50.75" width="16.40" height="16.38" fill="#ffe5e5"/>
<rect x="488.30" y="50.75" width="16.40" height="16.38" fill="#ffe5e5"/>
<rect x="503.70" y="50.75" width="16.40" height="16.38" fill="#fff0f0"/>
<rect x="519.10" y="50.75" width="16.40" height="16.38" fill="#ffeded"/>
<rect x="534.50" y="50.75" width="16.40" height="16.38" fill="#ffabab"/>
<rect x="549.90" y="50.75" width="16.40" height="16.38" fill="#ffbfbf"/>
<rect x="565.30" y="50.75" width="16.40" height="16.38" fill="#ffe0e0"/>
<rect x="580.70" y="50.75" width="16.40" height="16.38" fill="#ffe5e5"/>
<rect x="596.10" y="50.75" width="16.40" height="16.38" fill="#ffebeb"/>
<rect x="611.50" y="50.75" width="16.40" height="16.38" fill="#fff0f0"/>
<rect x="626.90" y="50.75" width="15.40" height="16.38" fill="#fff2f2"/>
<rect x="457.50" y="66.12" width="16.40" height="16.38" fill="#ffffff"/>
<rect x="472.90" y="66.12" width="16.40" height="16.38" fill="#fff7f7"/>
<rect x="488.30" y="66.12" width="16.40" height="16.38" fill="#ffeded"/>
<rect x="503.70" y="66.12" width="16.40" height="16.38" fill="#ffebeb"/>
<rect x="519.10" y="66.12" width="16.40" height="16.38" fill="#ffc4c4"/>
<rect x="534.50" y="66.12" width="16.40" height="16.38" fill="#ff6666"/>
<rect x="549.90" y="66.12" width="16.40" height="16.38" fill="#ff6666"/>
<rect x="565.30" y="66.12" width="16.40" height="16.38" fill="#ffc7c7"/>
<rect x="580.70" y="66.12" width="16.40" height="16.38" fill="#ffe3e3"/>
<rect x="596.10" y="66.12" width="16.40" height="16.38" fill="#ffe5e5"/>
<rect x="611.50" y="66.12" width="16.40" height="16.38" fill="#fff2f2"/>
<rect x="626.90" y="66.12" width="15.40" height="16.38" fill="#fff2f2"/>
<rect x="457.50" y="81.50" width="16.40" height="16.38" fill="#ffe5e5"/>
<rect x="472.90" y="81.50" width="16.40" height="16.38" fill="#ffebeb"/>
<rect x="488.30" y="81.50" width="16.40" height="16.38" fill="#fff0f0"/>
<rect x="503.70" y="81.50" width="16.40" height="16.38" fill="#ffe5e5"/>
<rect x="519.10" y="81.50" width="16.40" height="16.38" fill="#ffe5e5"/>
<rect x="534.50" y="81.50" width="16.40" height="16.38" fill="#ffdbdb"/>
<rect x="549.90" y="81.50" width="16.40" height="16.38" fill="#ffb2b2"/>
<rect x="565.30" y="81.50" width="16.40" height="16.38" fill="#ffebeb"/>
<rect x="580.70" y="81.50" width="16.40" height="16.38" fill="#fff0f0"/>
<rect x="596.10" y="81.50" width="16.40" height="16.38" fill="#fff5f5"/>
<rect x="611.50" y="81.50" width="16.40" height="16.38" fill="#ffe5e5"/>
<rect x="626.90" y="81.50" width="15.40" height="16.38" fill="#fff0f0"/>
<rect x="457.50" y="96.88" width="16.40" height="16.38" fill="#ededff"/>
<rect x="472.90" y="96.88" width="16.40" height="16.38" fill="#ffcccc"/>
<rect x="488.30" y="96.88" width="16.40" height="16.38" fill="#ededff"/>
<rect x="503.70" y="96.88" width="16.40" height="16.38" fill="#ffcccc"/>
<rect x="519.10" y="96.88" width="16.40" height="16.38" fill="#ffd6d6"/>
<rect x="534.50" y="96.88" width="16.40" height="16.38" fill="#ffd9d9"/>
<rect x="549.90" y="96.88" width="16.40" height="16.38" fill="#ffffff"/>
<rect x="565.30" y="96.88" width="16.40" height="16.38" fill="#ffabab"/>
<rect x="580.70" y="96.88" width="16.40" height="16.38" fill="#ffd1d1"/>
<rect x="596.10" y="96.88" width="16.40" height="16.38" fill="#ffe0e0"/>
<rect x="611.50" y="96.88" width="16.40" height="16.38" fill="#ffd9d9"/>
<rect x="626.90" y="96.88" width="15.40" height="16.38" fill="#ffa6a6"/>
<rect x="457.50" y="112.25" width="16.40" height="16.38" fill="#a1a1ff"/>
<rect x="472.90" y="112.25" width="16.40" height="16.38" fill="#ffffff"/>
<rect x="488.30" y="112.25" width="16.40" height="16.38" fill="#9999ff"/>
<rect x="503.70" y="112.25" width="16.40" height="16.38" fill="#ffffff"/>
<rect x="519.10" y="112.25" width="16.40" height="16.38" fill="#dedeff"/>
<rect x="534.50" y="112.25" width="16.40" height="16.38" fill="#ffeded"/>
<rect x="549.90" y="112.25" width="16.40" height="16.38" fill="#babaff"/>
<rect x="565.30" y="112.25" width="16.40" height="16.38" fill="#ffeded"/>
<rect x="580.70" y="112.25" width="16.40" height="16.38" fill="#bfbfff"/>
<rect x="596.10" y="112.25" width="16.40" height="16.38" fill="#dedeff"/>
<rect x="611.50" y="112.25" width="16.40" height="16.38" fill="#dbdbff"/>
<rect x="626.90" y="112.25" width="15.40" height="16.38" fill="#fffafa"/>
<rect x="457.50" y="127.62" width="16.40" height="16.38" fill="#ededff"/>
<rect x="472.90" y="127.62" width="16.40" height="16.38" fill="#f5f5ff"/>
<rect x="488.30" y="127.62" width="16.40" height="16.38" fill="#e0e0ff"/>
<rect x="503.70" y="127.62" width="16.40" height="16.38" fill="#ededff"/>
<rect x="519.10" y="127.62" width="16.40" height="16.38" fill="#e0e0ff"/>
<rect x="534.50" y="127.62" width="16.40" height="16.38" fill="#d9d9ff"/>
<rect x="549.90" y="127.62" width="16.40" height="16.38" fill="#babaff"/>
<rect x="565.30" y="127.62" width="16.40" height="16.38" fill="#e6e6ff"/>
<rect x="580.70" y="127.62" width="16.40" height="16.38" fill="#e6e6ff"/>
<rect x="596.10" y="127.62" width="16.40" height="16.38" fill="#e8e8ff"/>
<rect x="611.50" y="127.62" width="16.40" height="16.38" fill="#e8e8ff"/>
<rect x="626.90" y="127.62" width="15.40" height="16.38" fill="#f0f0ff"/>
<rect x="457.50" y="143.00" width="16.40" height="16.38" fill="#e8e8ff"/>
<rect x="472.90" y="143.00" width="16.40" height="16.38" fill="#f7f7ff"/>
<rect x="488.30" y="143.00" width="16.40" height="16.38" fill="#f0f0ff"/>
<rect x="503.70" y="143.00" width="16.40" height="16.38" fill="#f0f0ff"/>
<rect x="519.10" y="143.00" width="16.40" height="16.38" fill="#e8e8ff"/>
<rect x="534.50" y="143.00" width="16.40" height="16.38" fill="#a6a6ff"/>
<rect x="549.90" y="143.00" width="16.40" height="16.38" fill="#9e9eff"/>
<rect x="565.30" y="143.00" width="16.40" height="16.38" fill="#e6e6ff"/>
<rect x="580.70" y="143.00" width="16.40" height="16.38" fill="#ededff"/>
<rect x="596.10" y="143.00" width="16.40" height="16.38" fill="#f7f7ff"/>
<rect x="611.50" y="143.00" width="16.40" height="16.38" fill="#f7f7ff"/>
<rect x="626.90" y="143.00" width="15.40" height="16.38" fill="#f5f5ff"/>
<rect x="457.50" y="158.38" width="16.40" height="16.38" fill="#9e9eff"/>
<rect x="472.90" y="158.38" width="16.40" height="16.38" fill="#f0f0ff"/>
<rect x="488.30" y="158.38" width="16.40" height="16.38" fill="#fffafa"/>
<rect x="503.70" y="158.38" width="16.40" height="16.38" fill="#f0f0ff"/>
<rect x="519.10" y="158.38" width="16.40" height="16.38" fill="#6e6eff"/>
<rect x="534.50" y="158.38" width="16.40" height="16.38" fill="#0808ff"/>
<rect x="549.90" y="158.38" width="16.40" height="16.38" fill="#ababff"/>
<rect x="565.30" y="158.38" width="16.40" height="16.38" fill="#ffffff"/>
<rect x="580.70" y="158.38" width="16.40" height="16.38" fill="#ebebff"/>
<rect x="596.10" y="158.38" width="16.40" height="16.38" fill="#d4d4ff"/>
<rect x="611.50" y="158.38" width="16.40" height="16.38" fill="#dbdbff"/>
<rect x="626.90" y="158.38" width="15.40" height="16.38" fill="#e0e0ff"/>
<rect x="457.50" y="173.75" width="16.40" height="16.38" fill="#ffcccc"/>
<rect x="472.90" y="173.75" width="16.40" height="16.38" fill="#fffcfc"/>
<rect x="488.30" y="173.75" width="16.40" height="16.38" fill="#ededff"/>
<rect x="503.70" y="173.75" width="16.40" height="16.38" fill="#dedeff"/>
<rect x="519.10" y="173.75" width="16.40" height="16.38" fill="#dbdbff"/>
<rect x="534.50" y="173.75" width="16.40" height="16.38" fill="#e6e6ff"/>
<rect x="549.90" y="173.75" width="16.40" height="16.38" fill="#ababff"/>
<rect x="565.30" y="173.75" width="16.40" height="16.38" fill="#f2f2ff"/>
<rect x="580.70" y="173.75" width="16.40" height="16.38" fill="#fafaff"/>
<rect x="596.10" y="173.75" width="16.40" height="16.38" fill="#fff7f7"/>
<rect x="611.50" y="173.75" width="16.40" height="16.38" fill="#ffe5e5"/>
<rect x="626.90" y="173.75" width="15.40" height="16.38" fill="#ffe8e8"/>
<rect x="457.50" y="189.12" width="16.40" height="15.38" fill="#fff0f0"/>
<rect x="472.90" y="189.12" width="16.40" height="15.38" fill="#bfbfff"/>
<rect x="488.30" y="189.12" width="16.40" height="15.38" fill="#f5f5ff"/>
<rect x="503.70" y="189.12" width="16.40" height="15.38" fill="#d4d4ff"/>
<rect x="519.10" y="189.12" width="16.40" height="15.38" fill="#ebebff"/>
<rect x="534.50" y="189.12" width="16.40" height="15.38" fill="#f5f5ff"/>
<rect x="549.90" y="189.12" width="16.40" height="15.38" fill="#babaff"/>
<rect x="565.30" y="189.12" width="16.40" height="15.38" fill="#fafaff"/>
<rect x="580.70" y="189.12" width="16.40" height="15.38" fill="#ededff"/>
<rect x="596.10" y="189.12" width="16.40" height="15.38" fill="#e0e0ff"/>
<rect x="611.50" y="189.12" width="16.40" height="15.38" fill="#fff5f5"/>
<rect x="626.90" y="189.12" width="15.40" height="15.38" fill="#8c8cff"/>
<rect x="657.6" y="36.6" width="9.6" height="151.9" fill="url(#cba)"/>
<rect x="249.30" y="271.50" width="14.16" height="170.90" fill="url(#g143)"/>
<rect x="262.46" y="271.50" width="14.16" height="170.90" fill="url(#g144)"/>
<rect x="275.62" y="271.50" width="14.16" height="170.90" fill="url(#g145)"/>
<rect x="288.78" y="271.50" width="14.16" height="170.90" fill="url(#g146)"/>
<rect x="301.95" y="271.50" width="14.16" height="170.90" fill="url(#g147)"/>
<rect x="315.11" y="271.50" width="14.16" height="170.90" fill="url(#g148)"/>
<rect x="328.27" y="271.50" width="14.16" height="170.90" fill="url(#g149)"/>
<rect x="341.43" y="271.50" width="14.16" height="170.90" fill="url(#g150)"/>
<rect x="354.59" y="271.50" width="14.16" height="170.90" fill="url(#g151)"/>
<rect x="367.75" y="271.50" width="14.16" height="170.90" fill="url(#g152)"/>
<rect x="380.92" y="271.50" width="14.16" height="170.90" fill="url(#g153)"/>
<rect x="394.08" y="271.50" width="14.16" height="170.90" fill="url(#g154)"/>
<rect x="407.24" y="271.50" width="13.16" height="170.90" fill="url(#g155)"/>
<rect x="445.90" y="271.50" width="14.19" height="170.90" fill="url(#g156)"/>
<rect x="459.09" y="271.50" width="14.19" height="170.90" fill="url(#g157)"/>
<rect x="472.28" y="271.50" width="14.19" height="170.90" fill="url(#g158)"/>
<rect x="485.48" y="271.50" width="14.19" height="170.90" fill="url(#g159)"/>
<rect x="498.67" y="271.50" width="14.19" height="170.90" fill="url(#g160)"/>
<rect x="511.86" y="271.50" width="14.19" height="170.90" fill="url(#g161)"/>
<rect x="525.05" y="271.50" width="14.19" height="170.90" fill="url(#g162)"/>
<rect x="538.25" y="271.50" width="14.19" height="170.90" fill="url(#g163)"/>
<rect x="551.44" y="271.50" width="14.19" height="170.90" fill="url(#g164)"/>
<rect x="564.63" y="271.50" width="14.19" height="170.90" fill="url(#g165)"/>
<rect x="577.82" y="271.50" width="14.19" height="170.90" fill="url(#g166)"/>
<rect x="591.02" y="271.50" width="14.19" height="170.90" fill="url(#g167)"/>
<rect x="604.21" y="271.50" width="13.19" height="170.90" fill="url(#g168)"/>
<rect x="638.6" y="287.3" width="9.9" height="138.1" fill="url(#cbr)"/>
<rect x="654.9" y="287.3" width="9.6" height="138.1" fill="url(#cbb)"/>
<g clip-path="url(#cb)">
<path d="M36.60 301.19h0M40.52 301.57h0M44.43 302.70h0M48.35 304.55h0M52.27 307.10h0M56.18 310.31h0M60.10 314.11h0M64.02 318.45h0M67.93 323.25h0M71.85 328.43h0M75.77 333.89h0M79.68 339.55h0M83.60 345.31h0M87.52 351.07h0M91.43 356.72h0M95.35 362.19h0M99.27 367.36h0M103.18 372.16h0M107.10 376.50h0M111.02 380.31h0M114.93 383.51h0M118.85 386.06h0M122.77 387.92h0M126.68 389.04h0M130.60 389.42h0M134.52 389.04h0M138.43 387.92h0M142.35 386.06h0M146.27 383.51h0M150.18 380.31h0M154.10 376.50h0M158.02 372.16h0M161.93 367.36h0M165.85 362.19h0M169.77 356.72h0M173.68 351.07h0M177.60 345.31h0M181.52 339.55h0M185.43 333.89h0M189.35 328.43h0M193.27 323.25h0M197.18 318.45h0M201.10 314.11h0M205.02 310.31h0M208.93 307.10h0M212.85 304.55h0M216.77 302.70h0M220.68 301.57h0M224.60 301.19h0" stroke="#ff4040" stroke-width="4.2" stroke-linecap="round" fill="none"/>
<path d="M36.60 300.50h0M36.60 301.00h0M36.60 387.50h0M36.60 388.50h0M40.52 299.86h0M40.52 301.46h0M40.52 386.40h0M40.52 387.67h0M44.43 297.68h0M44.43 299.87h0M44.43 302.06h0M44.43 384.92h0M44.43 386.61h0M44.43 388.30h0M48.35 297.02h0M48.35 299.33h0M48.35 301.63h0M48.35 303.93h0M48.35 385.58h0M48.35 386.94h0M48.35 388.30h0M52.27 297.00h0M52.27 299.23h0M52.27 301.47h0M52.27 303.70h0M52.27 305.93h0M52.27 384.63h0M52.27 386.73h0M52.27 388.83h0M52.27 390.93h0M52.27 393.03h0M56.18 294.35h0M56.18 296.72h0M56.18 299.09h0M56.18 301.45h0M56.18 303.82h0M56.18 306.19h0M56.18 308.55h0M56.18 384.22h0M56.18 386.41h0M56.18 388.61h0M56.18 390.80h0M56.18 392.99h0M56.18 395.19h0M60.10 292.21h0M60.10 294.77h0M60.10 297.33h0M60.10 299.89h0M60.10 302.45h0M60.10 305.01h0M60.10 307.57h0M60.10 310.12h0M60.10 312.68h0M60.10 384.20h0M60.10 386.48h0M60.10 388.75h0M60.10 391.03h0M60.10 393.31h0M60.10 395.58h0M60.10 397.86h0M64.02 290.58h0M64.02 292.97h0M64.02 295.36h0M64.02 297.76h0M64.02 300.15h0M64.02 302.54h0M64.02 304.94h0M64.02 307.33h0M64.02 309.72h0M64.02 312.12h0M64.02 314.51h0M64.02 316.90h0M64.02 384.20h0M64.02 386.51h0M64.02 388.82h0M64.02 391.13h0M64.02 393.43h0M64.02 395.74h0M64.02 398.05h0M64.02 400.36h0M64.02 402.67h0M67.93 287.51h0M67.93 290.03h0M67.93 292.55h0M67.93 295.07h0M67.93 297.59h0M67.93 300.11h0M67.93 302.63h0M67.93 305.15h0M67.93 307.67h0M67.93 310.19h0M67.93 312.71h0M67.93 315.23h0M67.93 317.75h0M67.93 320.27h0M67.93 383.27h0M67.93 385.59h0M67.93 387.92h0M67.93 390.25h0M67.93 392.57h0M67.93 394.90h0M67.93 397.23h0M67.93 399.55h0M67.93 401.88h0M67.93 404.21h0M71.85 284.68h0M71.85 287.24h0M71.85 289.80h0M71.85 292.37h0M71.85 294.93h0M71.85 297.49h0M71.85 300.06h0M71.85 302.62h0M71.85 305.18h0M71.85 307.74h0M71.85 310.31h0M71.85 312.87h0M71.85 315.43h0M71.85 318.00h0M71.85 320.56h0M71.85 323.12h0M71.85 380.67h0M71.85 383.10h0M71.85 385.53h0M71.85 387.96h0M71.85 390.39h0M71.85 392.81h0M71.85 395.24h0M71.85 397.67h0M71.85 400.10h0M71.85 402.53h0M71.85 404.96h0M75.77 282.53h0M75.77 285.08h0M75.77 287.63h0M75.77 290.19h0M75.77 292.74h0M75.77 295.29h0M75.77 297.85h0M75.77 300.40h0M75.77 302.95h0M75.77 305.51h0M75.77 308.06h0M75.77 310.61h0M75.77 313.17h0M75.77 315.72h0M75.77 318.27h0M75.77 320.83h0M75.77 323.38h0M75.77 325.93h0M75.77 377.49h0M75.77 379.99h0M75.77 382.49h0M75.77 384.99h0M75.77 387.49h0M75.77 390.00h0M75.77 392.50h0M75.77 395.00h0M75.77 397.50h0M75.77 400.00h0M75.77 402.50h0M75.77 405.00h0M79.68 281.76h0M79.68 284.33h0M79.68 286.90h0M79.68 289.47h0M79.68 292.04h0M79.68 294.61h0M79.68 297.18h0M79.68 299.75h0M79.68 302.32h0M79.68 304.89h0M79.68 307.47h0M79.68 310.04h0M79.68 312.61h0M79.68 315.18h0M79.68 317.75h0M79.68 320.32h0M79.68 322.89h0M79.68 325.46h0M79.68 328.03h0M79.68 376.01h0M79.68 378.43h0M79.68 380.84h0M79.68 383.26h0M79.68 385.67h0M79.68 388.09h0M79.68 390.51h0M79.68 392.92h0M79.68 395.34h0M79.68 397.75h0M79.68 400.17h0M79.68 402.58h0M79.68 405.00h0M83.60 280.67h0M83.60 283.23h0M83.60 285.78h0M83.60 288.34h0M83.60 290.89h0M83.60 293.45h0M83.60 296.01h0M83.60 298.56h0M83.60 301.12h0M83.60 303.67h0M83.60 306.23h0M83.60 308.78h0M83.60 311.34h0M83.60 313.89h0M83.60 316.45h0M83.60 319.01h0M83.60 321.56h0M83.60 324.12h0M83.60 326.67h0M83.60 329.23h0M83.60 375.25h0M83.60 377.73h0M83.60 380.20h0M83.60 382.68h0M83.60 385.16h0M83.60 387.64h0M83.60 390.12h0M83.60 392.60h0M83.60 395.08h0M83.60 397.56h0M83.60 400.04h0M83.60 402.52h0M83.60 405.00h0M87.52 281.27h0M87.52 283.77h0M87.52 286.27h0M87.52 288.78h0M87.52 291.28h0M87.52 293.78h0M87.52 296.28h0M87.52 298.79h0M87.52 301.29h0M87.52 303.79h0M87.52 306.30h0M87.52 308.80h0M87.52 311.30h0M87.52 313.81h0M87.52 316.31h0M87.52 318.81h0M87.52 321.31h0M87.52 323.82h0M87.52 326.32h0M87.52 328.82h0M87.52 375.20h0M87.52 377.68h0M87.52 380.17h0M87.52 382.65h0M87.52 385.13h0M87.52 387.62h0M87.52 390.10h0M87.52 392.58h0M87.52 395.07h0M87.52 397.55h0M87.52 400.03h0M87.52 402.52h0M87.52 405.00h0M91.43 282.94h0M91.43 285.53h0M91.43 288.12h0M91.43 290.71h0M91.43 293.30h0M91.43 295.89h0M91.43 298.48h0M91.43 301.07h0M91.43 303.66h0M91.43 306.25h0M91.43 308.84h0M91.43 311.44h0M91.43 314.03h0M91.43 316.62h0M91.43 319.21h0M91.43 321.80h0M91.43 324.39h0M91.43 326.98h0M91.43 375.84h0M91.43 378.27h0M91.43 380.70h0M91.43 383.13h0M91.43 385.56h0M91.43 387.99h0M91.43 390.42h0M91.43 392.85h0M91.43 395.28h0M91.43 397.71h0M91.43 400.14h0M91.43 402.57h0M91.43 405.00h0M95.35 286.09h0M95.35 288.67h0M95.35 291.26h0M95.35 293.84h0M95.35 296.42h0M95.35 299.01h0M95.35 301.59h0M95.35 304.17h0M95.35 306.76h0M95.35 309.34h0M95.35 311.92h0M95.35 314.51h0M95.35 317.09h0M95.35 319.67h0M95.35 322.25h0M95.35 324.84h0M95.35 377.86h0M95.35 380.33h0M95.35 382.80h0M95.35 385.26h0M95.35 387.73h0M95.35 390.20h0M95.35 392.66h0M95.35 395.13h0M95.35 397.60h0M95.35 400.07h0M95.35 402.53h0M95.35 405.00h0M99.27 289.01h0M99.27 291.42h0M99.27 293.84h0M99.27 296.26h0M99.27 298.68h0M99.27 301.10h0M99.27 303.52h0M99.27 305.94h0M99.27 308.36h0M99.27 310.77h0M99.27 313.19h0M99.27 315.61h0M99.27 318.03h0M99.27 320.45h0M99.27 322.87h0M99.27 379.83h0M99.27 382.35h0M99.27 384.87h0M99.27 387.38h0M99.27 389.90h0M99.27 392.42h0M99.27 394.93h0M99.27 397.45h0M99.27 399.97h0M99.27 402.48h0M99.27 405.00h0M103.18 290.79h0M103.18 293.19h0M103.18 295.58h0M103.18 297.98h0M103.18 300.38h0M103.18 302.78h0M103.18 305.18h0M103.18 307.57h0M103.18 309.97h0M103.18 312.37h0M103.18 314.77h0M103.18 317.17h0M103.18 319.56h0M103.18 381.84h0M103.18 384.31h0M103.18 386.79h0M103.18 389.27h0M103.18 391.75h0M103.18 394.22h0M103.18 396.70h0M103.18 399.18h0M103.18 401.65h0M103.18 404.13h0M107.10 291.96h0M107.10 294.38h0M107.10 296.79h0M107.10 299.21h0M107.10 301.63h0M107.10 304.05h0M107.10 306.47h0M107.10 308.88h0M107.10 311.30h0M107.10 313.72h0M107.10 316.14h0M107.10 385.06h0M107.10 387.63h0M107.10 390.20h0M107.10 392.77h0M107.10 395.34h0M107.10 397.90h0M107.10 400.47h0M107.10 403.04h0M111.02 293.89h0M111.02 296.33h0M111.02 298.76h0M111.02 301.19h0M111.02 303.62h0M111.02 306.05h0M111.02 308.48h0M111.02 310.92h0M111.02 384.99h0M111.02 387.51h0M111.02 390.03h0M111.02 392.56h0M111.02 395.08h0M111.02 397.60h0M114.93 296.59h0M114.93 298.71h0M114.93 300.83h0M114.93 302.95h0M114.93 305.07h0M114.93 307.19h0M114.93 384.30h0M114.93 386.50h0M114.93 388.71h0M114.93 390.91h0M114.93 393.11h0M118.85 297.00h0M118.85 299.39h0M118.85 301.78h0M118.85 304.16h0M118.85 384.83h0M118.85 386.77h0M118.85 388.70h0M122.77 297.59h0M122.77 299.86h0M122.77 302.12h0M122.77 384.90h0M122.77 386.30h0M122.77 387.71h0M126.68 299.47h0M126.68 300.71h0M126.68 386.08h0M126.68 387.60h0M130.60 302.76h0M130.60 302.77h0M130.60 388.17h0M130.60 389.74h0M134.52 302.80h0M134.52 302.80h0M134.52 388.95h0M134.52 388.95h0M138.43 302.78h0M138.43 302.80h0M138.43 388.59h0M138.43 389.31h0M142.35 300.82h0M142.35 302.52h0M142.35 387.28h0M142.35 388.95h0M142.35 390.62h0M146.27 297.41h0M146.27 299.41h0M146.27 301.41h0M146.27 303.41h0M146.27 305.41h0M146.27 385.23h0M146.27 387.25h0M146.27 389.28h0M146.27 391.31h0M146.27 393.33h0M150.18 294.49h0M150.18 297.02h0M150.18 299.55h0M150.18 302.08h0M150.18 304.61h0M150.18 307.14h0M150.18 309.67h0M150.18 382.39h0M150.18 384.69h0M150.18 387.00h0M150.18 389.30h0M150.18 391.60h0M150.18 393.91h0M150.18 396.21h0M154.10 291.60h0M154.10 294.01h0M154.10 296.42h0M154.10 298.83h0M154.10 301.24h0M154.10 303.66h0M154.10 306.07h0M154.10 308.48h0M154.10 310.89h0M154.10 313.30h0M154.10 380.20h0M154.10 382.56h0M154.10 384.93h0M154.10 387.29h0M154.10 389.65h0M154.10 392.01h0M154.10 394.38h0M154.10 396.74h0M154.10 399.10h0M158.02 288.79h0M158.02 291.35h0M158.02 293.90h0M158.02 296.46h0M158.02 299.02h0M158.02 301.57h0M158.02 304.13h0M158.02 306.69h0M158.02 309.24h0M158.02 311.80h0M158.02 314.36h0M158.02 316.91h0M158.02 378.09h0M158.02 380.66h0M158.02 383.23h0M158.02 385.80h0M158.02 388.37h0M158.02 390.93h0M158.02 393.50h0M158.02 396.07h0M158.02 398.64h0M158.02 401.21h0M161.93 286.44h0M161.93 288.99h0M161.93 291.55h0M161.93 294.10h0M161.93 296.66h0M161.93 299.21h0M161.93 301.77h0M161.93 304.32h0M161.93 306.88h0M161.93 309.43h0M161.93 311.99h0M161.93 314.54h0M161.93 317.10h0M161.93 319.65h0M161.93 376.04h0M161.93 378.51h0M161.93 380.99h0M161.93 383.46h0M161.93 385.94h0M161.93 388.41h0M161.93 390.89h0M161.93 393.36h0M161.93 395.84h0M161.93 398.31h0M161.93 400.79h0M161.93 403.26h0M165.85 284.15h0M165.85 286.68h0M165.85 289.20h0M165.85 291.73h0M165.85 294.26h0M165.85 296.79h0M165.85 299.32h0M165.85 301.85h0M165.85 304.37h0M165.85 306.90h0M165.85 309.43h0M165.85 311.96h0M165.85 314.49h0M165.85 317.01h0M165.85 319.54h0M165.85 322.07h0M165.85 374.55h0M165.85 377.06h0M165.85 379.58h0M165.85 382.10h0M165.85 384.62h0M165.85 387.13h0M165.85 389.65h0M165.85 392.17h0M165.85 394.69h0M165.85 397.20h0M165.85 399.72h0M165.85 402.24h0M165.85 404.76h0M169.77 282.78h0M169.77 285.35h0M169.77 287.93h0M169.77 290.50h0M169.77 293.07h0M169.77 295.64h0M169.77 298.21h0M169.77 300.78h0M169.77 303.35h0M169.77 305.92h0M169.77 308.49h0M169.77 311.06h0M169.77 313.63h0M169.77 316.21h0M169.77 318.78h0M169.77 321.35h0M169.77 323.92h0M169.77 373.19h0M169.77 375.73h0M169.77 378.27h0M169.77 380.81h0M169.77 383.35h0M169.77 385.89h0M169.77 388.43h0M169.77 390.97h0M169.77 393.51h0M169.77 396.06h0M169.77 398.60h0M169.77 401.14h0M169.77 403.68h0M169.77 406.22h0M173.68 281.80h0M173.68 284.34h0M173.68 286.89h0M173.68 289.43h0M173.68 291.97h0M173.68 294.51h0M173.68 297.05h0M173.68 299.59h0M173.68 302.13h0M173.68 304.67h0M173.68 307.21h0M173.68 309.75h0M173.68 312.29h0M173.68 314.83h0M173.68 317.37h0M173.68 319.91h0M173.68 322.45h0M173.68 325.00h0M173.68 372.50h0M173.68 374.99h0M173.68 377.47h0M173.68 379.96h0M173.68 382.44h0M173.68 384.93h0M173.68 387.41h0M173.68 389.90h0M173.68 392.38h0M173.68 394.87h0M173.68 397.35h0M173.68 399.84h0M173.68 402.33h0M173.68 404.81h0M173.68 407.30h0M177.60 281.41h0M177.60 283.88h0M177.60 286.36h0M177.60 288.84h0M177.60 291.31h0M177.60 293.79h0M177.60 296.27h0M177.60 298.74h0M177.60 301.22h0M177.60 303.70h0M177.60 306.17h0M177.60 308.65h0M177.60 311.13h0M177.60 313.60h0M177.60 316.08h0M177.60 318.56h0M177.60 321.03h0M177.60 323.51h0M177.60 325.99h0M177.60 371.41h0M177.60 374.00h0M177.60 376.58h0M177.60 379.17h0M177.60 381.75h0M177.60 384.34h0M177.60 386.92h0M177.60 389.51h0M177.60 392.09h0M177.60 394.67h0M177.60 397.26h0M177.60 399.84h0M177.60 402.43h0M177.60 405.01h0M177.60 407.60h0M181.52 281.79h0M181.52 284.33h0M181.52 286.88h0M181.52 289.42h0M181.52 291.96h0M181.52 294.51h0M181.52 297.05h0M181.52 299.59h0M181.52 302.13h0M181.52 304.68h0M181.52 307.22h0M181.52 309.76h0M181.52 312.31h0M181.52 314.85h0M181.52 317.39h0M181.52 319.94h0M181.52 322.48h0M181.52 325.02h0M181.52 372.48h0M181.52 374.96h0M181.52 377.45h0M181.52 379.94h0M181.52 382.43h0M181.52 384.92h0M181.52 387.40h0M181.52 389.89h0M181.52 392.38h0M181.52 394.87h0M181.52 397.36h0M181.52 399.84h0M181.52 402.33h0M181.52 404.82h0M181.52 407.31h0M185.43 282.82h0M185.43 285.38h0M185.43 287.95h0M185.43 290.51h0M185.43 293.08h0M185.43 295.65h0M185.43 298.21h0M185.43 300.78h0M185.43 303.35h0M185.43 305.91h0M185.43 308.48h0M185.43 311.04h0M185.43 313.61h0M185.43 316.18h0M185.43 318.74h0M185.43 321.31h0M185.43 323.88h0M185.43 373.92h0M185.43 376.40h0M185.43 378.88h0M185.43 381.36h0M185.43 383.85h0M185.43 386.33h0M185.43 388.81h0M185.43 391.29h0M185.43 393.78h0M185.43 396.26h0M185.43 398.74h0M185.43 401.22h0M185.43 403.70h0M185.43 406.19h0M189.35 284.63h0M189.35 287.06h0M189.35 289.49h0M189.35 291.92h0M189.35 294.35h0M189.35 296.78h0M189.35 299.20h0M189.35 301.63h0M189.35 304.06h0M189.35 306.49h0M189.35 308.92h0M189.35 311.35h0M189.35 313.78h0M189.35 316.21h0M189.35 318.64h0M189.35 321.07h0M189.35 376.03h0M189.35 378.41h0M189.35 380.80h0M189.35 383.19h0M189.35 385.58h0M189.35 387.96h0M189.35 390.35h0M189.35 392.74h0M189.35 395.12h0M189.35 397.51h0M189.35 399.90h0M189.35 402.29h0M189.35 404.67h0M193.27 286.98h0M193.27 289.39h0M193.27 291.80h0M193.27 294.21h0M193.27 296.62h0M193.27 299.04h0M193.27 301.45h0M193.27 303.86h0M193.27 306.27h0M193.27 308.68h0M193.27 311.09h0M193.27 313.50h0M193.27 315.91h0M193.27 318.32h0M193.27 378.08h0M193.27 380.54h0M193.27 382.99h0M193.27 385.44h0M193.27 387.90h0M193.27 390.35h0M193.27 392.80h0M193.27 395.26h0M193.27 397.71h0M193.27 400.16h0M193.27 402.62h0M197.18 289.14h0M197.18 291.68h0M197.18 294.23h0M197.18 296.78h0M197.18 299.33h0M197.18 301.87h0M197.18 304.42h0M197.18 306.97h0M197.18 309.52h0M197.18 312.06h0M197.18 314.61h0M197.18 380.14h0M197.18 382.69h0M197.18 385.24h0M197.18 387.80h0M197.18 390.35h0M197.18 392.90h0M197.18 395.46h0M197.18 398.01h0M197.18 400.56h0M201.10 291.93h0M201.10 294.35h0M201.10 296.77h0M201.10 299.19h0M201.10 301.61h0M201.10 304.03h0M201.10 306.45h0M201.10 308.87h0M201.10 311.28h0M201.10 382.25h0M201.10 384.83h0M201.10 387.42h0M201.10 390.01h0M201.10 392.60h0M201.10 395.18h0M201.10 397.77h0M205.02 294.89h0M205.02 297.06h0M205.02 299.24h0M205.02 301.41h0M205.02 303.59h0M205.02 305.77h0M205.02 307.94h0M205.02 384.91h0M205.02 387.45h0M205.02 390.00h0M205.02 392.55h0M205.02 395.09h0M208.93 297.99h0M208.93 300.36h0M208.93 302.72h0M208.93 305.09h0M208.93 387.06h0M208.93 388.80h0M208.93 390.55h0M208.93 392.29h0M212.85 300.35h0M212.85 302.28h0M212.85 389.17h0M212.85 389.48h0M216.77 300.98h0M216.77 301.52h0M216.77 388.96h0M216.77 388.96h0M220.68 300.82h0M220.68 301.23h0M220.68 388.72h0M220.68 388.72h0M224.60 300.50h0M224.60 301.00h0M224.60 388.50h0M224.60 388.50h0" stroke="#808080" stroke-width="4.2" stroke-linecap="round" fill="none"/>
<path d="M36.60 389.42h0M40.52 389.04h0M44.43 387.92h0M48.35 386.06h0M52.27 383.51h0M56.18 380.31h0M60.10 376.50h0M64.02 372.16h0M67.93 367.36h0M71.85 362.19h0M75.77 356.72h0M79.68 351.07h0M83.60 345.31h0M87.52 339.55h0M91.43 333.89h0M95.35 328.43h0M99.27 323.25h0M103.18 318.45h0M107.10 314.11h0M111.02 310.31h0M114.93 307.10h0M118.85 304.55h0M122.77 302.70h0M126.68 301.57h0M130.60 301.19h0M134.52 301.57h0M138.43 302.70h0M142.35 304.55h0M146.27 307.10h0M150.18 310.31h0M154.10 314.11h0M158.02 318.45h0M161.93 323.25h0M165.85 328.43h0M169.77 333.89h0M173.68 339.55h0M177.60 345.31h0M181.52 351.07h0M185.43 356.72h0M189.35 362.19h0M193.27 367.36h0M197.18 372.16h0M201.10 376.50h0M205.02 380.31h0M208.93 383.51h0M212.85 386.06h0M216.77 387.92h0M220.68 389.04h0M224.60 389.42h0" stroke="#4040ff" stroke-width="4.2" stroke-linecap="round" fill="none"/>
</g>
<rect x="51.3" y="423.5" width="154.8" height="15.6" rx="1.5" fill="#ffffff" fill-opacity="0.8" stroke="#cccccc" stroke-width="0.9"/>
<circle cx="56.8" cy="430.7" r="2.3" fill="#ff4040"/>
<circle cx="114.9" cy="430.7" r="2.3" fill="#808080"/>
<circle cx="150.4" cy="430.7" r="2.3" fill="#4040ff"/>
<rect x="28.50" y="20.00" width="185.00" height="184.50" stroke="#383838" stroke-width="1.15" fill="none"/>
<path d="M28.50 204.50v3.50M28.50 20.00v-3.50M121.00 204.50v3.50M121.00 20.00v-3.50M213.50 204.50v3.50M213.50 20.00v-3.50M28.50 20.00h-3.50M213.50 20.00h3.50M28.50 112.25h-3.50M213.50 112.25h3.50M28.50 204.50h-3.50M213.50 204.50h3.50" stroke="#383838" stroke-width="1.15" fill="none"/>
<rect x="243.00" y="20.00" width="185.50" height="184.50" stroke="#383838" stroke-width="1.15" fill="none"/>
<path d="M243.00 204.50v3.50M243.00 20.00v-3.50M335.75 204.50v3.50M335.75 20.00v-3.50M428.50 204.50v3.50M428.50 20.00v-3.50M243.00 20.00h-3.50M428.50 20.00h3.50M243.00 112.25h-3.50M428.50 112.25h3.50M243.00 204.50h-3.50M428.50 204.50h3.50" stroke="#383838" stroke-width="1.15" fill="none"/>
<rect x="457.50" y="20.00" width="184.80" height="184.50" stroke="#383838" stroke-width="1.15" fill="none"/>
<path d="M457.50 204.50v3.50M457.50 20.00v-3.50M549.90 204.50v3.50M549.90 20.00v-3.50M642.30 204.50v3.50M642.30 20.00v-3.50M457.50 20.00h-3.50M642.30 20.00h3.50M457.50 112.25h-3.50M642.30 112.25h3.50M457.50 204.50h-3.50M642.30 204.50h3.50" stroke="#383838" stroke-width="1.15" fill="none"/>
<rect x="657.6" y="36.6" width="9.6" height="151.9" stroke="#111" stroke-width="0.85" fill="none"/>
<path d="M667.2 36.6h3.5M667.2 112.55h3.5M667.2 188.5h3.5" stroke="#383838" stroke-width="1.15" fill="none"/>
<rect x="36.60" y="271.50" width="188.00" height="170.90" stroke="#383838" stroke-width="1.15" fill="none"/>
<path d="M36.60 442.40v2.70M36.60 271.50v-2.70M130.60 442.40v2.70M130.60 271.50v-2.70M224.60 442.40v2.70M224.60 271.50v-2.70M36.60 442.40h-2.70M224.60 442.40h2.70M36.60 399.67h-2.70M224.60 399.67h2.70M36.60 356.95h-2.70M224.60 356.95h2.70M36.60 314.22h-2.70M224.60 314.22h2.70M36.60 271.50h-2.70M224.60 271.50h2.70" stroke="#383838" stroke-width="1.15" fill="none"/>
<rect x="249.30" y="271.50" width="171.10" height="170.90" stroke="#383838" stroke-width="1.15" fill="none"/>
<path d="M255.88 442.40v2.70M255.88 271.50v-2.70M334.85 442.40v2.70M334.85 271.50v-2.70M413.82 442.40v2.70M413.82 271.50v-2.70M249.30 442.40h-2.70M420.40 442.40h2.70M249.30 399.67h-2.70M420.40 399.67h2.70M249.30 356.95h-2.70M420.40 356.95h2.70M249.30 314.22h-2.70M420.40 314.22h2.70M249.30 271.50h-2.70M420.40 271.50h2.70" stroke="#383838" stroke-width="1.15" fill="none"/>
<rect x="445.90" y="271.50" width="171.50" height="170.90" stroke="#383838" stroke-width="1.15" fill="none"/>
<path d="M452.50 442.40v2.70M452.50 271.50v-2.70M531.65 442.40v2.70M531.65 271.50v-2.70M610.80 442.40v2.70M610.80 271.50v-2.70M445.90 442.40h-2.70M617.40 442.40h2.70M445.90 399.67h-2.70M617.40 399.67h2.70M445.90 356.95h-2.70M617.40 356.95h2.70M445.90 314.22h-2.70M617.40 314.22h2.70M445.90 271.50h-2.70M617.40 271.50h2.70" stroke="#383838" stroke-width="1.15" fill="none"/>
<rect x="638.6" y="287.3" width="9.9" height="138.1" stroke="#111" stroke-width="0.85" fill="none"/>
<rect x="654.9" y="287.3" width="9.6" height="138.1" stroke="#111" stroke-width="0.85" fill="none"/>
<path d="M648.5 287.3h3.3M648.5 425.4h3.3M664.5 287.3h3.6M664.5 425.4h3.6" stroke="#383838" stroke-width="1.15" fill="none"/>
<text x="-0.80" y="8.00" font-size="15.40" text-anchor="start" font-family="Liberation Sans, sans-serif" font-weight="bold">a</text>
<text x="-1.60" y="263.40" font-size="15.40" text-anchor="start" font-family="Liberation Sans, sans-serif" textLength="10.90" lengthAdjust="spacingAndGlyphs" font-weight="bold">b</text>
<text x="244.60" y="260.80" font-size="15.40" text-anchor="start" font-family="Liberation Sans, sans-serif" font-weight="bold">c</text>
<text x="441.30" y="263.70" font-size="15.40" text-anchor="start" font-family="Liberation Sans, sans-serif" font-weight="bold">d</text>
<text x="112.00" y="12.70" font-size="11.80" font-family="Liberation Sans, sans-serif"  textLength="19.71" lengthAdjust="spacingAndGlyphs">thr.</text>
<text x="323.30" y="12.70" font-size="11.80" font-family="Liberation Sans, sans-serif"  textLength="24.61" lengthAdjust="spacingAndGlyphs">sim.</text>
<text x="537.40" y="10.70" font-size="11.80" font-family="Liberation Sans, sans-serif"  textLength="25.18" lengthAdjust="spacingAndGlyphs">exp.</text>
<text x="7.20" y="24.00" font-size="11.80" font-family="Liberation Sans, sans-serif"  textLength="15.02" lengthAdjust="spacingAndGlyphs">2<tspan font-style="italic">π</tspan></text>
<text x="14.80" y="115.00" font-size="11.80" font-family="Liberation Sans, sans-serif"  textLength="7.57" lengthAdjust="spacingAndGlyphs"><tspan font-style="italic">π</tspan></text>
<text x="16.80" y="208.60" font-size="11.80" font-family="Liberation Sans, sans-serif"  textLength="6.10" lengthAdjust="spacingAndGlyphs">0</text>
<text x="25.40" y="219.30" font-size="11.80" font-family="Liberation Sans, sans-serif"  textLength="6.56" lengthAdjust="spacingAndGlyphs">0</text>
<text x="116.70" y="219.70" font-size="11.80" font-family="Liberation Sans, sans-serif"  textLength="8.30" lengthAdjust="spacingAndGlyphs"><tspan font-style="italic">π</tspan></text>
<text x="205.40" y="219.00" font-size="11.80" font-family="Liberation Sans, sans-serif"  textLength="15.50" lengthAdjust="spacingAndGlyphs">2<tspan font-style="italic">π</tspan></text>
<text x="114.70" y="229.40" font-size="11.80" font-family="Liberation Sans, sans-serif"  textLength="11.76" lengthAdjust="spacingAndGlyphs"><tspan font-style="italic">k</tspan><tspan font-style="italic" font-size="8.6" dy="2.0">x</tspan></text>
<text x="240.00" y="219.30" font-size="11.80" font-family="Liberation Sans, sans-serif"  textLength="6.56" lengthAdjust="spacingAndGlyphs">0</text>
<text x="331.90" y="219.70" font-size="11.80" font-family="Liberation Sans, sans-serif"  textLength="6.97" lengthAdjust="spacingAndGlyphs"><tspan font-style="italic">π</tspan></text>
<text x="420.20" y="219.00" font-size="11.80" font-family="Liberation Sans, sans-serif"  textLength="15.50" lengthAdjust="spacingAndGlyphs">2<tspan font-style="italic">π</tspan></text>
<text x="328.90" y="229.40" font-size="11.80" font-family="Liberation Sans, sans-serif"  textLength="11.76" lengthAdjust="spacingAndGlyphs"><tspan font-style="italic">k</tspan><tspan font-style="italic" font-size="8.6" dy="2.0">x</tspan></text>
<text x="454.60" y="219.30" font-size="11.80" font-family="Liberation Sans, sans-serif"  textLength="6.75" lengthAdjust="spacingAndGlyphs">0</text>
<text x="546.00" y="219.70" font-size="11.80" font-family="Liberation Sans, sans-serif"  textLength="7.12" lengthAdjust="spacingAndGlyphs"><tspan font-style="italic">π</tspan></text>
<text x="633.80" y="219.00" font-size="11.80" font-family="Liberation Sans, sans-serif"  textLength="15.50" lengthAdjust="spacingAndGlyphs">2<tspan font-style="italic">π</tspan></text>
<text x="544.00" y="229.40" font-size="11.80" font-family="Liberation Sans, sans-serif"  textLength="11.77" lengthAdjust="spacingAndGlyphs"><tspan font-style="italic">k</tspan><tspan font-style="italic" font-size="8.6" dy="2.0">x</tspan></text>
<text transform="translate(7.95,114.40) rotate(-90)" x="0" y="0" font-size="11.80" font-family="Liberation Sans, sans-serif" font-style="italic" textLength="5.90" lengthAdjust="spacingAndGlyphs">θ</text>
<text x="650.00" y="32.00" font-size="11.80" font-family="Liberation Sans, sans-serif"  textLength="24.38" lengthAdjust="spacingAndGlyphs">max</text>
<text x="648.00" y="199.40" font-size="11.80" font-family="Liberation Sans, sans-serif"  textLength="28.86" lengthAdjust="spacingAndGlyphs">-max</text>
<text transform="translate(682.50,157.40) rotate(-90)" x="0" y="0" font-size="11.80" font-family="Liberation Sans, sans-serif"  textLength="90.84" lengthAdjust="spacingAndGlyphs">Berry curvature</text>
<text x="76.20" y="246.00" font-size="11.80" font-family="Liberation Sans, sans-serif"  textLength="310.95" lengthAdjust="spacingAndGlyphs">Bulk: 5.453 kHz — 5.628 kHz, 5.851 kHz — 6.058 kHz</text>
<text x="426.80" y="246.00" font-size="11.80" font-family="Liberation Sans, sans-serif"  textLength="172.86" lengthAdjust="spacingAndGlyphs">Edge: 5.548 kHz — 5.961 kHz</text>
<text x="117.80" y="265.30" font-size="11.80" font-family="Liberation Sans, sans-serif"  textLength="25.90" lengthAdjust="spacingAndGlyphs">sim.</text>
<text x="290.40" y="265.40" font-size="11.80" font-family="Liberation Sans, sans-serif"  textLength="87.31" lengthAdjust="spacingAndGlyphs">Left edge, exp.</text>
<text x="483.00" y="265.40" font-size="11.80" font-family="Liberation Sans, sans-serif"  textLength="96.05" lengthAdjust="spacingAndGlyphs">Right edge, exp.</text>
<text x="13.20" y="446.90" font-size="11.80" font-family="Liberation Sans, sans-serif"  textLength="18.63" lengthAdjust="spacingAndGlyphs">5.3</text>
<text x="13.20" y="404.12" font-size="11.80" font-family="Liberation Sans, sans-serif"  textLength="18.63" lengthAdjust="spacingAndGlyphs">5.5</text>
<text x="13.20" y="361.35" font-size="11.80" font-family="Liberation Sans, sans-serif"  textLength="18.63" lengthAdjust="spacingAndGlyphs">5.7</text>
<text x="13.20" y="318.57" font-size="11.80" font-family="Liberation Sans, sans-serif"  textLength="18.63" lengthAdjust="spacingAndGlyphs">5.9</text>
<text x="13.20" y="275.80" font-size="11.80" font-family="Liberation Sans, sans-serif"  textLength="18.63" lengthAdjust="spacingAndGlyphs">6.1</text>
<text transform="translate(8.80,403.20) rotate(-90)" x="0" y="0" font-size="11.80" font-family="Liberation Sans, sans-serif"  textLength="93.35" lengthAdjust="spacingAndGlyphs">Frequency (kHz)</text>
<text x="33.20" y="455.00" font-size="11.80" font-family="Liberation Sans, sans-serif"  textLength="6.63" lengthAdjust="spacingAndGlyphs">0</text>
<text x="126.20" y="455.40" font-size="11.80" font-family="Liberation Sans, sans-serif"  textLength="7.97" lengthAdjust="spacingAndGlyphs"><tspan font-style="italic">π</tspan></text>
<text x="216.60" y="454.80" font-size="11.80" font-family="Liberation Sans, sans-serif"  textLength="15.50" lengthAdjust="spacingAndGlyphs">2<tspan font-style="italic">π</tspan></text>
<text x="126.40" y="464.75" font-size="11.80" font-family="Liberation Sans, sans-serif" font-style="italic" textLength="7.59" lengthAdjust="spacingAndGlyphs">θ</text>
<text x="252.68" y="455.00" font-size="11.80" font-family="Liberation Sans, sans-serif"  textLength="6.62" lengthAdjust="spacingAndGlyphs">0</text>
<text x="331.10" y="455.40" font-size="11.80" font-family="Liberation Sans, sans-serif"  textLength="7.11" lengthAdjust="spacingAndGlyphs"><tspan font-style="italic">π</tspan></text>
<text x="405.92" y="454.80" font-size="11.80" font-family="Liberation Sans, sans-serif"  textLength="15.50" lengthAdjust="spacingAndGlyphs">2<tspan font-style="italic">π</tspan></text>
<text x="331.30" y="464.75" font-size="11.80" font-family="Liberation Sans, sans-serif" font-style="italic" textLength="6.64" lengthAdjust="spacingAndGlyphs">θ</text>
<text x="448.39" y="455.00" font-size="11.80" font-family="Liberation Sans, sans-serif"  textLength="7.73" lengthAdjust="spacingAndGlyphs">0</text>
<text x="527.90" y="455.40" font-size="11.80" font-family="Liberation Sans, sans-serif"  textLength="6.98" lengthAdjust="spacingAndGlyphs"><tspan font-style="italic">π</tspan></text>
<text x="602.81" y="454.80" font-size="11.80" font-family="Liberation Sans, sans-serif"  textLength="15.50" lengthAdjust="spacingAndGlyphs">2<tspan font-style="italic">π</tspan></text>
<text x="528.10" y="464.75" font-size="11.80" font-family="Liberation Sans, sans-serif" font-style="italic" textLength="6.50" lengthAdjust="spacingAndGlyphs">θ</text>
<text x="639.00" y="281.80" font-size="11.80" font-family="Liberation Sans, sans-serif"  textLength="26.03" lengthAdjust="spacingAndGlyphs">max</text>
<text x="648.40" y="438.10" font-size="11.80" font-family="Liberation Sans, sans-serif"  textLength="6.63" lengthAdjust="spacingAndGlyphs">0</text>
<text transform="translate(681.85,366.60) rotate(-90)" x="0" y="0" font-size="11.80" font-family="Liberation Sans, sans-serif"  textLength="20.34" lengthAdjust="spacingAndGlyphs">|<tspan font-style="italic">ρ</tspan>|<tspan font-size="8.4" dy="-4.5">2</tspan></text>
<text x="60.80" y="433.60" font-size="9.20" font-family="Liberation Sans, sans-serif"  textLength="40.87" lengthAdjust="spacingAndGlyphs">Left edge</text>
<text x="119.40" y="433.60" font-size="9.20" font-family="Liberation Sans, sans-serif"  textLength="19.50" lengthAdjust="spacingAndGlyphs">Bulk</text>
<text x="154.60" y="433.60" font-size="9.20" font-family="Liberation Sans, sans-serif"  textLength="47.57" lengthAdjust="spacingAndGlyphs">Right edge</text>
</svg>
</body></html>
